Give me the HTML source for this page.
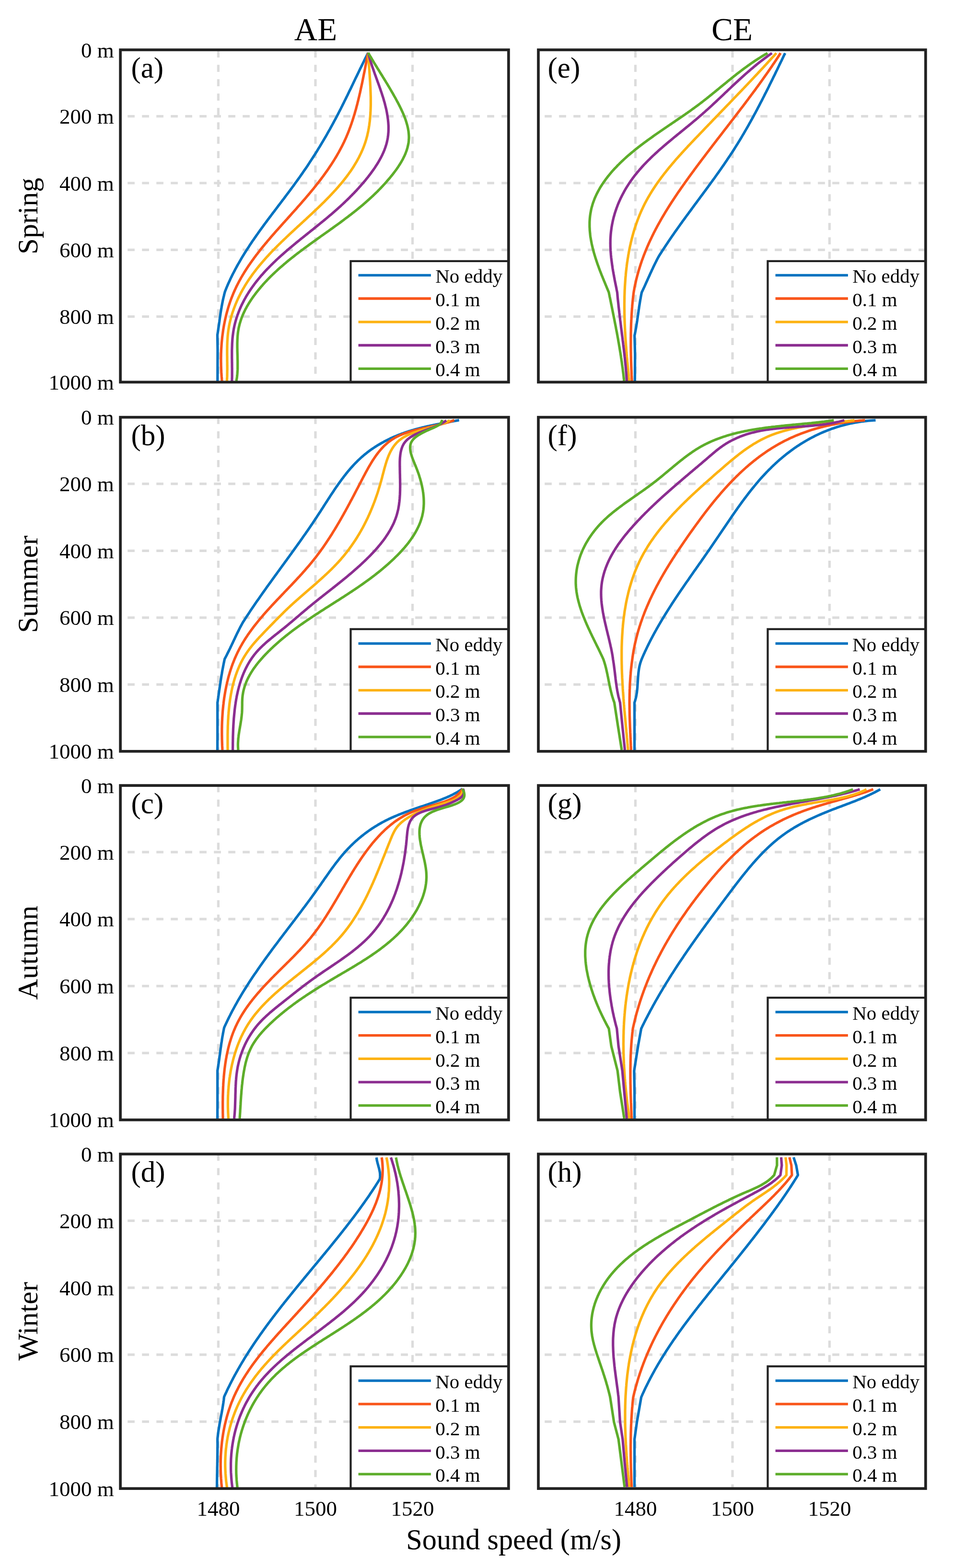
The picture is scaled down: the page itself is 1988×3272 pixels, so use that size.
<!DOCTYPE html>
<html><head><meta charset="utf-8"><title>Sound speed profiles</title><style>html,body{margin:0;padding:0;background:#fff;}svg{display:block}</style></head><body>
<svg xmlns="http://www.w3.org/2000/svg" width="1988" height="3272" viewBox="0 0 1988 3272" style="display:block">
<rect width="1988" height="3272" fill="#fff"/>
<g><line x1="455.4" y1="104" x2="455.4" y2="797.4" stroke="#dcdcdc" stroke-width="5.2" stroke-dasharray="14.7 15.3" stroke-dashoffset="-1.2"/><line x1="658" y1="104" x2="658" y2="797.4" stroke="#dcdcdc" stroke-width="5.2" stroke-dasharray="14.7 15.3" stroke-dashoffset="-1.2"/><line x1="860.6" y1="104" x2="860.6" y2="797.4" stroke="#dcdcdc" stroke-width="5.2" stroke-dasharray="14.7 15.3" stroke-dashoffset="-1.2"/><line x1="1060.9" y1="242.7" x2="251.1" y2="242.7" stroke="#dcdcdc" stroke-width="5.2" stroke-dasharray="14.7 15.3" stroke-dashoffset="0"/><line x1="1060.9" y1="382" x2="251.1" y2="382" stroke="#dcdcdc" stroke-width="5.2" stroke-dasharray="14.7 15.3" stroke-dashoffset="0"/><line x1="1060.9" y1="521.4" x2="251.1" y2="521.4" stroke="#dcdcdc" stroke-width="5.2" stroke-dasharray="14.7 15.3" stroke-dashoffset="0"/><line x1="1060.9" y1="660.7" x2="251.1" y2="660.7" stroke="#dcdcdc" stroke-width="5.2" stroke-dasharray="14.7 15.3" stroke-dashoffset="0"/></g>
<polyline points="768,110 766.6,112.7 765.3,115.4 763.9,118.1 762.6,120.8 761.2,123.5 759.9,126.2 758.6,128.9 757.2,131.6 755.9,134.3 754.6,137 753.3,139.7 751.9,142.4 750.6,145.2 749.3,147.9 748,150.6 746.7,153.3 745.4,156 744.1,158.8 742.7,161.5 741.4,164.2 740.1,166.9 738.8,169.6 737.5,172.4 736.2,175.1 734.9,177.8 733.6,180.5 732.3,183.3 731,186 729.6,188.7 728.3,191.4 727,194.1 725.7,196.8 724.4,199.6 723,202.3 721.7,205 720.4,207.7 719,210.4 717.7,213.1 716.4,215.8 715,218.5 713.7,221.2 712.3,223.9 711,226.6 709.6,229.3 708.2,231.9 706.8,234.6 705.5,237.3 704.1,240 702.7,242.7 701.3,245.3 699.9,248 698.5,250.6 697,253.3 695.6,256 694.2,258.6 692.7,261.2 691.3,263.9 689.8,266.5 688.4,269.2 686.9,271.8 685.4,274.4 683.9,277 682.5,279.6 681,282.2 679.5,284.9 677.9,287.5 676.4,290.1 674.9,292.6 673.4,295.2 671.8,297.8 670.3,300.4 668.7,303 667.2,305.6 665.6,308.1 664,310.7 662.4,313.3 660.9,315.8 659.3,318.4 657.7,320.9 656.1,323.5 654.4,326 652.8,328.5 651.2,331.1 649.5,333.6 647.9,336.1 646.2,338.6 644.6,341.1 642.9,343.7 641.3,346.2 639.6,348.7 637.9,351.2 636.2,353.6 634.5,356.1 632.8,358.6 631.1,361.1 629.3,363.6 627.6,366 625.9,368.5 624.1,371 622.4,373.4 620.6,375.9 618.9,378.3 617.1,380.8 615.3,383.2 613.5,385.7 611.8,388.1 610,390.5 608.2,393 606.4,395.4 604.6,397.8 602.8,400.3 601,402.7 599.1,405.1 597.3,407.5 595.5,409.9 593.7,412.4 591.9,414.8 590,417.2 588.2,419.6 586.4,422 584.6,424.4 582.7,426.8 580.9,429.2 579.1,431.6 577.2,434.1 575.4,436.5 573.6,438.9 571.8,441.3 569.9,443.7 568.1,446.1 566.3,448.5 564.5,451 562.6,453.4 560.8,455.8 559,458.2 557.2,460.6 555.4,463.1 553.6,465.5 551.8,467.9 550,470.4 548.3,472.8 546.5,475.2 544.7,477.7 542.9,480.1 541.2,482.6 539.4,485 537.7,487.5 535.9,490 534.2,492.4 532.5,494.9 530.7,497.4 529,499.9 527.3,502.3 525.6,504.8 524,507.3 522.3,509.8 520.6,512.3 519,514.9 517.3,517.4 515.7,519.9 514.1,522.4 512.4,525 510.8,527.5 509.2,530.1 507.7,532.6 506.1,535.2 504.5,537.8 503,540.4 501.5,543 500,545.6 498.5,548.2 497,550.8 495.5,553.4 494,556.1 492.6,558.7 491.2,561.3 489.8,564 488.4,566.7 487,569.4 485.6,572 484.3,574.7 482.9,577.5 481.6,580.2 480.3,582.9 479.1,585.7 477.8,588.4 476.5,591.2 475.3,593.9 474.1,596.7 472.9,599.5 471.8,602.3 470.6,605.2 469.5,608 468.6,611.1 467.8,614.2 467.1,617.3 466.3,620.4 465.6,623.5 464.9,626.6 464.3,629.7 463.7,632.8 463.1,636 462.5,639.1 462,642.2 461.4,645.4 460.9,648.5 460.4,651.7 459.9,654.8 459.5,658 459,661.1 458.5,664.3 458.1,667.4 457.7,670.6 457.2,673.8 456.8,676.9 456.3,680.1 455.9,683.2 455.4,686.4 455,689.5 454.5,692.7 454,695.9 453.5,699 454,730 453.8,795" fill="none" stroke="#0072C0" stroke-width="5.3" stroke-linejoin="round" stroke-linecap="butt"/>
<polyline points="768,110 767.4,112.9 766.8,115.8 766.2,118.8 765.6,121.7 765,124.7 764.5,127.6 763.9,130.6 763.3,133.5 762.7,136.5 762.1,139.5 761.6,142.4 761,145.4 760.4,148.4 759.8,151.4 759.2,154.3 758.6,157.3 758,160.3 757.4,163.3 756.8,166.3 756.2,169.2 755.6,172.2 755,175.2 754.3,178.2 753.7,181.2 753,184.1 752.4,187.1 751.7,190.1 751.1,193.1 750.4,196 749.7,199 749,202 748.3,204.9 747.6,207.9 746.9,210.8 746.1,213.8 745.4,216.7 744.6,219.7 743.8,222.6 743.1,225.5 742.3,228.5 741.4,231.4 740.6,234.3 739.8,237.2 738.9,240.1 738,243 737.1,245.9 736.2,248.7 735.3,251.6 734.3,254.5 733.4,257.3 732.4,260.1 731.4,263 730.4,265.8 729.3,268.6 728.3,271.4 727.2,274.2 726.1,277 725,279.7 723.8,282.5 722.7,285.2 721.5,288 720.3,290.7 719,293.4 717.8,296.1 716.5,298.7 715.2,301.4 713.9,304.1 712.5,306.7 711.1,309.3 709.7,312 708.3,314.6 706.9,317.2 705.4,319.8 704,322.3 702.5,324.9 701,327.5 699.4,330 697.9,332.5 696.3,335.1 694.7,337.6 693.1,340.1 691.5,342.6 689.9,345.1 688.2,347.6 686.6,350 684.9,352.5 683.2,355 681.5,357.4 679.7,359.8 678,362.3 676.2,364.7 674.5,367.1 672.7,369.5 670.9,371.9 669.1,374.3 667.3,376.7 665.4,379.1 663.6,381.5 661.7,383.8 659.8,386.2 658,388.6 656.1,390.9 654.2,393.3 652.3,395.6 650.3,398 648.4,400.3 646.5,402.6 644.5,405 642.6,407.3 640.6,409.6 638.6,411.9 636.7,414.2 634.7,416.5 632.7,418.8 630.7,421.1 628.7,423.4 626.7,425.7 624.7,428 622.6,430.3 620.6,432.6 618.6,434.9 616.6,437.2 614.5,439.5 612.5,441.7 610.4,444 608.4,446.3 606.4,448.6 604.3,450.9 602.3,453.1 600.2,455.4 598.2,457.7 596.1,460 594.1,462.3 592,464.5 590,466.8 587.9,469.1 585.9,471.4 583.8,473.7 581.8,476 579.8,478.3 577.7,480.5 575.7,482.8 573.7,485.1 571.7,487.4 569.6,489.7 567.6,492 565.6,494.3 563.6,496.7 561.7,499 559.7,501.3 557.7,503.6 555.8,506 553.8,508.3 551.9,510.6 549.9,513 548,515.3 546.1,517.7 544.2,520 542.3,522.4 540.5,524.8 538.6,527.2 536.8,529.6 534.9,531.9 533.1,534.3 531.3,536.8 529.5,539.2 527.8,541.6 526,544 524.3,546.5 522.5,548.9 520.8,551.4 519.1,553.8 517.5,556.3 515.8,558.8 514.2,561.3 512.6,563.8 511,566.3 509.4,568.8 507.9,571.4 506.3,573.9 504.8,576.5 503.3,579 501.9,581.6 500.4,584.2 499,586.8 497.6,589.4 496.3,592.1 494.9,594.7 493.6,597.3 492.3,600 491.1,602.7 489.8,605.4 488.6,608.1 487.4,610.8 486.3,613.5 485.2,616.3 484.1,619 483,621.8 481.9,624.6 480.9,627.4 479.9,630.2 479,633 478,635.8 477.1,638.7 476.2,641.5 475.4,644.4 474.6,647.3 473.8,650.1 473,653 472.2,655.9 471.5,658.8 470.8,661.8 470.1,664.7 469.5,667.6 468.9,670.6 468.3,673.5 467.7,676.5 467.1,679.5 466.6,682.4 466.1,685.4 465.6,688.4 465.2,691.4 464.8,694.4 464.4,697.4 464,700.4 463.6,703.5 463.3,706.5 463,709.5 462.7,712.5 462.4,715.6 462.2,718.6 462,721.7 461.8,724.7 461.6,727.8 461.4,730.8 461.3,733.9 461.2,736.9 461.1,740 461.1,743 461,746.1 461,749.2 461,752.2 461,755.3 461.1,758.3 461.1,761.4 461.2,764.5 461.3,767.5 461.4,770.6 461.6,773.7 461.7,776.7 461.9,779.8 462.1,782.8 462.3,785.9 462.6,788.9 462.8,792 463.1,795" fill="none" stroke="#F9551A" stroke-width="5.3" stroke-linejoin="round" stroke-linecap="butt"/>
<polyline points="768,110 768.2,112.9 768.3,115.8 768.5,118.7 768.7,121.6 768.9,124.6 769.1,127.5 769.3,130.5 769.5,133.4 769.7,136.4 769.9,139.4 770.1,142.4 770.4,145.4 770.6,148.5 770.8,151.5 771,154.5 771.2,157.6 771.4,160.6 771.6,163.7 771.8,166.8 772,169.8 772.2,172.9 772.3,176 772.5,179.1 772.7,182.1 772.8,185.2 772.9,188.3 773,191.4 773.1,194.5 773.2,197.6 773.3,200.7 773.4,203.8 773.4,206.9 773.4,209.9 773.4,213 773.4,216.1 773.4,219.2 773.3,222.3 773.2,225.3 773.1,228.4 773,231.4 772.8,234.5 772.7,237.5 772.5,240.6 772.2,243.6 772,246.6 771.7,249.6 771.4,252.6 771,255.6 770.6,258.6 770.2,261.6 769.7,264.5 769.3,267.5 768.7,270.4 768.2,273.3 767.6,276.2 766.9,279.1 766.3,282 765.6,284.8 764.8,287.7 764,290.5 763.2,293.3 762.3,296.1 761.4,298.9 760.4,301.7 759.4,304.4 758.4,307.1 757.3,309.8 756.2,312.5 755,315.2 753.8,317.9 752.6,320.5 751.3,323.2 750,325.8 748.7,328.4 747.3,331 745.9,333.6 744.5,336.1 743,338.7 741.5,341.2 740,343.7 738.5,346.2 736.9,348.7 735.3,351.2 733.6,353.7 732,356.2 730.3,358.6 728.5,361 726.8,363.5 725,365.9 723.2,368.3 721.4,370.7 719.6,373 717.7,375.4 715.8,377.8 713.9,380.1 712,382.5 710,384.8 708,387.1 706,389.4 704,391.7 702,394 700,396.3 697.9,398.5 695.8,400.8 693.7,403 691.6,405.3 689.5,407.5 687.4,409.8 685.2,412 683.1,414.2 680.9,416.4 678.7,418.6 676.6,420.8 674.4,423 672.1,425.1 669.9,427.3 667.7,429.5 665.5,431.6 663.2,433.8 661,435.9 658.7,438.1 656.5,440.2 654.2,442.3 652,444.5 649.7,446.6 647.4,448.7 645.2,450.8 642.9,452.9 640.6,455 638.4,457.1 636.1,459.2 633.8,461.3 631.6,463.4 629.3,465.5 627,467.6 624.8,469.7 622.5,471.7 620.2,473.8 618,475.9 615.7,478 613.5,480.1 611.2,482.2 609,484.2 606.8,486.3 604.5,488.4 602.3,490.5 600.1,492.6 597.9,494.7 595.7,496.8 593.5,498.9 591.3,501 589.1,503.1 586.9,505.2 584.8,507.3 582.6,509.4 580.5,511.5 578.3,513.7 576.2,515.8 574.1,517.9 572,520.1 569.9,522.2 567.8,524.4 565.7,526.5 563.7,528.7 561.6,530.9 559.6,533.1 557.5,535.3 555.5,537.5 553.5,539.7 551.6,541.9 549.6,544.2 547.7,546.4 545.7,548.7 543.8,550.9 541.9,553.2 540,555.5 538.2,557.8 536.3,560.1 534.5,562.4 532.7,564.8 530.9,567.1 529.1,569.5 527.3,571.9 525.6,574.2 523.9,576.7 522.2,579.1 520.5,581.5 518.8,584 517.2,586.4 515.6,588.9 514,591.4 512.4,593.9 510.9,596.4 509.4,599 507.9,601.6 506.4,604.1 505,606.7 503.5,609.4 502.1,612 500.8,614.7 499.4,617.3 498.1,620 496.8,622.7 495.5,625.5 494.3,628.2 493.1,631 491.9,633.8 490.8,636.5 489.7,639.4 488.6,642.2 487.6,645 486.6,647.9 485.6,650.7 484.6,653.6 483.7,656.5 482.9,659.4 482,662.3 481.3,665.2 480.5,668.2 479.8,671.1 479.1,674.1 478.5,677.1 477.9,680 477.4,683 476.9,686 476.4,689 476,692 475.6,695.1 475.3,698.1 475,701.1 474.8,704.2 474.6,707.2 474.4,710.3 474.2,713.3 474.1,716.4 474,719.4 473.9,722.5 473.9,725.6 473.8,728.6 473.8,731.7 473.8,734.8 473.8,737.8 473.8,740.9 473.9,743.9 473.9,747 473.9,750.1 473.9,753.1 474,756.1 474,759.2 474,762.2 474.1,765.2 474.1,768.3 474.1,771.3 474,774.3 474,777.3 473.9,780.3 473.9,783.2 473.8,786.2 473.6,789.1 473.5,792.1 473.3,795" fill="none" stroke="#FDB212" stroke-width="5.3" stroke-linejoin="round" stroke-linecap="butt"/>
<polyline points="768,110 768.7,112.8 769.4,115.6 770.2,118.4 771,121.2 771.8,124.1 772.7,126.9 773.6,129.7 774.5,132.5 775.4,135.4 776.3,138.2 777.3,141.1 778.3,143.9 779.3,146.7 780.3,149.6 781.3,152.5 782.3,155.3 783.4,158.2 784.4,161.1 785.4,163.9 786.5,166.8 787.5,169.7 788.6,172.6 789.6,175.5 790.7,178.4 791.7,181.3 792.7,184.2 793.7,187.1 794.7,190.1 795.7,193 796.7,195.9 797.6,198.9 798.6,201.8 799.5,204.7 800.4,207.7 801.2,210.7 802.1,213.6 802.9,216.6 803.6,219.6 804.4,222.6 805.1,225.6 805.8,228.5 806.4,231.5 807,234.5 807.5,237.5 808,240.5 808.5,243.5 808.9,246.5 809.3,249.5 809.6,252.4 809.9,255.4 810.1,258.4 810.3,261.4 810.4,264.3 810.4,267.3 810.4,270.2 810.3,273.1 810.2,276.1 809.9,279 809.7,281.9 809.3,284.7 808.9,287.6 808.4,290.5 807.8,293.3 807.2,296.2 806.5,299 805.7,301.8 804.8,304.6 803.9,307.4 802.9,310.1 801.9,312.9 800.8,315.6 799.6,318.3 798.4,321 797.2,323.7 795.8,326.4 794.5,329 793.1,331.6 791.6,334.3 790.1,336.9 788.6,339.5 787,342 785.4,344.6 783.7,347.1 782.1,349.7 780.3,352.2 778.6,354.7 776.8,357.1 775,359.6 773.2,362.1 771.4,364.5 769.5,366.9 767.7,369.3 765.8,371.7 763.9,374 762,376.4 760,378.7 758.1,381 756.1,383.3 754.1,385.6 752.2,387.8 750.2,390.1 748.2,392.3 746.1,394.5 744.1,396.8 742.1,398.9 740,401.1 737.9,403.3 735.8,405.4 733.7,407.6 731.6,409.7 729.5,411.8 727.4,414 725.3,416 723.1,418.1 720.9,420.2 718.8,422.3 716.6,424.3 714.4,426.4 712.2,428.4 710,430.5 707.7,432.5 705.5,434.5 703.3,436.5 701,438.5 698.7,440.5 696.5,442.5 694.2,444.4 691.9,446.4 689.6,448.4 687.3,450.3 685,452.3 682.7,454.2 680.3,456.2 678,458.1 675.6,460.1 673.3,462 670.9,463.9 668.6,465.8 666.2,467.8 663.8,469.7 661.5,471.6 659.1,473.5 656.7,475.4 654.3,477.4 651.9,479.3 649.5,481.2 647.1,483.1 644.8,485 642.4,486.9 640,488.8 637.6,490.7 635.2,492.7 632.8,494.6 630.4,496.5 628,498.4 625.7,500.3 623.3,502.3 620.9,504.2 618.5,506.1 616.2,508.1 613.8,510 611.5,512 609.1,513.9 606.8,515.9 604.5,517.8 602.1,519.8 599.8,521.8 597.5,523.8 595.2,525.8 592.9,527.8 590.7,529.8 588.4,531.8 586.1,533.8 583.9,535.8 581.7,537.8 579.4,539.9 577.2,541.9 575,544 572.9,546.1 570.7,548.2 568.5,550.3 566.4,552.4 564.3,554.5 562.2,556.6 560.1,558.8 558,560.9 555.9,563.1 553.9,565.2 551.9,567.4 549.9,569.6 547.9,571.9 545.9,574.1 544,576.3 542.1,578.6 540.2,580.9 538.3,583.2 536.5,585.5 534.6,587.8 532.8,590.1 531,592.5 529.3,594.9 527.5,597.3 525.8,599.7 524.1,602.1 522.5,604.5 520.8,607 519.2,609.5 517.6,612 516.1,614.5 514.5,617 513,619.6 511.6,622.2 510.1,624.8 508.7,627.4 507.4,630 506,632.7 504.7,635.3 503.4,638 502.2,640.7 501,643.4 499.8,646.2 498.7,648.9 497.6,651.7 496.6,654.5 495.5,657.3 494.6,660.1 493.6,662.9 492.7,665.8 491.9,668.6 491.1,671.5 490.3,674.4 489.6,677.3 488.9,680.2 488.3,683.2 487.7,686.1 487.2,689.1 486.7,692.1 486.3,695.1 485.9,698.1 485.5,701.1 485.2,704.1 484.9,707.1 484.7,710.2 484.5,713.2 484.3,716.3 484.2,719.4 484.1,722.4 484,725.5 483.9,728.6 483.8,731.6 483.8,734.7 483.8,737.8 483.8,740.9 483.8,743.9 483.8,747 483.9,750.1 483.9,753.1 483.9,756.2 484,759.2 484,762.3 484,765.3 484.1,768.3 484.1,771.4 484.1,774.4 484.1,777.4 484.1,780.3 484.1,783.3 484.1,786.2 484,789.2 483.9,792.1 483.8,795" fill="none" stroke="#8B2D90" stroke-width="5.3" stroke-linejoin="round" stroke-linecap="butt"/>
<polyline points="768,110 769.5,112.6 771,115.2 772.5,117.8 774.1,120.3 775.6,122.9 777.1,125.5 778.7,128 780.2,130.6 781.8,133.1 783.3,135.7 784.9,138.2 786.4,140.7 788,143.3 789.6,145.8 791.2,148.4 792.7,150.9 794.3,153.5 795.9,156 797.5,158.5 799,161.1 800.6,163.7 802.2,166.2 803.8,168.8 805.3,171.4 806.9,173.9 808.5,176.5 810,179.1 811.6,181.7 813.1,184.3 814.7,187 816.2,189.6 817.8,192.3 819.3,194.9 820.8,197.6 822.3,200.3 823.9,203 825.4,205.7 826.8,208.4 828.3,211.2 829.8,213.9 831.3,216.7 832.7,219.5 834.1,222.3 835.5,225.1 836.9,228 838.2,230.8 839.5,233.6 840.8,236.5 842,239.4 843.2,242.2 844.3,245.1 845.4,248 846.4,250.9 847.3,253.8 848.2,256.7 849,259.5 849.8,262.4 850.5,265.3 851.1,268.2 851.6,271.1 852.1,274 852.4,276.9 852.7,279.7 852.9,282.6 853,285.5 853,288.3 852.8,291.1 852.6,294 852.3,296.8 851.9,299.6 851.3,302.4 850.7,305.2 850,308 849.2,310.7 848.4,313.5 847.4,316.2 846.4,318.9 845.3,321.7 844.1,324.4 842.8,327 841.5,329.7 840.2,332.4 838.7,335 837.2,337.6 835.7,340.2 834.1,342.8 832.4,345.4 830.8,347.9 829,350.5 827.3,353 825.5,355.5 823.6,358 821.8,360.4 819.9,362.9 818,365.3 816,367.7 814.1,370.1 812.1,372.5 810.1,374.8 808.1,377.1 806.1,379.4 804.1,381.7 802.1,384 800,386.2 798,388.4 795.9,390.6 793.8,392.8 791.7,395 789.6,397.1 787.5,399.3 785.4,401.4 783.2,403.5 781,405.6 778.9,407.7 776.7,409.7 774.5,411.8 772.3,413.8 770.1,415.8 767.9,417.8 765.6,419.8 763.4,421.8 761.1,423.8 758.8,425.7 756.6,427.7 754.3,429.6 752,431.5 749.7,433.4 747.3,435.3 745,437.2 742.7,439.1 740.3,441 738,442.9 735.6,444.7 733.2,446.6 730.9,448.4 728.5,450.2 726.1,452.1 723.7,453.9 721.2,455.7 718.8,457.5 716.4,459.4 714,461.2 711.5,463 709.1,464.8 706.6,466.6 704.2,468.3 701.7,470.1 699.2,471.9 696.8,473.7 694.3,475.5 691.8,477.3 689.3,479 686.9,480.8 684.4,482.6 681.9,484.3 679.4,486.1 676.9,487.9 674.4,489.7 671.9,491.4 669.4,493.2 667,495 664.5,496.7 662,498.5 659.5,500.3 657,502.1 654.5,503.9 652.1,505.6 649.6,507.4 647.1,509.2 644.6,511 642.2,512.8 639.7,514.6 637.3,516.4 634.8,518.2 632.4,520 629.9,521.9 627.5,523.7 625.1,525.5 622.6,527.3 620.2,529.2 617.8,531 615.4,532.9 613,534.8 610.7,536.6 608.3,538.5 605.9,540.4 603.6,542.3 601.2,544.2 598.9,546.1 596.6,548.1 594.3,550 592,551.9 589.7,553.9 587.4,555.9 585.2,557.8 582.9,559.8 580.7,561.8 578.5,563.8 576.3,565.9 574.1,567.9 571.9,570 569.7,572 567.6,574.1 565.4,576.2 563.3,578.3 561.2,580.4 559.2,582.5 557.1,584.7 555.1,586.9 553,589 551,591.2 549,593.4 547.1,595.7 545.1,597.9 543.2,600.2 541.3,602.4 539.4,604.7 537.5,607.1 535.7,609.4 533.9,611.7 532.1,614.1 530.3,616.5 528.5,618.9 526.8,621.3 525.1,623.8 523.4,626.2 521.8,628.7 520.2,631.2 518.7,633.7 517.1,636.3 515.6,638.8 514.2,641.4 512.8,644 511.4,646.6 510.1,649.3 508.8,652 507.6,654.6 506.4,657.4 505.3,660.1 504.2,662.8 503.2,665.6 502.3,668.4 501.4,671.2 500.5,674.1 499.7,677 499,679.8 498.3,682.8 497.7,685.7 497.2,688.6 496.7,691.6 496.3,694.6 496,697.7 495.7,700.7 495.5,703.8 495.3,706.8 495.2,709.9 495.1,713 495,716.1 495,719.3 495,722.4 495,725.5 495.1,728.6 495.1,731.8 495.2,734.9 495.3,738.1 495.4,741.2 495.5,744.3 495.5,747.4 495.6,750.5 495.7,753.6 495.7,756.7 495.7,759.8 495.7,762.9 495.7,765.9 495.7,768.9 495.6,771.9 495.4,774.9 495.2,777.9 495,780.8 494.7,783.7 494.4,786.6 494,789.4 493.5,792.2 493,795" fill="none" stroke="#5DAD2A" stroke-width="5.3" stroke-linejoin="round" stroke-linecap="butt"/>
<rect x="731.5" y="544.9" width="329.4" height="252.5" fill="#fff" stroke="#222222" stroke-width="4.2"/>
<line x1="747.6" y1="574.3" x2="898.9" y2="574.3" stroke="#0072C0" stroke-width="5.3"/>
<text x="908.2" y="590.4" font-size="41" font-family="'Liberation Serif','Times New Roman',serif" fill="#000">No eddy</text>
<line x1="747.6" y1="623" x2="898.9" y2="623" stroke="#F9551A" stroke-width="5.3"/>
<text x="908.2" y="639.1" font-size="41" font-family="'Liberation Serif','Times New Roman',serif" fill="#000">0.1 m</text>
<line x1="747.6" y1="671.8" x2="898.9" y2="671.8" stroke="#FDB212" stroke-width="5.3"/>
<text x="908.2" y="687.9" font-size="41" font-family="'Liberation Serif','Times New Roman',serif" fill="#000">0.2 m</text>
<line x1="747.6" y1="720.5" x2="898.9" y2="720.5" stroke="#8B2D90" stroke-width="5.3"/>
<text x="908.2" y="736.6" font-size="41" font-family="'Liberation Serif','Times New Roman',serif" fill="#000">0.3 m</text>
<line x1="747.6" y1="769.3" x2="898.9" y2="769.3" stroke="#5DAD2A" stroke-width="5.3"/>
<text x="908.2" y="785.4" font-size="41" font-family="'Liberation Serif','Times New Roman',serif" fill="#000">0.4 m</text>
<rect x="251.1" y="104" width="809.8" height="693.4" fill="none" stroke="#222222" stroke-width="5.7"/>
<text x="273.4" y="161.8" font-size="61" font-family="'Liberation Serif','Times New Roman',serif" fill="#000">(a)</text>
<text x="237.8" y="119.5" font-size="45" font-family="'Liberation Serif','Times New Roman',serif" text-anchor="end" fill="#000">0 m</text>
<text x="237.8" y="258.2" font-size="45" font-family="'Liberation Serif','Times New Roman',serif" text-anchor="end" fill="#000">200 m</text>
<text x="237.8" y="397.5" font-size="45" font-family="'Liberation Serif','Times New Roman',serif" text-anchor="end" fill="#000">400 m</text>
<text x="237.8" y="536.9" font-size="45" font-family="'Liberation Serif','Times New Roman',serif" text-anchor="end" fill="#000">600 m</text>
<text x="237.8" y="676.2" font-size="45" font-family="'Liberation Serif','Times New Roman',serif" text-anchor="end" fill="#000">800 m</text>
<text x="237.8" y="812.9" font-size="45" font-family="'Liberation Serif','Times New Roman',serif" text-anchor="end" fill="#000">1000 m</text>
<g><line x1="455.4" y1="870.7" x2="455.4" y2="1567.8" stroke="#dcdcdc" stroke-width="5.2" stroke-dasharray="14.7 15.3" stroke-dashoffset="0.6"/><line x1="658" y1="870.7" x2="658" y2="1567.8" stroke="#dcdcdc" stroke-width="5.2" stroke-dasharray="14.7 15.3" stroke-dashoffset="0.6"/><line x1="860.6" y1="870.7" x2="860.6" y2="1567.8" stroke="#dcdcdc" stroke-width="5.2" stroke-dasharray="14.7 15.3" stroke-dashoffset="0.6"/><line x1="1060.9" y1="1009.7" x2="251.1" y2="1009.7" stroke="#dcdcdc" stroke-width="5.2" stroke-dasharray="14.7 15.3" stroke-dashoffset="0"/><line x1="1060.9" y1="1149.3" x2="251.1" y2="1149.3" stroke="#dcdcdc" stroke-width="5.2" stroke-dasharray="14.7 15.3" stroke-dashoffset="0"/><line x1="1060.9" y1="1288.8" x2="251.1" y2="1288.8" stroke="#dcdcdc" stroke-width="5.2" stroke-dasharray="14.7 15.3" stroke-dashoffset="0"/><line x1="1060.9" y1="1428.4" x2="251.1" y2="1428.4" stroke="#dcdcdc" stroke-width="5.2" stroke-dasharray="14.7 15.3" stroke-dashoffset="0"/></g>
<polyline points="957.7,876.7 954.8,877.3 951.9,877.8 949,878.4 946.1,878.9 943.1,879.5 940.2,880 937.2,880.6 934.3,881.1 931.3,881.7 928.3,882.2 925.3,882.8 922.4,883.4 919.4,883.9 916.4,884.5 913.4,885.1 910.4,885.7 907.4,886.3 904.4,886.9 901.4,887.5 898.4,888.1 895.4,888.8 892.4,889.4 889.4,890.1 886.4,890.8 883.4,891.5 880.4,892.2 877.4,893 874.5,893.7 871.5,894.5 868.5,895.3 865.6,896.1 862.6,897 859.7,897.8 856.8,898.7 853.9,899.6 851,900.6 848.1,901.5 845.2,902.5 842.3,903.5 839.5,904.6 836.6,905.6 833.8,906.7 831,907.8 828.2,908.9 825.4,910.1 822.6,911.3 819.9,912.5 817.1,913.7 814.4,915 811.7,916.3 809,917.6 806.3,919 803.6,920.3 801,921.7 798.4,923.2 795.8,924.6 793.2,926.1 790.6,927.6 788.1,929.1 785.5,930.7 783,932.3 780.6,933.9 778.1,935.6 775.6,937.2 773.2,938.9 770.8,940.7 768.5,942.4 766.1,944.2 763.8,946.1 761.5,947.9 759.2,949.8 757,951.7 754.7,953.6 752.5,955.6 750.4,957.6 748.2,959.6 746.1,961.7 744,963.8 741.9,965.9 739.9,968 737.8,970.2 735.8,972.4 733.8,974.6 731.8,976.8 729.9,979.1 727.9,981.4 726,983.6 724.1,986 722.2,988.3 720.4,990.7 718.5,993 716.7,995.4 714.9,997.8 713,1000.2 711.3,1002.7 709.5,1005.1 707.7,1007.6 705.9,1010.1 704.2,1012.6 702.4,1015.1 700.7,1017.6 699,1020.1 697.3,1022.6 695.6,1025.2 693.9,1027.7 692.2,1030.3 690.5,1032.8 688.8,1035.4 687.2,1038 685.5,1040.5 683.8,1043.1 682.2,1045.7 680.5,1048.3 678.8,1050.9 677.2,1053.4 675.5,1056 673.9,1058.6 672.2,1061.2 670.5,1063.8 668.9,1066.4 667.2,1068.9 665.5,1071.5 663.9,1074.1 662.2,1076.6 660.5,1079.2 658.8,1081.7 657.1,1084.3 655.5,1086.8 653.8,1089.3 652.1,1091.9 650.4,1094.4 648.6,1096.9 646.9,1099.4 645.2,1101.9 643.5,1104.4 641.8,1106.9 640.1,1109.4 638.3,1111.9 636.6,1114.4 634.9,1116.8 633.1,1119.3 631.4,1121.8 629.7,1124.3 627.9,1126.7 626.2,1129.2 624.4,1131.7 622.7,1134.1 620.9,1136.6 619.2,1139 617.4,1141.5 615.7,1143.9 613.9,1146.4 612.2,1148.8 610.4,1151.2 608.6,1153.7 606.9,1156.1 605.1,1158.5 603.4,1161 601.6,1163.4 599.8,1165.8 598.1,1168.3 596.3,1170.7 594.5,1173.1 592.8,1175.5 591,1178 589.2,1180.4 587.5,1182.8 585.7,1185.3 583.9,1187.7 582.2,1190.1 580.4,1192.5 578.6,1195 576.9,1197.4 575.1,1199.8 573.3,1202.2 571.6,1204.7 569.8,1207.1 568.1,1209.5 566.3,1212 564.6,1214.4 562.8,1216.8 561,1219.3 559.3,1221.7 557.5,1224.1 555.8,1226.6 554.1,1229 552.3,1231.5 550.6,1233.9 548.8,1236.4 547.1,1238.8 545.4,1241.3 543.6,1243.8 541.9,1246.2 540.2,1248.7 538.5,1251.2 536.7,1253.6 535,1256.1 533.3,1258.6 531.6,1261.1 529.9,1263.6 528.2,1266.1 526.5,1268.6 524.8,1271.1 523.1,1273.6 521.4,1276.1 519.8,1278.6 518.1,1281.2 516.4,1283.7 514.7,1286.2 513.1,1288.8 511.4,1291.3 509.8,1293.9 508.1,1296.4 506.5,1299 505,1301.7 503.5,1304.5 502,1307.3 500.5,1310.1 499.1,1312.9 497.7,1315.7 496.3,1318.5 494.9,1321.3 493.5,1324.1 492.2,1327 490.8,1329.8 489.5,1332.7 488.1,1335.5 486.8,1338.3 485.5,1341.2 484.1,1344 482.8,1346.9 481.4,1349.7 480.1,1352.6 478.7,1355.4 477.3,1358.2 475.9,1361 474.5,1363.8 473.1,1366.7 471.7,1369.4 470.2,1372.2 468.7,1375 468,1378.1 467.4,1381.2 466.7,1384.3 466.1,1387.4 465.5,1390.6 464.9,1393.7 464.3,1396.8 463.7,1399.9 463.2,1403.1 462.7,1406.2 462.1,1409.4 461.6,1412.5 461.1,1415.6 460.6,1418.8 460.1,1421.9 459.7,1425.1 459.2,1428.2 458.7,1431.4 458.3,1434.5 457.8,1437.7 457.3,1440.8 456.9,1444 456.4,1447.1 456,1450.3 455.5,1453.4 455.1,1456.6 454.6,1459.7 454.2,1462.9 453.7,1466 453.7,1469.1 453.7,1472.2 453.7,1475.3 453.7,1478.4 453.7,1481.5 453.7,1484.6 453.7,1487.7 453.7,1490.8 453.7,1493.8 453.7,1496.9 453.7,1500 453.7,1503.1 453.7,1506.2 453.7,1509.3 453.7,1512.4 453.7,1515.5 453.7,1518.6 453.7,1521.7 453.7,1524.8 453.7,1527.9 453.7,1531 453.7,1534.1 453.7,1537.2 453.7,1540.3 453.7,1543.3 453.6,1546.4 453.6,1549.5 453.6,1552.6 453.6,1555.7 453.6,1558.8 453.5,1561.9 453.5,1565" fill="none" stroke="#0072C0" stroke-width="5.3" stroke-linejoin="round" stroke-linecap="butt"/>
<polyline points="947.7,876.7 945,877.7 942.3,878.7 939.5,879.7 936.8,880.6 933.9,881.5 931.1,882.3 928.2,883.2 925.3,883.9 922.3,884.7 919.3,885.5 916.4,886.2 913.3,886.9 910.3,887.6 907.3,888.3 904.2,889 901.2,889.7 898.1,890.3 895,891 892,891.7 888.9,892.3 885.8,893 882.7,893.7 879.7,894.4 876.6,895.1 873.5,895.8 870.5,896.5 867.5,897.3 864.5,898.1 861.5,898.9 858.5,899.7 855.5,900.6 852.6,901.5 849.7,902.4 846.8,903.4 844,904.4 841.2,905.5 838.4,906.6 835.7,907.7 833,908.9 830.3,910.1 827.7,911.4 825.2,912.8 822.6,914.2 820.2,915.7 817.8,917.2 815.4,918.8 813.1,920.5 810.8,922.2 808.6,924 806.5,925.9 804.3,927.8 802.3,929.7 800.2,931.7 798.2,933.8 796.3,935.9 794.4,938 792.5,940.2 790.7,942.4 788.9,944.7 787.1,947 785.3,949.4 783.6,951.8 781.9,954.2 780.3,956.6 778.7,959.1 777,961.6 775.5,964.1 773.9,966.7 772.4,969.3 770.8,971.9 769.3,974.5 767.8,977.1 766.4,979.8 764.9,982.5 763.4,985.1 762,987.8 760.6,990.5 759.1,993.2 757.7,995.9 756.3,998.6 754.9,1001.3 753.5,1004 752.1,1006.7 750.7,1009.4 749.3,1012.1 747.9,1014.8 746.5,1017.5 745,1020.2 743.6,1022.9 742.2,1025.6 740.8,1028.3 739.4,1031 738,1033.7 736.6,1036.4 735.2,1039 733.8,1041.7 732.3,1044.4 730.9,1047 729.5,1049.7 728.1,1052.4 726.6,1055 725.2,1057.7 723.8,1060.3 722.3,1063 720.9,1065.6 719.4,1068.2 717.9,1070.9 716.5,1073.5 715,1076.1 713.5,1078.7 712.1,1081.3 710.6,1083.9 709.1,1086.5 707.6,1089.1 706.1,1091.7 704.5,1094.3 703,1096.9 701.5,1099.5 699.9,1102 698.4,1104.6 696.8,1107.1 695.2,1109.7 693.7,1112.2 692.1,1114.8 690.5,1117.3 688.9,1119.8 687.3,1122.3 685.6,1124.8 684,1127.3 682.3,1129.8 680.7,1132.3 679,1134.8 677.3,1137.2 675.6,1139.7 673.9,1142.2 672.2,1144.6 670.4,1147 668.7,1149.5 666.9,1151.9 665.1,1154.3 663.3,1156.7 661.5,1159.1 659.7,1161.5 657.9,1163.9 656,1166.2 654.1,1168.6 652.2,1170.9 650.3,1173.3 648.4,1175.6 646.5,1177.9 644.6,1180.2 642.6,1182.5 640.6,1184.8 638.6,1187.1 636.6,1189.4 634.6,1191.7 632.6,1193.9 630.6,1196.2 628.6,1198.5 626.5,1200.7 624.5,1203 622.4,1205.2 620.3,1207.4 618.2,1209.7 616.2,1211.9 614.1,1214.1 612,1216.3 609.9,1218.6 607.8,1220.8 605.7,1223 603.6,1225.2 601.5,1227.4 599.3,1229.6 597.2,1231.8 595.1,1234 593,1236.2 590.9,1238.5 588.8,1240.7 586.7,1242.9 584.6,1245.1 582.5,1247.3 580.4,1249.5 578.3,1251.7 576.2,1253.9 574.1,1256.2 572,1258.4 569.9,1260.6 567.8,1262.8 565.8,1265.1 563.7,1267.3 561.7,1269.6 559.6,1271.8 557.6,1274.1 555.6,1276.3 553.6,1278.6 551.6,1280.8 549.6,1283.1 547.6,1285.4 545.7,1287.7 543.7,1290 541.8,1292.3 539.9,1294.6 538,1296.9 536.1,1299.3 534.2,1301.6 532.4,1304 530.5,1306.3 528.7,1308.7 526.9,1311.1 525.1,1313.5 523.4,1315.9 521.6,1318.3 519.9,1320.7 518.2,1323.1 516.5,1325.6 514.9,1328.1 513.2,1330.5 511.6,1333 510,1335.5 508.5,1338 506.9,1340.6 505.4,1343.1 504,1345.7 502.5,1348.3 501.1,1350.8 499.7,1353.5 498.3,1356.1 497,1358.7 495.6,1361.4 494.4,1364.1 493.1,1366.7 491.9,1369.5 490.7,1372.2 489.5,1374.9 488.4,1377.7 487.3,1380.4 486.2,1383.2 485.1,1386 484.1,1388.8 483.1,1391.7 482.2,1394.5 481.2,1397.4 480.3,1400.2 479.4,1403.1 478.6,1406 477.7,1408.9 476.9,1411.8 476.1,1414.7 475.4,1417.7 474.7,1420.6 473.9,1423.5 473.3,1426.5 472.6,1429.5 472,1432.4 471.4,1435.4 470.8,1438.4 470.2,1441.4 469.7,1444.4 469.2,1447.4 468.7,1450.4 468.2,1453.4 467.7,1456.5 467.3,1459.5 466.9,1462.5 466.5,1465.5 466.2,1468.6 465.8,1471.6 465.5,1474.7 465.2,1477.7 464.9,1480.7 464.6,1483.8 464.4,1486.8 464.2,1489.9 464,1492.9 463.8,1496 463.6,1499 463.5,1502.1 463.3,1505.1 463.2,1508.1 463.1,1511.2 463,1514.2 463,1517.3 462.9,1520.3 462.9,1523.3 462.9,1526.3 462.9,1529.3 462.9,1532.4 462.9,1535.4 463,1538.4 463,1541.3 463.1,1544.3 463.2,1547.3 463.3,1550.3 463.4,1553.2 463.5,1556.2 463.7,1559.1 463.8,1562.1 464,1565" fill="none" stroke="#F9551A" stroke-width="5.3" stroke-linejoin="round" stroke-linecap="butt"/>
<polyline points="938.3,877.3 935.9,878.6 933.4,879.9 930.9,881.1 928.3,882.2 925.6,883.3 922.8,884.3 920,885.4 917.1,886.3 914.2,887.3 911.2,888.2 908.2,889.1 905.2,890 902.1,890.9 899.1,891.7 896,892.6 892.8,893.5 889.7,894.4 886.6,895.2 883.5,896.1 880.4,897.1 877.3,898 874.2,899 871.1,899.9 868.1,901 865.1,902 862.1,903.1 859.2,904.2 856.3,905.4 853.5,906.6 850.7,907.9 848,909.2 845.4,910.6 842.8,912 840.3,913.5 837.9,915.1 835.6,916.8 833.4,918.5 831.2,920.3 829.2,922.2 827.2,924.1 825.4,926.2 823.6,928.3 821.9,930.5 820.3,932.7 818.8,935 817.4,937.4 816,939.8 814.6,942.3 813.4,944.9 812.2,947.4 811,950.1 809.9,952.8 808.9,955.5 807.9,958.2 806.9,961 806,963.8 805.1,966.7 804.2,969.6 803.4,972.5 802.6,975.4 801.7,978.3 801,981.3 800.2,984.3 799.4,987.2 798.6,990.2 797.8,993.2 797.1,996.2 796.3,999.2 795.5,1002.1 794.7,1005.1 793.8,1008.1 793,1011 792.1,1014 791.2,1016.9 790.3,1019.8 789.4,1022.8 788.5,1025.7 787.6,1028.6 786.6,1031.5 785.6,1034.3 784.6,1037.2 783.6,1040.1 782.6,1042.9 781.6,1045.8 780.5,1048.6 779.4,1051.4 778.3,1054.2 777.2,1057 776.1,1059.8 774.9,1062.6 773.8,1065.4 772.6,1068.1 771.4,1070.9 770.2,1073.6 768.9,1076.3 767.7,1079.1 766.4,1081.8 765.1,1084.5 763.8,1087.1 762.5,1089.8 761.1,1092.5 759.8,1095.1 758.4,1097.8 757,1100.4 755.6,1103 754.1,1105.6 752.7,1108.2 751.2,1110.8 749.7,1113.3 748.2,1115.9 746.6,1118.4 745.1,1121 743.5,1123.5 741.9,1126 740.3,1128.5 738.6,1130.9 737,1133.4 735.3,1135.8 733.6,1138.3 731.9,1140.7 730.1,1143.1 728.4,1145.5 726.6,1147.9 724.8,1150.2 723,1152.6 721.1,1154.9 719.2,1157.3 717.4,1159.6 715.4,1161.9 713.5,1164.1 711.6,1166.4 709.6,1168.7 707.6,1170.9 705.6,1173.1 703.5,1175.3 701.5,1177.5 699.4,1179.7 697.3,1181.9 695.2,1184 693.1,1186.1 690.9,1188.3 688.7,1190.4 686.6,1192.5 684.4,1194.6 682.2,1196.7 680,1198.8 677.7,1200.8 675.5,1202.9 673.2,1205 671,1207 668.7,1209.1 666.4,1211.1 664.2,1213.1 661.9,1215.1 659.6,1217.2 657.3,1219.2 655,1221.2 652.7,1223.2 650.4,1225.2 648,1227.2 645.7,1229.2 643.4,1231.2 641.1,1233.2 638.8,1235.2 636.5,1237.2 634.2,1239.2 631.9,1241.2 629.6,1243.2 627.3,1245.2 625,1247.2 622.8,1249.2 620.5,1251.2 618.2,1253.2 616,1255.2 613.7,1257.2 611.5,1259.2 609.3,1261.3 607.1,1263.3 604.9,1265.3 602.7,1267.4 600.5,1269.4 598.4,1271.5 596.2,1273.5 594.1,1275.6 592,1277.7 589.9,1279.8 587.8,1281.9 585.7,1284 583.6,1286.1 581.5,1288.2 579.4,1290.3 577.3,1292.4 575.2,1294.5 573.1,1296.6 571,1298.8 569,1300.9 566.9,1303.1 564.8,1305.2 562.7,1307.4 560.6,1309.5 558.5,1311.7 556.4,1313.8 554.3,1316 552.2,1318.2 550.1,1320.4 548,1322.6 545.9,1324.8 543.8,1327 541.7,1329.2 539.6,1331.4 537.6,1333.7 535.5,1335.9 533.5,1338.2 531.5,1340.5 529.6,1342.8 527.6,1345.1 525.7,1347.4 523.8,1349.8 522,1352.2 520.1,1354.6 518.4,1357 516.6,1359.4 514.9,1361.9 513.3,1364.4 511.7,1366.9 510.1,1369.4 508.6,1371.9 507.1,1374.5 505.7,1377.1 504.3,1379.7 502.9,1382.3 501.6,1385 500.4,1387.7 499.1,1390.4 498,1393.1 496.8,1395.8 495.7,1398.6 494.6,1401.3 493.6,1404.1 492.6,1406.9 491.6,1409.7 490.7,1412.5 489.8,1415.4 488.9,1418.2 488.1,1421.1 487.3,1424 486.5,1426.9 485.8,1429.8 485.1,1432.7 484.4,1435.6 483.8,1438.6 483.1,1441.5 482.6,1444.5 482,1447.4 481.5,1450.4 481,1453.4 480.5,1456.4 480,1459.4 479.6,1462.4 479.2,1465.4 478.8,1468.4 478.4,1471.4 478.1,1474.5 477.8,1477.5 477.5,1480.5 477.2,1483.6 476.9,1486.6 476.7,1489.7 476.4,1492.7 476.2,1495.7 476.1,1498.8 475.9,1501.8 475.7,1504.9 475.6,1507.9 475.5,1511 475.3,1514 475.2,1517.1 475.2,1520.1 475.1,1523.1 475,1526.2 475,1529.2 474.9,1532.2 474.9,1535.2 474.9,1538.2 474.9,1541.2 474.9,1544.2 474.9,1547.2 474.9,1550.2 474.9,1553.2 474.9,1556.2 474.9,1559.1 475,1562.1 475,1565" fill="none" stroke="#FDB212" stroke-width="5.3" stroke-linejoin="round" stroke-linecap="butt"/>
<polyline points="931,877.3 928.8,879 926.5,880.5 924.1,882 921.6,883.5 919,884.9 916.3,886.2 913.5,887.5 910.6,888.8 907.7,890 904.8,891.2 901.8,892.4 898.8,893.5 895.7,894.7 892.7,895.8 889.6,897 886.5,898.1 883.5,899.3 880.5,900.4 877.5,901.6 874.5,902.8 871.6,904.1 868.8,905.4 866,906.7 863.3,908.1 860.7,909.6 858.2,911.1 855.7,912.6 853.4,914.3 851.2,916 849.2,917.8 847.3,919.7 845.5,921.7 843.9,923.8 842.4,925.9 841.1,928.2 839.9,930.6 838.9,933 838,935.6 837.2,938.2 836.5,940.9 835.9,943.6 835.4,946.4 835,949.3 834.7,952.2 834.4,955.1 834.2,958.1 834.1,961.1 834,964.1 834,967.2 834,970.3 834,973.4 834.1,976.5 834.1,979.6 834.2,982.7 834.2,985.8 834.3,988.9 834.4,992 834.4,995.1 834.5,998.2 834.6,1001.3 834.6,1004.4 834.6,1007.4 834.7,1010.5 834.7,1013.6 834.7,1016.7 834.6,1019.7 834.6,1022.8 834.5,1025.8 834.4,1028.8 834.3,1031.9 834.1,1034.9 833.9,1037.9 833.7,1040.9 833.4,1043.9 833.1,1046.8 832.7,1049.8 832.4,1052.7 831.9,1055.7 831.4,1058.6 830.9,1061.5 830.3,1064.4 829.6,1067.2 828.9,1070.1 828.1,1072.9 827.3,1075.7 826.4,1078.5 825.4,1081.3 824.4,1084.1 823.3,1086.8 822.2,1089.6 821,1092.3 819.7,1095 818.4,1097.6 817,1100.3 815.6,1102.9 814.2,1105.5 812.7,1108.1 811.1,1110.7 809.5,1113.3 807.9,1115.8 806.2,1118.3 804.5,1120.9 802.8,1123.4 801,1125.8 799.2,1128.3 797.3,1130.7 795.4,1133.1 793.5,1135.5 791.5,1137.9 789.5,1140.3 787.5,1142.7 785.5,1145 783.5,1147.3 781.4,1149.6 779.3,1151.9 777.2,1154.1 775,1156.4 772.9,1158.6 770.7,1160.8 768.5,1163 766.3,1165.2 764.1,1167.4 761.9,1169.5 759.7,1171.6 757.5,1173.7 755.2,1175.8 753,1177.9 750.8,1180 748.5,1182 746.2,1184 744,1186.1 741.7,1188.1 739.4,1190.1 737.2,1192 734.9,1194 732.6,1196 730.3,1197.9 728,1199.8 725.7,1201.8 723.4,1203.7 721.1,1205.6 718.8,1207.5 716.4,1209.4 714.1,1211.3 711.8,1213.1 709.5,1215 707.2,1216.9 704.8,1218.7 702.5,1220.6 700.2,1222.4 697.8,1224.3 695.5,1226.1 693.2,1228 690.8,1229.8 688.5,1231.7 686.2,1233.5 683.8,1235.3 681.5,1237.2 679.2,1239 676.8,1240.8 674.5,1242.7 672.2,1244.5 669.9,1246.3 667.5,1248.2 665.2,1250 662.9,1251.9 660.6,1253.7 658.3,1255.6 655.9,1257.5 653.6,1259.3 651.3,1261.2 649,1263.1 646.7,1265 644.4,1266.9 642.1,1268.8 639.9,1270.7 637.6,1272.6 635.3,1274.5 633,1276.5 630.7,1278.4 628.4,1280.3 626.2,1282.3 623.9,1284.2 621.6,1286.2 619.3,1288.1 617,1290.1 614.7,1292 612.4,1294 610.1,1295.9 607.8,1297.9 605.5,1299.8 603.1,1301.8 600.8,1303.7 598.4,1305.7 596.1,1307.6 593.7,1309.6 591.3,1311.5 588.9,1313.4 586.5,1315.3 584.1,1317.2 581.7,1319.2 579.3,1321.1 576.9,1323 574.4,1324.9 572,1326.8 569.6,1328.8 567.2,1330.7 564.8,1332.7 562.5,1334.6 560.1,1336.6 557.8,1338.6 555.5,1340.6 553.2,1342.6 550.9,1344.7 548.7,1346.7 546.5,1348.8 544.4,1350.9 542.2,1353 540.2,1355.2 538.1,1357.4 536.1,1359.6 534.2,1361.8 532.3,1364.1 530.4,1366.4 528.6,1368.8 526.9,1371.1 525.2,1373.5 523.6,1376 521.9,1378.4 520.4,1380.9 518.9,1383.4 517.4,1386 516,1388.6 514.6,1391.2 513.3,1393.8 512,1396.4 510.7,1399.1 509.5,1401.8 508.3,1404.5 507.2,1407.2 506.1,1410 505,1412.8 504,1415.6 503,1418.4 502.1,1421.2 501.2,1424.1 500.3,1426.9 499.5,1429.8 498.6,1432.7 497.9,1435.6 497.1,1438.5 496.4,1441.5 495.7,1444.4 495.1,1447.4 494.4,1450.4 493.8,1453.3 493.3,1456.3 492.7,1459.3 492.2,1462.4 491.7,1465.4 491.3,1468.4 490.8,1471.4 490.4,1474.5 490,1477.5 489.6,1480.6 489.3,1483.6 489,1486.7 488.7,1489.7 488.4,1492.8 488.1,1495.9 487.8,1498.9 487.6,1502 487.4,1505 487.2,1508.1 487,1511.2 486.8,1514.2 486.7,1517.3 486.5,1520.3 486.4,1523.3 486.3,1526.4 486.2,1529.4 486.1,1532.4 486,1535.4 485.9,1538.4 485.9,1541.4 485.8,1544.4 485.8,1547.4 485.7,1550.4 485.7,1553.3 485.7,1556.3 485.6,1559.2 485.6,1562.1 485.6,1565" fill="none" stroke="#8B2D90" stroke-width="5.3" stroke-linejoin="round" stroke-linecap="butt"/>
<polyline points="922.3,876 921.7,878.5 920.7,880.8 919.4,882.8 917.7,884.7 915.8,886.3 913.6,887.9 911.2,889.3 908.6,890.7 905.8,892 902.9,893.3 899.9,894.6 896.9,895.9 893.8,897.3 890.7,898.7 887.5,900.1 884.5,901.6 881.4,903.1 878.5,904.7 875.6,906.4 872.8,908.1 870.2,909.8 867.7,911.6 865.4,913.5 863.3,915.5 861.5,917.5 859.9,919.6 858.5,921.8 857.4,924 856.6,926.4 856,928.8 855.7,931.3 855.6,933.8 855.7,936.4 855.9,939.1 856.3,941.8 856.9,944.6 857.6,947.4 858.5,950.2 859.4,953.1 860.4,956 861.5,959 862.7,962 863.9,965 865.1,968 866.4,971 867.6,974 868.8,977.1 870,980.1 871.1,983.1 872.2,986.2 873.3,989.2 874.3,992.2 875.2,995.3 876.2,998.3 877,1001.3 877.9,1004.4 878.7,1007.4 879.4,1010.4 880.1,1013.4 880.7,1016.4 881.3,1019.4 881.9,1022.4 882.3,1025.4 882.8,1028.4 883.1,1031.3 883.4,1034.3 883.7,1037.2 883.9,1040.2 884,1043.1 884.1,1046 884.1,1049 884.1,1051.9 883.9,1054.7 883.8,1057.6 883.5,1060.5 883.2,1063.3 882.8,1066.2 882.4,1069 881.8,1071.8 881.2,1074.6 880.6,1077.4 879.8,1080.1 879,1082.9 878.1,1085.6 877.2,1088.3 876.2,1091 875.1,1093.7 874,1096.4 872.8,1099 871.5,1101.6 870.2,1104.2 868.9,1106.8 867.4,1109.4 866,1112 864.5,1114.5 862.9,1117.1 861.3,1119.6 859.6,1122.1 857.9,1124.5 856.2,1127 854.4,1129.4 852.6,1131.9 850.7,1134.3 848.8,1136.7 846.8,1139 844.9,1141.4 842.9,1143.7 840.8,1146 838.8,1148.3 836.7,1150.6 834.6,1152.9 832.5,1155.1 830.3,1157.3 828.1,1159.6 825.9,1161.7 823.7,1163.9 821.5,1166.1 819.2,1168.2 817,1170.3 814.7,1172.4 812.4,1174.5 810.2,1176.5 807.9,1178.6 805.6,1180.6 803.2,1182.6 800.9,1184.6 798.6,1186.6 796.2,1188.5 793.9,1190.5 791.5,1192.4 789.1,1194.3 786.7,1196.2 784.3,1198.1 781.9,1200 779.5,1201.8 777.1,1203.6 774.7,1205.5 772.2,1207.3 769.8,1209.1 767.4,1210.9 764.9,1212.7 762.5,1214.4 760,1216.2 757.5,1218 755,1219.7 752.6,1221.4 750.1,1223.1 747.6,1224.9 745.1,1226.6 742.6,1228.3 740.1,1229.9 737.6,1231.6 735.1,1233.3 732.6,1235 730,1236.6 727.5,1238.3 725,1239.9 722.5,1241.6 719.9,1243.2 717.4,1244.9 714.9,1246.5 712.4,1248.1 709.8,1249.8 707.3,1251.4 704.8,1253 702.2,1254.6 699.7,1256.2 697.1,1257.8 694.6,1259.5 692.1,1261.1 689.5,1262.7 687,1264.3 684.5,1265.9 681.9,1267.5 679.4,1269.1 676.9,1270.7 674.4,1272.4 671.8,1274 669.3,1275.6 666.8,1277.2 664.3,1278.9 661.8,1280.5 659.3,1282.1 656.7,1283.8 654.2,1285.4 651.7,1287.1 649.3,1288.7 646.8,1290.4 644.3,1292 641.8,1293.7 639.3,1295.4 636.9,1297.1 634.4,1298.8 632,1300.5 629.5,1302.2 627.1,1303.9 624.6,1305.6 622.2,1307.4 619.8,1309.1 617.4,1310.9 615,1312.7 612.6,1314.4 610.2,1316.2 607.8,1318 605.4,1319.8 603.1,1321.7 600.7,1323.5 598.4,1325.4 596,1327.2 593.7,1329.1 591.4,1331 589.1,1332.9 586.8,1334.8 584.5,1336.8 582.2,1338.7 580,1340.7 577.7,1342.7 575.5,1344.7 573.2,1346.7 571,1348.7 568.8,1350.8 566.6,1352.9 564.5,1354.9 562.3,1357.1 560.1,1359.2 558,1361.3 555.9,1363.5 553.8,1365.7 551.7,1367.9 549.6,1370.1 547.6,1372.4 545.6,1374.6 543.6,1376.9 541.6,1379.3 539.6,1381.6 537.7,1383.9 535.8,1386.3 534,1388.7 532.2,1391.2 530.4,1393.6 528.7,1396.1 527,1398.6 525.4,1401.1 523.8,1403.6 522.3,1406.2 520.8,1408.8 519.4,1411.4 518,1414 516.7,1416.7 515.4,1419.4 514.2,1422.1 513.1,1424.8 512.1,1427.6 511.1,1430.4 510.1,1433.2 509.3,1436.1 508.5,1438.9 507.8,1441.8 507.2,1444.8 506.7,1447.7 506.2,1450.7 505.9,1453.7 505.6,1456.7 505.4,1459.8 505.3,1462.9 505.2,1466 505.2,1469.1 505.2,1472.2 505.1,1475.4 505.1,1478.5 505,1481.6 504.9,1484.6 504.7,1487.7 504.4,1490.7 504.1,1493.7 503.8,1496.7 503.4,1499.7 503,1502.6 502.5,1505.6 502.1,1508.5 501.6,1511.5 501.1,1514.4 500.6,1517.3 500.1,1520.2 499.6,1523.1 499.1,1526.1 498.7,1529 498.2,1531.9 497.8,1534.8 497.5,1537.8 497.1,1540.7 496.9,1543.7 496.7,1546.7 496.5,1549.7 496.4,1552.7 496.4,1555.7 496.5,1558.8 496.7,1561.9 496.9,1565" fill="none" stroke="#5DAD2A" stroke-width="5.3" stroke-linejoin="round" stroke-linecap="butt"/>
<rect x="731.5" y="1312.8" width="329.4" height="255" fill="#fff" stroke="#222222" stroke-width="4.2"/>
<line x1="747.6" y1="1342.8" x2="898.9" y2="1342.8" stroke="#0072C0" stroke-width="5.3"/>
<text x="908.2" y="1358.9" font-size="41" font-family="'Liberation Serif','Times New Roman',serif" fill="#000">No eddy</text>
<line x1="747.6" y1="1391.5" x2="898.9" y2="1391.5" stroke="#F9551A" stroke-width="5.3"/>
<text x="908.2" y="1407.6" font-size="41" font-family="'Liberation Serif','Times New Roman',serif" fill="#000">0.1 m</text>
<line x1="747.6" y1="1440.3" x2="898.9" y2="1440.3" stroke="#FDB212" stroke-width="5.3"/>
<text x="908.2" y="1456.4" font-size="41" font-family="'Liberation Serif','Times New Roman',serif" fill="#000">0.2 m</text>
<line x1="747.6" y1="1489" x2="898.9" y2="1489" stroke="#8B2D90" stroke-width="5.3"/>
<text x="908.2" y="1505.1" font-size="41" font-family="'Liberation Serif','Times New Roman',serif" fill="#000">0.3 m</text>
<line x1="747.6" y1="1537.8" x2="898.9" y2="1537.8" stroke="#5DAD2A" stroke-width="5.3"/>
<text x="908.2" y="1553.9" font-size="41" font-family="'Liberation Serif','Times New Roman',serif" fill="#000">0.4 m</text>
<rect x="251.1" y="870.7" width="809.8" height="697.1" fill="none" stroke="#222222" stroke-width="5.7"/>
<text x="273.4" y="928.5" font-size="61" font-family="'Liberation Serif','Times New Roman',serif" fill="#000">(b)</text>
<text x="237.8" y="886.2" font-size="45" font-family="'Liberation Serif','Times New Roman',serif" text-anchor="end" fill="#000">0 m</text>
<text x="237.8" y="1025.2" font-size="45" font-family="'Liberation Serif','Times New Roman',serif" text-anchor="end" fill="#000">200 m</text>
<text x="237.8" y="1164.8" font-size="45" font-family="'Liberation Serif','Times New Roman',serif" text-anchor="end" fill="#000">400 m</text>
<text x="237.8" y="1304.3" font-size="45" font-family="'Liberation Serif','Times New Roman',serif" text-anchor="end" fill="#000">600 m</text>
<text x="237.8" y="1443.9" font-size="45" font-family="'Liberation Serif','Times New Roman',serif" text-anchor="end" fill="#000">800 m</text>
<text x="237.8" y="1583.3" font-size="45" font-family="'Liberation Serif','Times New Roman',serif" text-anchor="end" fill="#000">1000 m</text>
<g><line x1="455.4" y1="1639.1" x2="455.4" y2="2336.9" stroke="#dcdcdc" stroke-width="5.2" stroke-dasharray="14.7 15.3" stroke-dashoffset="0.6"/><line x1="658" y1="1639.1" x2="658" y2="2336.9" stroke="#dcdcdc" stroke-width="5.2" stroke-dasharray="14.7 15.3" stroke-dashoffset="0.6"/><line x1="860.6" y1="1639.1" x2="860.6" y2="2336.9" stroke="#dcdcdc" stroke-width="5.2" stroke-dasharray="14.7 15.3" stroke-dashoffset="0.6"/><line x1="1060.9" y1="1778.2" x2="251.1" y2="1778.2" stroke="#dcdcdc" stroke-width="5.2" stroke-dasharray="14.7 15.3" stroke-dashoffset="0"/><line x1="1060.9" y1="1917.9" x2="251.1" y2="1917.9" stroke="#dcdcdc" stroke-width="5.2" stroke-dasharray="14.7 15.3" stroke-dashoffset="0"/><line x1="1060.9" y1="2057.7" x2="251.1" y2="2057.7" stroke="#dcdcdc" stroke-width="5.2" stroke-dasharray="14.7 15.3" stroke-dashoffset="0"/><line x1="1060.9" y1="2197.4" x2="251.1" y2="2197.4" stroke="#dcdcdc" stroke-width="5.2" stroke-dasharray="14.7 15.3" stroke-dashoffset="0"/></g>
<polyline points="965,1646 962.7,1647.6 960.3,1649.1 957.9,1650.6 955.5,1652.1 953,1653.5 950.5,1654.9 948,1656.2 945.5,1657.5 942.9,1658.8 940.3,1660 937.7,1661.3 935,1662.5 932.4,1663.6 929.7,1664.8 927,1665.9 924.2,1667 921.5,1668.1 918.7,1669.2 915.9,1670.2 913.1,1671.3 910.3,1672.3 907.5,1673.3 904.7,1674.3 901.8,1675.3 899,1676.3 896.1,1677.3 893.2,1678.3 890.3,1679.2 887.5,1680.2 884.6,1681.2 881.7,1682.2 878.8,1683.1 875.9,1684.1 873,1685.1 870.1,1686.1 867.2,1687.1 864.3,1688.1 861.4,1689.1 858.5,1690.1 855.6,1691.1 852.7,1692.2 849.8,1693.2 846.9,1694.3 844.1,1695.3 841.2,1696.4 838.3,1697.5 835.5,1698.6 832.6,1699.8 829.8,1700.9 827,1702.1 824.2,1703.3 821.4,1704.5 818.6,1705.7 815.8,1707 813.1,1708.2 810.3,1709.5 807.6,1710.9 804.9,1712.2 802.2,1713.6 799.6,1715 796.9,1716.4 794.3,1717.9 791.6,1719.4 789,1720.9 786.5,1722.4 783.9,1724 781.4,1725.6 778.8,1727.2 776.3,1728.8 773.8,1730.5 771.4,1732.2 768.9,1733.9 766.5,1735.6 764.1,1737.4 761.7,1739.2 759.3,1741 757,1742.8 754.6,1744.7 752.3,1746.6 750,1748.5 747.7,1750.4 745.5,1752.4 743.3,1754.3 741,1756.3 738.8,1758.4 736.7,1760.4 734.5,1762.5 732.4,1764.5 730.3,1766.7 728.2,1768.8 726.1,1770.9 724.1,1773.1 722,1775.3 720,1777.5 718.1,1779.8 716.1,1782 714.2,1784.3 712.2,1786.6 710.3,1788.9 708.4,1791.2 706.6,1793.6 704.7,1796 702.9,1798.3 701,1800.7 699.2,1803.1 697.4,1805.5 695.6,1808 693.8,1810.4 692,1812.8 690.3,1815.3 688.5,1817.8 686.7,1820.2 685,1822.7 683.2,1825.2 681.5,1827.7 679.8,1830.1 678,1832.6 676.3,1835.1 674.6,1837.6 672.8,1840.1 671.1,1842.6 669.4,1845.1 667.6,1847.6 665.9,1850.1 664.1,1852.5 662.4,1855 660.6,1857.5 658.8,1860 657.1,1862.4 655.3,1864.9 653.5,1867.4 651.7,1869.8 650,1872.3 648.2,1874.7 646.4,1877.2 644.6,1879.6 642.8,1882 641,1884.5 639.2,1886.9 637.4,1889.3 635.6,1891.8 633.7,1894.2 631.9,1896.6 630.1,1899 628.3,1901.5 626.5,1903.9 624.6,1906.3 622.8,1908.7 621,1911.1 619.2,1913.5 617.3,1915.9 615.5,1918.4 613.7,1920.8 611.8,1923.2 610,1925.6 608.2,1928 606.3,1930.4 604.5,1932.8 602.7,1935.2 600.8,1937.6 599,1940 597.2,1942.4 595.4,1944.8 593.5,1947.2 591.7,1949.6 589.9,1952 588.1,1954.4 586.2,1956.8 584.4,1959.2 582.6,1961.6 580.8,1964 579,1966.5 577.2,1968.9 575.3,1971.3 573.5,1973.7 571.7,1976.1 569.9,1978.5 568.1,1980.9 566.3,1983.4 564.6,1985.8 562.8,1988.2 561,1990.6 559.2,1993.1 557.4,1995.5 555.7,1997.9 553.9,2000.4 552.1,2002.8 550.4,2005.2 548.6,2007.7 546.9,2010.1 545.2,2012.6 543.4,2015 541.7,2017.5 540,2020 538.3,2022.4 536.6,2024.9 534.9,2027.4 533.2,2029.9 531.5,2032.3 529.8,2034.8 528.1,2037.3 526.4,2039.8 524.8,2042.3 523.1,2044.8 521.5,2047.3 519.8,2049.8 518.2,2052.4 516.6,2054.9 515,2057.4 513.4,2060 511.8,2062.5 510.2,2065 508.6,2067.6 507,2070.2 505.5,2072.7 503.9,2075.3 502.4,2077.9 500.9,2080.5 499.3,2083.1 497.8,2085.6 496.3,2088.3 494.8,2090.9 493.4,2093.5 491.9,2096.1 490.4,2098.7 489,2101.4 487.6,2104 486.1,2106.7 484.7,2109.3 483.3,2112 481.9,2114.7 480.6,2117.4 479.2,2120.1 477.8,2122.8 476.5,2125.5 475.2,2128.2 473.9,2130.9 472.6,2133.7 471.3,2136.4 470,2139.2 468.7,2141.9 467.5,2144.7 466.9,2147.7 466.3,2150.8 465.7,2153.9 465.1,2156.9 464.6,2160 464,2163.1 463.5,2166.1 463,2169.2 462.6,2172.3 462.1,2175.4 461.6,2178.4 461.2,2181.5 460.8,2184.6 460.3,2187.7 459.9,2190.8 459.5,2193.9 459.1,2197 458.7,2200.1 458.2,2203.2 457.8,2206.2 457.4,2209.3 457,2212.4 456.5,2215.5 456.1,2218.6 455.6,2221.7 455.2,2224.8 454.7,2227.8 454.2,2230.9 453.7,2234 453.7,2237.1 453.7,2240.3 453.7,2243.4 453.7,2246.5 453.7,2249.6 453.7,2252.8 453.7,2255.9 453.7,2259 453.7,2262.1 453.7,2265.3 453.7,2268.4 453.7,2271.5 453.7,2274.6 453.7,2277.8 453.7,2280.9 453.7,2284 453.7,2287.1 453.7,2290.3 453.7,2293.4 453.7,2296.5 453.7,2299.6 453.7,2302.8 453.7,2305.9 453.7,2309 453.7,2312.1 453.6,2315.3 453.6,2318.4 453.6,2321.5 453.6,2324.6 453.6,2327.8 453.5,2330.9 453.5,2334" fill="none" stroke="#0072C0" stroke-width="5.3" stroke-linejoin="round" stroke-linecap="butt"/>
<polyline points="965,1646 963.6,1648.4 962,1650.6 960.3,1652.7 958.5,1654.7 956.6,1656.5 954.6,1658.3 952.5,1660 950.3,1661.6 948,1663.1 945.6,1664.6 943.1,1666 940.6,1667.2 938,1668.5 935.4,1669.7 932.6,1670.8 929.9,1671.9 927.1,1672.9 924.2,1673.9 921.3,1674.8 918.4,1675.8 915.5,1676.7 912.5,1677.6 909.5,1678.5 906.6,1679.3 903.6,1680.2 900.6,1681 897.5,1681.9 894.5,1682.8 891.5,1683.6 888.5,1684.5 885.5,1685.4 882.5,1686.3 879.5,1687.2 876.6,1688.2 873.6,1689.2 870.7,1690.2 867.8,1691.2 864.9,1692.3 862,1693.4 859.2,1694.6 856.4,1695.8 853.7,1697 850.9,1698.3 848.2,1699.6 845.6,1701 842.9,1702.4 840.3,1703.9 837.8,1705.4 835.2,1707 832.7,1708.5 830.2,1710.2 827.8,1711.8 825.3,1713.5 822.9,1715.2 820.6,1717 818.2,1718.8 815.9,1720.6 813.6,1722.5 811.4,1724.4 809.1,1726.3 806.9,1728.3 804.7,1730.2 802.6,1732.2 800.4,1734.3 798.3,1736.3 796.2,1738.4 794.1,1740.5 792.1,1742.7 790.1,1744.8 788.1,1747 786.1,1749.2 784.1,1751.4 782.2,1753.6 780.2,1755.9 778.3,1758.1 776.4,1760.4 774.6,1762.7 772.7,1765 770.9,1767.4 769.1,1769.7 767.3,1772.1 765.5,1774.5 763.7,1776.9 762,1779.3 760.2,1781.7 758.5,1784.1 756.8,1786.6 755.1,1789 753.4,1791.5 751.7,1794 750.1,1796.5 748.4,1799 746.8,1801.5 745.1,1804 743.5,1806.6 741.9,1809.1 740.3,1811.6 738.7,1814.2 737.1,1816.8 735.5,1819.3 734,1821.9 732.4,1824.5 730.8,1827.1 729.3,1829.7 727.7,1832.3 726.2,1834.9 724.6,1837.5 723.1,1840.1 721.6,1842.7 720,1845.3 718.5,1848 717,1850.6 715.4,1853.2 713.9,1855.8 712.4,1858.5 710.9,1861.1 709.3,1863.7 707.8,1866.3 706.3,1868.9 704.7,1871.6 703.2,1874.2 701.7,1876.8 700.1,1879.4 698.6,1882 697,1884.6 695.5,1887.2 693.9,1889.8 692.4,1892.4 690.8,1895 689.2,1897.6 687.6,1900.2 686,1902.8 684.4,1905.3 682.8,1907.9 681.2,1910.4 679.6,1913 677.9,1915.5 676.3,1918 674.6,1920.5 673,1923 671.3,1925.5 669.6,1928 667.9,1930.5 666.1,1932.9 664.4,1935.4 662.7,1937.8 660.9,1940.2 659.1,1942.6 657.3,1945 655.5,1947.4 653.7,1949.8 651.8,1952.1 650,1954.4 648.1,1956.8 646.2,1959.1 644.3,1961.3 642.3,1963.6 640.4,1965.9 638.4,1968.1 636.5,1970.4 634.5,1972.6 632.5,1974.8 630.5,1977 628.4,1979.2 626.4,1981.4 624.4,1983.6 622.3,1985.7 620.2,1987.9 618.2,1990 616.1,1992.2 614,1994.3 611.9,1996.5 609.8,1998.6 607.7,2000.7 605.5,2002.8 603.4,2005 601.3,2007.1 599.1,2009.2 597,2011.3 594.9,2013.4 592.7,2015.6 590.6,2017.7 588.4,2019.8 586.3,2021.9 584.1,2024.1 582,2026.2 579.8,2028.3 577.7,2030.5 575.6,2032.6 573.4,2034.7 571.3,2036.9 569.2,2039 567,2041.2 564.9,2043.4 562.8,2045.6 560.7,2047.8 558.6,2050 556.5,2052.2 554.4,2054.4 552.3,2056.6 550.2,2058.8 548.2,2061.1 546.1,2063.3 544.1,2065.6 542.1,2067.9 540.1,2070.2 538.1,2072.4 536.1,2074.8 534.2,2077.1 532.2,2079.4 530.3,2081.7 528.4,2084.1 526.5,2086.4 524.7,2088.8 522.8,2091.2 521,2093.6 519.2,2096 517.5,2098.4 515.7,2100.9 514,2103.3 512.3,2105.8 510.6,2108.3 509,2110.8 507.4,2113.3 505.8,2115.8 504.2,2118.4 502.7,2120.9 501.2,2123.5 499.8,2126.1 498.3,2128.7 497,2131.3 495.6,2133.9 494.3,2136.6 493,2139.3 491.7,2142 490.5,2144.7 489.4,2147.4 488.2,2150.1 487.1,2152.9 486,2155.6 485,2158.4 484,2161.2 483,2164 482.1,2166.8 481.2,2169.7 480.3,2172.5 479.4,2175.4 478.6,2178.3 477.8,2181.1 477.1,2184 476.3,2186.9 475.6,2189.9 475,2192.8 474.3,2195.7 473.7,2198.7 473.1,2201.6 472.5,2204.6 472,2207.5 471.4,2210.5 471,2213.5 470.5,2216.5 470,2219.5 469.6,2222.5 469.2,2225.5 468.8,2228.5 468.4,2231.5 468.1,2234.5 467.8,2237.6 467.5,2240.6 467.2,2243.6 466.9,2246.7 466.7,2249.7 466.4,2252.7 466.2,2255.8 466,2258.8 465.8,2261.9 465.7,2264.9 465.5,2267.9 465.4,2271 465.3,2274 465.2,2277.1 465.1,2280.1 465,2283.1 464.9,2286.2 464.8,2289.2 464.8,2292.2 464.8,2295.2 464.7,2298.3 464.7,2301.3 464.7,2304.3 464.7,2307.3 464.7,2310.3 464.7,2313.3 464.8,2316.2 464.8,2319.2 464.8,2322.2 464.9,2325.2 464.9,2328.1 465,2331.1 465,2334" fill="none" stroke="#F9551A" stroke-width="5.3" stroke-linejoin="round" stroke-linecap="butt"/>
<polyline points="965.5,1646 965.4,1649 964.9,1651.7 964.1,1654.2 962.9,1656.6 961.5,1658.7 959.8,1660.7 957.9,1662.5 955.7,1664.2 953.4,1665.7 950.9,1667.1 948.2,1668.5 945.5,1669.7 942.6,1670.9 939.7,1672 936.8,1673 933.8,1674 930.8,1675 927.8,1675.9 924.8,1676.8 921.7,1677.7 918.7,1678.6 915.7,1679.5 912.7,1680.4 909.7,1681.3 906.7,1682.2 903.8,1683.1 900.9,1684.1 898,1685 895.1,1686 892.3,1687 889.4,1688 886.6,1689.1 883.8,1690.2 881,1691.3 878.3,1692.4 875.5,1693.6 872.8,1694.8 870.1,1696.1 867.3,1697.4 864.6,1698.7 862,1700.1 859.3,1701.5 856.6,1703 854,1704.5 851.4,1706.1 848.8,1707.7 846.2,1709.4 843.8,1711.2 841.4,1713 839,1714.9 836.7,1716.8 834.6,1718.9 832.5,1721 830.5,1723.1 828.6,1725.4 826.9,1727.7 825.2,1730.1 823.7,1732.6 822.3,1735.2 820.9,1737.8 819.7,1740.4 818.4,1743.1 817.3,1745.8 816.1,1748.6 815,1751.3 813.9,1754.1 812.8,1756.9 811.7,1759.6 810.5,1762.4 809.4,1765.2 808.3,1768 807.2,1770.8 806.1,1773.5 805,1776.3 803.9,1779.1 802.8,1781.9 801.7,1784.7 800.6,1787.5 799.4,1790.3 798.3,1793.1 797.2,1795.9 796.1,1798.7 795,1801.5 793.8,1804.3 792.7,1807.1 791.6,1809.9 790.4,1812.7 789.3,1815.5 788.1,1818.3 787,1821.1 785.8,1823.9 784.6,1826.6 783.5,1829.4 782.3,1832.2 781.1,1835 779.9,1837.7 778.7,1840.5 777.5,1843.3 776.2,1846 775,1848.8 773.8,1851.5 772.5,1854.2 771.2,1857 770,1859.7 768.7,1862.4 767.4,1865.1 766.1,1867.8 764.8,1870.5 763.4,1873.2 762.1,1875.9 760.7,1878.5 759.3,1881.2 757.9,1883.9 756.5,1886.5 755.1,1889.1 753.7,1891.7 752.2,1894.4 750.8,1896.9 749.3,1899.5 747.8,1902.1 746.3,1904.7 744.7,1907.2 743.2,1909.8 741.6,1912.3 740,1914.8 738.4,1917.3 736.8,1919.8 735.1,1922.3 733.5,1924.7 731.8,1927.2 730.1,1929.6 728.3,1932 726.6,1934.4 724.8,1936.8 723,1939.2 721.2,1941.5 719.4,1943.8 717.5,1946.2 715.6,1948.5 713.7,1950.7 711.8,1953 709.8,1955.3 707.8,1957.5 705.8,1959.7 703.8,1961.9 701.7,1964.1 699.6,1966.2 697.6,1968.4 695.4,1970.5 693.3,1972.7 691.2,1974.8 689,1976.9 686.8,1978.9 684.6,1981 682.4,1983.1 680.2,1985.1 677.9,1987.2 675.7,1989.2 673.4,1991.2 671.1,1993.2 668.8,1995.2 666.5,1997.2 664.2,1999.2 661.8,2001.2 659.5,2003.1 657.2,2005.1 654.8,2007 652.4,2009 650.1,2010.9 647.7,2012.9 645.3,2014.8 642.9,2016.7 640.5,2018.6 638.1,2020.6 635.7,2022.5 633.3,2024.4 630.9,2026.3 628.5,2028.2 626.1,2030.2 623.7,2032.1 621.3,2034 618.9,2035.9 616.5,2037.8 614.1,2039.7 611.7,2041.6 609.3,2043.6 606.9,2045.5 604.5,2047.4 602.2,2049.3 599.8,2051.3 597.4,2053.2 595.1,2055.2 592.7,2057.1 590.4,2059.1 588.1,2061 585.8,2063 583.4,2065 581.2,2066.9 578.9,2068.9 576.6,2070.9 574.3,2072.9 572.1,2075 569.9,2077 567.7,2079 565.5,2081.1 563.3,2083.1 561.1,2085.2 559,2087.3 556.9,2089.4 554.8,2091.5 552.7,2093.6 550.6,2095.8 548.6,2097.9 546.5,2100.1 544.5,2102.3 542.6,2104.5 540.6,2106.7 538.7,2108.9 536.8,2111.2 534.9,2113.4 533,2115.7 531.2,2118 529.4,2120.3 527.6,2122.7 525.9,2125.1 524.2,2127.4 522.5,2129.8 520.9,2132.3 519.2,2134.7 517.6,2137.2 516.1,2139.7 514.6,2142.2 513.1,2144.7 511.6,2147.3 510.2,2149.9 508.8,2152.4 507.4,2155.1 506.1,2157.7 504.8,2160.4 503.5,2163 502.3,2165.7 501.1,2168.4 499.9,2171.2 498.8,2173.9 497.6,2176.7 496.6,2179.4 495.5,2182.2 494.5,2185 493.5,2187.9 492.5,2190.7 491.6,2193.6 490.7,2196.4 489.8,2199.3 488.9,2202.2 488.1,2205.1 487.3,2208 486.5,2210.9 485.8,2213.8 485.1,2216.8 484.4,2219.7 483.7,2222.7 483.1,2225.6 482.5,2228.6 481.9,2231.6 481.3,2234.6 480.8,2237.6 480.3,2240.6 479.8,2243.6 479.4,2246.6 478.9,2249.6 478.5,2252.6 478.2,2255.7 477.8,2258.7 477.5,2261.7 477.2,2264.7 476.9,2267.8 476.7,2270.8 476.4,2273.8 476.2,2276.9 476,2279.9 475.9,2282.9 475.7,2286 475.6,2289 475.5,2292 475.5,2295.1 475.4,2298.1 475.4,2301.1 475.4,2304.1 475.4,2307.2 475.4,2310.2 475.5,2313.2 475.6,2316.2 475.7,2319.2 475.8,2322.1 476,2325.1 476.1,2328.1 476.3,2331 476.5,2334" fill="none" stroke="#FDB212" stroke-width="5.3" stroke-linejoin="round" stroke-linecap="butt"/>
<polyline points="966,1646 967.1,1649.2 967.6,1652.2 967.4,1654.9 966.7,1657.4 965.5,1659.8 963.9,1661.9 961.9,1663.8 959.6,1665.6 957.1,1667.3 954.4,1668.8 951.7,1670.2 948.9,1671.6 946.1,1672.9 943.4,1674.1 940.8,1675.3 938.2,1676.4 935.5,1677.4 932.9,1678.5 930.3,1679.5 927.6,1680.4 924.9,1681.3 922.1,1682.2 919.2,1683.1 916.2,1684 913.1,1684.8 910,1685.7 906.7,1686.5 903.4,1687.4 900,1688.2 896.6,1689.1 893.2,1690.1 889.9,1691 886.6,1692.1 883.3,1693.2 880.1,1694.3 877,1695.6 874.1,1696.9 871.3,1698.3 868.6,1699.9 866.2,1701.5 863.9,1703.3 861.8,1705.2 860,1707.2 858.4,1709.3 856.9,1711.6 855.6,1713.9 854.5,1716.4 853.5,1718.9 852.6,1721.5 851.9,1724.2 851.2,1726.9 850.7,1729.7 850.2,1732.6 849.8,1735.5 849.5,1738.5 849.2,1741.4 848.9,1744.4 848.6,1747.5 848.4,1750.5 848.1,1753.5 847.8,1756.6 847.5,1759.6 847.2,1762.6 846.8,1765.7 846.5,1768.7 846.1,1771.7 845.7,1774.7 845.3,1777.8 844.9,1780.8 844.5,1783.8 844,1786.8 843.5,1789.9 843,1792.9 842.5,1795.9 842,1798.9 841.4,1801.9 840.8,1804.9 840.2,1807.9 839.6,1810.9 839,1813.9 838.3,1816.8 837.7,1819.8 837,1822.8 836.3,1825.7 835.5,1828.7 834.8,1831.6 834,1834.5 833.2,1837.4 832.3,1840.4 831.5,1843.3 830.6,1846.1 829.7,1849 828.8,1851.9 827.9,1854.8 826.9,1857.6 825.9,1860.4 824.9,1863.3 823.9,1866.1 822.8,1868.9 821.7,1871.7 820.6,1874.5 819.5,1877.2 818.3,1880 817.1,1882.7 815.9,1885.4 814.6,1888.1 813.4,1890.8 812.1,1893.5 810.8,1896.1 809.4,1898.8 808,1901.4 806.6,1904 805.2,1906.6 803.7,1909.2 802.2,1911.7 800.7,1914.3 799.2,1916.8 797.6,1919.3 796,1921.8 794.3,1924.2 792.7,1926.7 791,1929.1 789.3,1931.5 787.5,1933.9 785.7,1936.2 783.9,1938.6 782,1940.9 780.2,1943.2 778.2,1945.4 776.3,1947.7 774.3,1949.9 772.3,1952.1 770.3,1954.3 768.2,1956.4 766.1,1958.5 764,1960.6 761.8,1962.7 759.6,1964.8 757.4,1966.8 755.2,1968.8 752.9,1970.9 750.6,1972.8 748.3,1974.8 746,1976.8 743.6,1978.7 741.2,1980.6 738.8,1982.5 736.4,1984.4 734,1986.3 731.6,1988.1 729.1,1990 726.6,1991.8 724.2,1993.6 721.7,1995.4 719.2,1997.2 716.7,1999 714.1,2000.8 711.6,2002.6 709.1,2004.4 706.5,2006.1 704,2007.9 701.4,2009.6 698.9,2011.3 696.3,2013.1 693.8,2014.8 691.2,2016.5 688.7,2018.3 686.1,2020 683.6,2021.7 681,2023.4 678.5,2025.1 675.9,2026.8 673.4,2028.5 670.9,2030.3 668.4,2032 665.9,2033.7 663.4,2035.4 660.9,2037.1 658.5,2038.9 656,2040.6 653.6,2042.3 651.1,2044.1 648.7,2045.8 646.3,2047.6 644,2049.4 641.6,2051.1 639.2,2052.9 636.9,2054.7 634.5,2056.4 632.2,2058.2 629.9,2060 627.5,2061.8 625.2,2063.6 622.9,2065.4 620.6,2067.2 618.3,2069 616,2070.8 613.6,2072.7 611.3,2074.5 609,2076.3 606.7,2078.2 604.4,2080 602.1,2081.8 599.8,2083.7 597.4,2085.5 595.1,2087.4 592.7,2089.2 590.4,2091.1 588,2093 585.7,2094.8 583.3,2096.7 580.9,2098.6 578.6,2100.5 576.2,2102.4 573.8,2104.3 571.5,2106.3 569.1,2108.2 566.8,2110.2 564.5,2112.1 562.2,2114.1 559.9,2116.2 557.6,2118.2 555.4,2120.2 553.2,2122.3 551,2124.4 548.8,2126.5 546.7,2128.7 544.6,2130.9 542.5,2133.1 540.5,2135.3 538.5,2137.6 536.5,2139.8 534.6,2142.2 532.8,2144.5 530.9,2146.9 529.1,2149.3 527.4,2151.7 525.7,2154.2 524,2156.7 522.4,2159.2 520.8,2161.8 519.3,2164.3 517.8,2166.9 516.3,2169.5 514.9,2172.2 513.5,2174.8 512.2,2177.5 510.9,2180.2 509.7,2182.9 508.5,2185.6 507.3,2188.4 506.2,2191.2 505.1,2194 504.1,2196.8 503.1,2199.6 502.1,2202.4 501.2,2205.3 500.3,2208.2 499.5,2211.1 498.7,2214 498,2216.9 497.3,2219.8 496.7,2222.7 496,2225.7 495.5,2228.6 495,2231.6 494.5,2234.6 494.1,2237.5 493.7,2240.5 493.3,2243.5 493,2246.5 492.7,2249.5 492.5,2252.5 492.2,2255.6 492,2258.6 491.9,2261.6 491.7,2264.7 491.6,2267.7 491.4,2270.7 491.3,2273.8 491.3,2276.8 491.2,2279.8 491.1,2282.9 491,2285.9 491,2289 490.9,2292 490.8,2295 490.7,2298.1 490.6,2301.1 490.5,2304.1 490.4,2307.1 490.3,2310.1 490.2,2313.1 490,2316.1 489.8,2319.1 489.6,2322.1 489.4,2325.1 489.1,2328.1 488.8,2331 488.5,2334" fill="none" stroke="#8B2D90" stroke-width="5.3" stroke-linejoin="round" stroke-linecap="butt"/>
<polyline points="964.5,1646 966.3,1649.2 967.5,1652.3 968.3,1655.1 968.7,1657.7 968.7,1660.2 968.3,1662.5 967.6,1664.6 966.5,1666.6 965.2,1668.4 963.5,1670.1 961.6,1671.7 959.5,1673.2 957.2,1674.6 954.6,1675.9 952,1677.1 949.2,1678.2 946.3,1679.3 943.2,1680.4 940.2,1681.4 937,1682.4 933.8,1683.4 930.6,1684.3 927.3,1685.3 924,1686.2 920.8,1687.2 917.5,1688.2 914.3,1689.3 911.2,1690.3 908.1,1691.5 905.1,1692.7 902.1,1693.9 899.3,1695.3 896.7,1696.7 894.1,1698.3 891.7,1699.9 889.5,1701.6 887.4,1703.5 885.5,1705.4 883.8,1707.5 882.2,1709.7 880.8,1711.9 879.6,1714.2 878.5,1716.7 877.5,1719.2 876.8,1721.7 876.2,1724.4 875.7,1727.1 875.3,1729.8 875.1,1732.6 875,1735.5 875,1738.3 875.1,1741.2 875.3,1744.1 875.5,1747 875.8,1749.9 876.2,1752.9 876.7,1755.8 877.2,1758.8 877.7,1761.8 878.3,1764.8 879,1767.8 879.6,1770.8 880.3,1773.8 881,1776.8 881.7,1779.9 882.4,1782.9 883.1,1785.9 883.8,1789 884.5,1792 885.2,1795.1 885.9,1798.2 886.5,1801.2 887,1804.3 887.6,1807.3 888.1,1810.4 888.5,1813.4 888.9,1816.5 889.2,1819.5 889.4,1822.6 889.5,1825.6 889.6,1828.6 889.6,1831.6 889.4,1834.6 889.3,1837.6 889,1840.6 888.7,1843.6 888.2,1846.6 887.8,1849.5 887.2,1852.5 886.6,1855.4 885.9,1858.3 885.1,1861.2 884.3,1864.1 883.4,1867 882.5,1869.9 881.5,1872.7 880.4,1875.5 879.3,1878.3 878.1,1881.1 876.9,1883.9 875.6,1886.6 874.3,1889.4 872.9,1892.1 871.5,1894.8 870.1,1897.4 868.6,1900.1 867,1902.7 865.4,1905.3 863.8,1907.8 862.2,1910.4 860.5,1912.9 858.8,1915.4 857,1917.8 855.3,1920.3 853.4,1922.7 851.6,1925 849.8,1927.4 847.9,1929.7 846,1932 844,1934.3 842.1,1936.5 840.1,1938.7 838.1,1940.9 836,1943.1 834,1945.2 831.9,1947.4 829.8,1949.5 827.7,1951.5 825.5,1953.6 823.3,1955.6 821.2,1957.6 819,1959.6 816.7,1961.6 814.5,1963.6 812.2,1965.5 809.9,1967.4 807.6,1969.3 805.3,1971.2 803,1973 800.6,1974.9 798.3,1976.7 795.9,1978.5 793.5,1980.3 791.1,1982.1 788.7,1983.9 786.2,1985.6 783.8,1987.4 781.3,1989.1 778.8,1990.8 776.4,1992.5 773.9,1994.2 771.4,1995.9 768.8,1997.6 766.3,1999.2 763.8,2000.9 761.2,2002.5 758.7,2004.1 756.1,2005.7 753.6,2007.4 751,2009 748.4,2010.5 745.8,2012.1 743.2,2013.7 740.6,2015.3 738,2016.9 735.4,2018.4 732.8,2020 730.2,2021.5 727.6,2023.1 725,2024.6 722.4,2026.2 719.7,2027.7 717.1,2029.3 714.5,2030.8 711.9,2032.3 709.3,2033.9 706.6,2035.4 704,2036.9 701.4,2038.5 698.8,2040 696.2,2041.6 693.6,2043.1 691,2044.6 688.4,2046.2 685.8,2047.7 683.2,2049.3 680.6,2050.9 678.1,2052.4 675.5,2054 672.9,2055.5 670.4,2057.1 667.8,2058.7 665.2,2060.3 662.7,2061.9 660.1,2063.5 657.6,2065.1 655.1,2066.7 652.6,2068.3 650,2069.9 647.5,2071.5 645,2073.2 642.5,2074.8 640,2076.4 637.5,2078.1 635.1,2079.8 632.6,2081.4 630.1,2083.1 627.7,2084.8 625.2,2086.5 622.8,2088.2 620.3,2090 617.9,2091.7 615.5,2093.5 613.1,2095.2 610.7,2097 608.3,2098.8 605.9,2100.6 603.5,2102.4 601.2,2104.2 598.8,2106 596.5,2107.9 594.1,2109.7 591.8,2111.6 589.5,2113.5 587.2,2115.4 584.9,2117.3 582.6,2119.2 580.3,2121.2 578.1,2123.1 575.8,2125.1 573.6,2127.1 571.3,2129.1 569.1,2131.2 566.9,2133.2 564.7,2135.3 562.5,2137.3 560.4,2139.4 558.2,2141.6 556.1,2143.7 553.9,2145.9 551.8,2148 549.8,2150.2 547.7,2152.5 545.7,2154.7 543.8,2157 541.8,2159.3 539.9,2161.6 538.1,2164 536.3,2166.3 534.5,2168.7 532.8,2171.2 531.1,2173.7 529.5,2176.2 528,2178.7 526.5,2181.2 525,2183.8 523.7,2186.5 522.4,2189.1 521.2,2191.8 520,2194.6 518.9,2197.3 517.8,2200.1 516.9,2202.9 515.9,2205.7 515,2208.6 514.2,2211.5 513.4,2214.4 512.6,2217.3 511.9,2220.2 511.3,2223.2 510.6,2226.1 510,2229.1 509.5,2232 508.9,2235 508.4,2238 507.9,2241 507.5,2244 507,2247 506.6,2250 506.2,2253 505.8,2256 505.5,2259 505.2,2262 504.8,2265 504.5,2268 504.3,2271 504,2274 503.7,2277 503.5,2280.1 503.3,2283.1 503,2286.1 502.8,2289.1 502.6,2292.1 502.4,2295.1 502.2,2298.1 502,2301.1 501.9,2304.2 501.7,2307.2 501.5,2310.2 501.3,2313.2 501.1,2316.1 501,2319.1 500.8,2322.1 500.6,2325.1 500.4,2328.1 500.2,2331 500,2334" fill="none" stroke="#5DAD2A" stroke-width="5.3" stroke-linejoin="round" stroke-linecap="butt"/>
<rect x="731.5" y="2081.9" width="329.4" height="255" fill="#fff" stroke="#222222" stroke-width="4.2"/>
<line x1="747.6" y1="2111.9" x2="898.9" y2="2111.9" stroke="#0072C0" stroke-width="5.3"/>
<text x="908.2" y="2128" font-size="41" font-family="'Liberation Serif','Times New Roman',serif" fill="#000">No eddy</text>
<line x1="747.6" y1="2160.7" x2="898.9" y2="2160.7" stroke="#F9551A" stroke-width="5.3"/>
<text x="908.2" y="2176.8" font-size="41" font-family="'Liberation Serif','Times New Roman',serif" fill="#000">0.1 m</text>
<line x1="747.6" y1="2209.4" x2="898.9" y2="2209.4" stroke="#FDB212" stroke-width="5.3"/>
<text x="908.2" y="2225.5" font-size="41" font-family="'Liberation Serif','Times New Roman',serif" fill="#000">0.2 m</text>
<line x1="747.6" y1="2258.2" x2="898.9" y2="2258.2" stroke="#8B2D90" stroke-width="5.3"/>
<text x="908.2" y="2274.2" font-size="41" font-family="'Liberation Serif','Times New Roman',serif" fill="#000">0.3 m</text>
<line x1="747.6" y1="2306.9" x2="898.9" y2="2306.9" stroke="#5DAD2A" stroke-width="5.3"/>
<text x="908.2" y="2323" font-size="41" font-family="'Liberation Serif','Times New Roman',serif" fill="#000">0.4 m</text>
<rect x="251.1" y="1639.1" width="809.8" height="697.8" fill="none" stroke="#222222" stroke-width="5.7"/>
<text x="273.4" y="1696.9" font-size="61" font-family="'Liberation Serif','Times New Roman',serif" fill="#000">(c)</text>
<text x="237.8" y="1654.6" font-size="45" font-family="'Liberation Serif','Times New Roman',serif" text-anchor="end" fill="#000">0 m</text>
<text x="237.8" y="1793.7" font-size="45" font-family="'Liberation Serif','Times New Roman',serif" text-anchor="end" fill="#000">200 m</text>
<text x="237.8" y="1933.4" font-size="45" font-family="'Liberation Serif','Times New Roman',serif" text-anchor="end" fill="#000">400 m</text>
<text x="237.8" y="2073.2" font-size="45" font-family="'Liberation Serif','Times New Roman',serif" text-anchor="end" fill="#000">600 m</text>
<text x="237.8" y="2212.9" font-size="45" font-family="'Liberation Serif','Times New Roman',serif" text-anchor="end" fill="#000">800 m</text>
<text x="237.8" y="2352.4" font-size="45" font-family="'Liberation Serif','Times New Roman',serif" text-anchor="end" fill="#000">1000 m</text>
<g><line x1="455.4" y1="2408.2" x2="455.4" y2="3106.2" stroke="#dcdcdc" stroke-width="5.2" stroke-dasharray="14.7 15.3" stroke-dashoffset="0.6"/><line x1="658" y1="2408.2" x2="658" y2="3106.2" stroke="#dcdcdc" stroke-width="5.2" stroke-dasharray="14.7 15.3" stroke-dashoffset="0.6"/><line x1="860.6" y1="2408.2" x2="860.6" y2="3106.2" stroke="#dcdcdc" stroke-width="5.2" stroke-dasharray="14.7 15.3" stroke-dashoffset="0.6"/><line x1="1060.9" y1="2547.4" x2="251.1" y2="2547.4" stroke="#dcdcdc" stroke-width="5.2" stroke-dasharray="14.7 15.3" stroke-dashoffset="0"/><line x1="1060.9" y1="2687.1" x2="251.1" y2="2687.1" stroke="#dcdcdc" stroke-width="5.2" stroke-dasharray="14.7 15.3" stroke-dashoffset="0"/><line x1="1060.9" y1="2826.9" x2="251.1" y2="2826.9" stroke="#dcdcdc" stroke-width="5.2" stroke-dasharray="14.7 15.3" stroke-dashoffset="0"/><line x1="1060.9" y1="2966.6" x2="251.1" y2="2966.6" stroke="#dcdcdc" stroke-width="5.2" stroke-dasharray="14.7 15.3" stroke-dashoffset="0"/></g>
<polyline points="785.4,2415.3 785.7,2417.7 786,2420.1 786.5,2422.5 787.1,2424.9 787.7,2427.3 788.3,2429.6 789,2432 789.6,2434.4 790.3,2436.7 790.9,2439.1 791.4,2441.5 791.9,2443.9 792.4,2446.3 792.7,2448.7 792.9,2451.1 792.9,2453.5 792.8,2455.9 792.6,2458.3 792.1,2460.8 790.5,2463.3 788.9,2465.9 787.3,2468.4 785.7,2470.9 784.1,2473.4 782.5,2476 780.8,2478.5 779.2,2481 777.5,2483.5 775.9,2486 774.2,2488.5 772.5,2490.9 770.9,2493.4 769.2,2495.9 767.5,2498.4 765.8,2500.8 764.1,2503.3 762.3,2505.8 760.6,2508.2 758.9,2510.7 757.1,2513.1 755.4,2515.5 753.6,2518 751.9,2520.4 750.1,2522.9 748.3,2525.3 746.6,2527.7 744.8,2530.1 743,2532.5 741.2,2535 739.4,2537.4 737.6,2539.8 735.8,2542.2 733.9,2544.6 732.1,2547 730.3,2549.4 728.4,2551.8 726.6,2554.1 724.8,2556.5 722.9,2558.9 721.1,2561.3 719.2,2563.7 717.3,2566 715.5,2568.4 713.6,2570.8 711.7,2573.2 709.9,2575.5 708,2577.9 706.1,2580.2 704.2,2582.6 702.3,2585 700.4,2587.3 698.5,2589.7 696.6,2592 694.7,2594.4 692.8,2596.7 690.9,2599.1 689,2601.4 687.1,2603.8 685.2,2606.1 683.3,2608.4 681.3,2610.8 679.4,2613.1 677.5,2615.5 675.6,2617.8 673.6,2620.1 671.7,2622.5 669.8,2624.8 667.9,2627.2 665.9,2629.5 664,2631.8 662.1,2634.2 660.1,2636.5 658.2,2638.8 656.3,2641.1 654.3,2643.5 652.4,2645.8 650.5,2648.1 648.5,2650.5 646.6,2652.8 644.7,2655.1 642.7,2657.5 640.8,2659.8 638.9,2662.1 636.9,2664.5 635,2666.8 633.1,2669.1 631.2,2671.5 629.2,2673.8 627.3,2676.2 625.4,2678.5 623.5,2680.8 621.5,2683.2 619.6,2685.5 617.7,2687.9 615.8,2690.2 613.9,2692.5 612,2694.9 610.1,2697.2 608.2,2699.6 606.3,2701.9 604.4,2704.3 602.5,2706.6 600.6,2709 598.7,2711.4 596.8,2713.7 594.9,2716.1 593,2718.4 591.2,2720.8 589.3,2723.2 587.4,2725.5 585.6,2727.9 583.7,2730.3 581.9,2732.7 580,2735.1 578.2,2737.4 576.3,2739.8 574.5,2742.2 572.7,2744.6 570.8,2747 569,2749.4 567.2,2751.8 565.4,2754.2 563.6,2756.6 561.8,2759 560,2761.4 558.2,2763.8 556.4,2766.3 554.6,2768.7 552.9,2771.1 551.1,2773.5 549.4,2776 547.6,2778.4 545.9,2780.9 544.1,2783.3 542.4,2785.8 540.7,2788.2 539,2790.7 537.3,2793.1 535.6,2795.6 533.9,2798.1 532.2,2800.5 530.5,2803 528.8,2805.5 527.2,2808 525.5,2810.5 523.9,2813 522.2,2815.5 520.6,2818 519,2820.5 517.4,2823 515.8,2825.6 514.2,2828.1 512.6,2830.6 511,2833.2 509.5,2835.7 507.9,2838.3 506.4,2840.8 504.8,2843.4 503.3,2846 501.8,2848.5 500.3,2851.1 498.8,2853.7 497.3,2856.3 495.8,2858.9 494.4,2861.5 492.9,2864.1 491.5,2866.7 490,2869.3 488.6,2872 487.2,2874.6 485.8,2877.3 484.4,2879.9 483,2882.6 481.7,2885.2 480.3,2887.9 479,2890.6 477.7,2893.3 476.3,2895.9 475,2898.6 473.7,2901.3 472.5,2904.1 471.2,2906.8 469.9,2909.5 468.7,2912.2 467.5,2915 467.1,2918.1 466.8,2921.3 466.3,2924.4 465.9,2927.6 465.4,2930.7 464.9,2933.8 464.4,2936.9 463.9,2940 463.3,2943.2 462.8,2946.3 462.2,2949.4 461.6,2952.5 461,2955.6 460.4,2958.7 459.9,2961.8 459.3,2965 458.7,2968.1 458.1,2971.2 457.6,2974.3 457.1,2977.4 456.6,2980.5 456.1,2983.7 455.6,2986.8 455.1,2989.9 454.7,2993.1 454.4,2996.2 454,2999.3 453.7,3002.5 453.7,3005.7 453.7,3008.8 453.8,3012 453.8,3015.2 453.8,3018.4 453.7,3021.5 453.7,3024.7 453.7,3027.9 453.7,3031 453.6,3034.2 453.6,3037.4 453.5,3040.6 453.5,3043.7 453.4,3046.9 453.4,3050.1 453.3,3053.3 453.3,3056.4 453.2,3059.6 453.1,3062.8 453.1,3065.9 453,3069.1 453,3072.3 452.9,3075.5 452.8,3078.6 452.8,3081.8 452.7,3085 452.7,3088.1 452.6,3091.3 452.6,3094.5 452.6,3097.7 452.5,3100.8 452.5,3104" fill="none" stroke="#0072C0" stroke-width="5.3" stroke-linejoin="round" stroke-linecap="butt"/>
<polyline points="796.2,2415.3 796.7,2418.3 797.1,2421.3 797.4,2424.2 797.7,2427.2 797.9,2430.1 798.1,2433.1 798.2,2436 798.3,2439 798.3,2441.9 798.2,2444.8 798.1,2447.7 798,2450.6 797.8,2453.5 797.5,2456.4 797.2,2459.2 796.9,2462.1 796.5,2465 796.1,2467.8 795.6,2470.7 795,2473.5 794.5,2476.3 793.9,2479.2 793.2,2482 792.5,2484.8 791.8,2487.6 791,2490.4 790.2,2493.1 789.3,2495.9 788.4,2498.7 787.5,2501.4 786.5,2504.2 785.5,2506.9 784.5,2509.7 783.4,2512.4 782.3,2515.1 781.2,2517.9 780,2520.6 778.9,2523.3 777.6,2526 776.4,2528.6 775.1,2531.3 773.8,2534 772.5,2536.6 771.2,2539.3 769.8,2541.9 768.4,2544.6 767,2547.2 765.6,2549.9 764.1,2552.5 762.7,2555.1 761.2,2557.7 759.7,2560.3 758.2,2562.9 756.6,2565.5 755.1,2568 753.5,2570.6 752,2573.2 750.4,2575.7 748.8,2578.3 747.2,2580.8 745.6,2583.3 743.9,2585.9 742.3,2588.4 740.6,2590.9 739,2593.4 737.3,2595.9 735.6,2598.4 733.9,2600.9 732.2,2603.4 730.5,2605.8 728.7,2608.3 727,2610.8 725.3,2613.2 723.5,2615.7 721.7,2618.1 719.9,2620.5 718.2,2623 716.4,2625.4 714.6,2627.8 712.7,2630.2 710.9,2632.6 709.1,2635 707.3,2637.4 705.4,2639.8 703.6,2642.2 701.7,2644.6 699.8,2647 697.9,2649.4 696.1,2651.7 694.2,2654.1 692.3,2656.5 690.4,2658.8 688.5,2661.2 686.5,2663.5 684.6,2665.8 682.7,2668.2 680.8,2670.5 678.8,2672.8 676.9,2675.2 674.9,2677.5 673,2679.8 671,2682.1 669,2684.4 667,2686.7 665.1,2689 663.1,2691.3 661.1,2693.6 659.1,2695.9 657.1,2698.2 655.1,2700.5 653.1,2702.8 651.1,2705 649.1,2707.3 647.1,2709.6 645.1,2711.9 643.1,2714.1 641,2716.4 639,2718.7 637,2720.9 635,2723.2 632.9,2725.4 630.9,2727.7 628.9,2729.9 626.8,2732.2 624.8,2734.4 622.7,2736.6 620.7,2738.9 618.7,2741.1 616.6,2743.4 614.6,2745.6 612.5,2747.8 610.5,2750.1 608.4,2752.3 606.4,2754.5 604.4,2756.7 602.3,2759 600.3,2761.2 598.2,2763.4 596.2,2765.6 594.2,2767.9 592.1,2770.1 590.1,2772.3 588.1,2774.5 586.1,2776.8 584.1,2779 582,2781.2 580,2783.4 578,2785.7 576,2787.9 574.1,2790.1 572.1,2792.4 570.1,2794.6 568.1,2796.9 566.2,2799.1 564.2,2801.4 562.3,2803.6 560.3,2805.9 558.4,2808.1 556.5,2810.4 554.6,2812.7 552.7,2815 550.8,2817.2 548.9,2819.5 547,2821.8 545.2,2824.1 543.3,2826.4 541.5,2828.7 539.7,2831 537.9,2833.3 536.1,2835.7 534.3,2838 532.6,2840.3 530.8,2842.7 529.1,2845 527.3,2847.4 525.6,2849.8 524,2852.1 522.3,2854.5 520.6,2856.9 519,2859.3 517.4,2861.7 515.8,2864.2 514.2,2866.6 512.6,2869 511.1,2871.5 509.5,2874 508,2876.4 506.5,2878.9 505.1,2881.4 503.6,2883.9 502.2,2886.4 500.8,2888.9 499.4,2891.5 498,2894 496.7,2896.6 495.4,2899.2 494.1,2901.7 492.8,2904.3 491.5,2907 490.3,2909.6 489.1,2912.2 487.9,2914.9 486.8,2917.5 485.7,2920.2 484.6,2922.9 483.5,2925.6 482.4,2928.3 481.4,2931.1 480.4,2933.8 479.5,2936.6 478.5,2939.3 477.6,2942.1 476.7,2944.9 475.8,2947.7 475,2950.5 474.1,2953.4 473.3,2956.2 472.6,2959.1 471.8,2961.9 471.1,2964.8 470.4,2967.7 469.7,2970.6 469,2973.5 468.4,2976.4 467.8,2979.3 467.2,2982.2 466.7,2985.1 466.1,2988.1 465.6,2991 465.1,2994 464.7,2997 464.2,2999.9 463.8,3002.9 463.4,3005.9 463,3008.9 462.7,3011.9 462.4,3014.9 462.1,3017.9 461.8,3021 461.5,3024 461.3,3027 461.1,3030.1 460.9,3033.1 460.7,3036.2 460.6,3039.2 460.5,3042.3 460.4,3045.3 460.3,3048.4 460.3,3051.5 460.2,3054.5 460.2,3057.6 460.2,3060.7 460.3,3063.8 460.3,3066.9 460.4,3070 460.5,3073 460.6,3076.1 460.8,3079.2 461,3082.3 461.1,3085.4 461.4,3088.5 461.6,3091.6 461.8,3094.7 462.1,3097.8 462.4,3100.9 462.7,3104" fill="none" stroke="#F9551A" stroke-width="5.3" stroke-linejoin="round" stroke-linecap="butt"/>
<polyline points="806.1,2415.2 806.8,2418.4 807.4,2421.6 808,2424.8 808.5,2428 809,2431.1 809.4,2434.3 809.8,2437.4 810.2,2440.5 810.5,2443.7 810.8,2446.8 811.1,2449.9 811.3,2452.9 811.5,2456 811.6,2459.1 811.7,2462.1 811.8,2465.2 811.8,2468.2 811.8,2471.2 811.7,2474.2 811.6,2477.2 811.5,2480.2 811.4,2483.2 811.2,2486.2 810.9,2489.1 810.7,2492.1 810.4,2495 810.1,2498 809.7,2500.9 809.3,2503.8 808.9,2506.7 808.4,2509.6 807.9,2512.5 807.4,2515.3 806.8,2518.2 806.2,2521.1 805.6,2523.9 805,2526.7 804.3,2529.6 803.6,2532.4 802.8,2535.2 802,2538 801.2,2540.7 800.4,2543.5 799.5,2546.3 798.6,2549 797.7,2551.8 796.8,2554.5 795.8,2557.3 794.8,2560 793.8,2562.7 792.7,2565.4 791.6,2568.1 790.5,2570.8 789.4,2573.4 788.2,2576.1 787,2578.8 785.8,2581.4 784.6,2584 783.3,2586.7 782.1,2589.3 780.7,2591.9 779.4,2594.5 778.1,2597.1 776.7,2599.7 775.3,2602.3 773.9,2604.8 772.4,2607.4 770.9,2609.9 769.5,2612.5 768,2615 766.4,2617.5 764.9,2620.1 763.3,2622.6 761.7,2625.1 760.1,2627.6 758.5,2630.1 756.8,2632.5 755.2,2635 753.5,2637.5 751.8,2639.9 750.1,2642.4 748.3,2644.8 746.6,2647.2 744.8,2649.6 743,2652.1 741.2,2654.5 739.4,2656.9 737.5,2659.3 735.7,2661.6 733.8,2664 731.9,2666.4 730,2668.7 728.1,2671.1 726.2,2673.4 724.3,2675.8 722.3,2678.1 720.4,2680.4 718.4,2682.7 716.4,2685 714.4,2687.3 712.4,2689.6 710.4,2691.9 708.3,2694.2 706.3,2696.5 704.2,2698.7 702.2,2701 700.1,2703.2 698,2705.5 695.9,2707.7 693.8,2710 691.7,2712.2 689.6,2714.4 687.4,2716.6 685.3,2718.8 683.1,2721 681,2723.2 678.8,2725.4 676.7,2727.6 674.5,2729.7 672.3,2731.9 670.1,2734 667.9,2736.2 665.8,2738.3 663.6,2740.5 661.4,2742.6 659.1,2744.7 656.9,2746.8 654.7,2749 652.5,2751.1 650.3,2753.2 648.1,2755.3 645.8,2757.3 643.6,2759.4 641.4,2761.5 639.1,2763.6 636.9,2765.7 634.7,2767.7 632.5,2769.8 630.2,2771.9 628,2773.9 625.8,2776 623.5,2778 621.3,2780.1 619.1,2782.1 616.9,2784.2 614.7,2786.2 612.5,2788.3 610.2,2790.3 608,2792.4 605.8,2794.4 603.7,2796.5 601.5,2798.5 599.3,2800.6 597.1,2802.6 595,2804.7 592.8,2806.7 590.6,2808.8 588.5,2810.9 586.4,2813 584.2,2815 582.1,2817.1 580,2819.2 577.9,2821.3 575.8,2823.4 573.8,2825.5 571.7,2827.6 569.7,2829.7 567.6,2831.8 565.6,2833.9 563.6,2836.1 561.6,2838.2 559.6,2840.4 557.6,2842.5 555.7,2844.7 553.7,2846.9 551.8,2849 549.9,2851.2 548,2853.4 546.1,2855.6 544.2,2857.9 542.4,2860.1 540.6,2862.3 538.7,2864.6 537,2866.9 535.2,2869.1 533.4,2871.4 531.7,2873.7 530,2876 528.3,2878.3 526.6,2880.7 524.9,2883 523.3,2885.3 521.6,2887.7 520,2890.1 518.5,2892.5 516.9,2894.9 515.4,2897.3 513.8,2899.7 512.3,2902.1 510.9,2904.6 509.4,2907 508,2909.5 506.6,2912 505.2,2914.5 503.8,2917 502.5,2919.6 501.2,2922.1 499.9,2924.7 498.7,2927.2 497.4,2929.8 496.2,2932.4 495,2935 493.9,2937.6 492.7,2940.3 491.6,2942.9 490.6,2945.6 489.5,2948.3 488.5,2951 487.5,2953.7 486.5,2956.4 485.5,2959.1 484.6,2961.9 483.7,2964.6 482.8,2967.4 482,2970.2 481.2,2973 480.4,2975.8 479.6,2978.6 478.9,2981.4 478.2,2984.3 477.5,2987.1 476.8,2990 476.2,2992.9 475.6,2995.7 475,2998.6 474.5,3001.6 474,3004.5 473.5,3007.4 473.1,3010.4 472.6,3013.3 472.2,3016.3 471.9,3019.3 471.5,3022.3 471.2,3025.3 470.9,3028.3 470.7,3031.4 470.5,3034.4 470.3,3037.4 470.1,3040.5 470,3043.6 469.9,3046.7 469.8,3049.8 469.8,3052.9 469.8,3056 469.8,3059.1 469.9,3062.3 470,3065.4 470.1,3068.6 470.3,3071.8 470.4,3074.9 470.7,3078.1 470.9,3081.3 471.2,3084.6 471.5,3087.8 471.8,3091 472.2,3094.3 472.6,3097.5 473.1,3100.8 473.5,3104" fill="none" stroke="#FDB212" stroke-width="5.3" stroke-linejoin="round" stroke-linecap="butt"/>
<polyline points="815.4,2415.3 816.4,2418.2 817.4,2421.2 818.3,2424.2 819.2,2427.2 820.1,2430.1 821,2433.1 821.8,2436.1 822.6,2439.1 823.3,2442.2 824.1,2445.2 824.8,2448.2 825.5,2451.2 826.1,2454.2 826.7,2457.3 827.3,2460.3 827.8,2463.3 828.4,2466.4 828.9,2469.4 829.3,2472.4 829.8,2475.5 830.2,2478.5 830.5,2481.5 830.9,2484.6 831.2,2487.6 831.4,2490.7 831.7,2493.7 831.9,2496.7 832.1,2499.8 832.2,2502.8 832.3,2505.8 832.4,2508.8 832.5,2511.8 832.5,2514.9 832.5,2517.9 832.4,2520.9 832.3,2523.9 832.2,2526.9 832.1,2529.9 831.9,2532.8 831.7,2535.8 831.4,2538.8 831.2,2541.7 830.8,2544.7 830.5,2547.6 830.1,2550.6 829.7,2553.5 829.2,2556.4 828.8,2559.3 828.2,2562.2 827.7,2565.1 827.1,2568 826.5,2570.9 825.8,2573.7 825.1,2576.6 824.4,2579.4 823.6,2582.2 822.8,2585 822,2587.8 821.1,2590.6 820.2,2593.4 819.3,2596.2 818.3,2598.9 817.4,2601.7 816.3,2604.4 815.3,2607.1 814.2,2609.8 813.1,2612.5 811.9,2615.2 810.8,2617.8 809.5,2620.5 808.3,2623.1 807,2625.7 805.8,2628.4 804.4,2631 803.1,2633.5 801.7,2636.1 800.3,2638.7 798.9,2641.2 797.4,2643.8 795.9,2646.3 794.4,2648.8 792.9,2651.3 791.3,2653.8 789.7,2656.2 788.1,2658.7 786.5,2661.1 784.8,2663.5 783.1,2665.9 781.4,2668.3 779.6,2670.7 777.9,2673.1 776.1,2675.4 774.3,2677.7 772.5,2680.1 770.6,2682.4 768.8,2684.7 766.9,2686.9 764.9,2689.2 763,2691.4 761.1,2693.7 759.1,2695.9 757.1,2698.1 755.1,2700.3 753,2702.4 751,2704.6 748.9,2706.7 746.8,2708.8 744.7,2710.9 742.6,2713 740.5,2715.1 738.3,2717.2 736.1,2719.2 733.9,2721.3 731.7,2723.3 729.5,2725.3 727.3,2727.3 725.1,2729.3 722.8,2731.3 720.5,2733.3 718.3,2735.2 716,2737.2 713.7,2739.1 711.3,2741.1 709,2743 706.7,2744.9 704.4,2746.8 702,2748.7 699.6,2750.6 697.3,2752.5 694.9,2754.4 692.5,2756.2 690.1,2758.1 687.7,2760 685.3,2761.8 682.9,2763.7 680.5,2765.5 678.1,2767.4 675.7,2769.2 673.3,2771 670.9,2772.9 668.4,2774.7 666,2776.5 663.6,2778.3 661.1,2780.2 658.7,2782 656.3,2783.8 653.9,2785.6 651.4,2787.4 649,2789.3 646.6,2791.1 644.1,2792.9 641.7,2794.7 639.3,2796.5 636.9,2798.3 634.5,2800.2 632.1,2802 629.7,2803.8 627.3,2805.7 624.9,2807.5 622.5,2809.3 620.1,2811.2 617.8,2813 615.4,2814.9 613,2816.7 610.7,2818.6 608.4,2820.4 606,2822.3 603.7,2824.2 601.4,2826.1 599.1,2828 596.8,2829.9 594.6,2831.8 592.3,2833.7 590.1,2835.6 587.8,2837.6 585.6,2839.5 583.4,2841.5 581.2,2843.4 579,2845.4 576.9,2847.4 574.7,2849.4 572.6,2851.4 570.5,2853.4 568.4,2855.4 566.3,2857.5 564.2,2859.5 562.2,2861.6 560.2,2863.7 558.2,2865.8 556.2,2867.9 554.2,2870 552.3,2872.1 550.4,2874.3 548.5,2876.5 546.6,2878.6 544.8,2880.8 542.9,2883.1 541.1,2885.3 539.3,2887.5 537.6,2889.8 535.8,2892.1 534.1,2894.4 532.5,2896.7 530.8,2899.1 529.2,2901.4 527.6,2903.8 526,2906.2 524.4,2908.6 522.9,2911 521.4,2913.4 519.9,2915.9 518.5,2918.4 517.1,2920.9 515.7,2923.4 514.3,2925.9 512.9,2928.4 511.6,2931 510.3,2933.5 509.1,2936.1 507.8,2938.7 506.6,2941.3 505.4,2944 504.3,2946.6 503.2,2949.3 502.1,2951.9 501,2954.6 499.9,2957.3 498.9,2960 497.9,2962.8 497,2965.5 496,2968.3 495.1,2971 494.3,2973.8 493.4,2976.6 492.6,2979.4 491.8,2982.2 491,2985.1 490.3,2987.9 489.6,2990.8 488.9,2993.7 488.3,2996.5 487.6,2999.4 487.1,3002.3 486.5,3005.3 486,3008.2 485.5,3011.1 485,3014.1 484.6,3017 484.1,3020 483.8,3023 483.4,3026 483.1,3029 482.8,3032 482.5,3035.1 482.3,3038.1 482.1,3041.2 481.9,3044.2 481.8,3047.3 481.7,3050.4 481.6,3053.4 481.6,3056.5 481.6,3059.7 481.6,3062.8 481.6,3065.9 481.7,3069 481.8,3072.2 482,3075.3 482.2,3078.5 482.4,3081.6 482.6,3084.8 482.9,3088 483.2,3091.2 483.5,3094.4 483.9,3097.6 484.3,3100.8 484.7,3104" fill="none" stroke="#8B2D90" stroke-width="5.3" stroke-linejoin="round" stroke-linecap="butt"/>
<polyline points="826.2,2415.3 826.6,2418.1 827.1,2421 827.7,2423.8 828.2,2426.7 828.9,2429.5 829.5,2432.4 830.3,2435.3 831,2438.1 831.8,2441 832.6,2443.9 833.4,2446.8 834.3,2449.8 835.2,2452.7 836.1,2455.6 837.1,2458.5 838,2461.4 839,2464.4 840,2467.3 841,2470.3 842,2473.2 843,2476.2 844,2479.1 845,2482.1 846.1,2485 847.1,2488 848.1,2491 849.1,2493.9 850.1,2496.9 851.1,2499.9 852.1,2502.8 853.1,2505.8 854,2508.7 855,2511.7 855.9,2514.7 856.8,2517.6 857.6,2520.6 858.5,2523.5 859.3,2526.5 860.1,2529.4 860.8,2532.4 861.5,2535.3 862.2,2538.3 862.8,2541.2 863.4,2544.1 863.9,2547.1 864.4,2550 864.9,2552.9 865.2,2555.8 865.6,2558.7 865.9,2561.6 866.1,2564.5 866.2,2567.3 866.3,2570.2 866.4,2573.1 866.3,2575.9 866.2,2578.8 866.1,2581.6 865.8,2584.4 865.6,2587.3 865.2,2590.1 864.8,2592.9 864.3,2595.7 863.8,2598.4 863.2,2601.2 862.6,2604 861.9,2606.7 861.1,2609.4 860.3,2612.2 859.5,2614.9 858.6,2617.6 857.6,2620.3 856.6,2622.9 855.6,2625.6 854.5,2628.2 853.3,2630.9 852.1,2633.5 850.9,2636.1 849.6,2638.7 848.3,2641.3 846.9,2643.8 845.5,2646.4 844,2648.9 842.5,2651.4 841,2654 839.4,2656.4 837.8,2658.9 836.2,2661.4 834.5,2663.8 832.8,2666.2 831,2668.6 829.3,2671 827.5,2673.4 825.6,2675.8 823.8,2678.1 821.9,2680.4 819.9,2682.7 818,2685 816,2687.3 814,2689.5 812,2691.8 810,2694 807.9,2696.2 805.8,2698.3 803.7,2700.5 801.6,2702.6 799.4,2704.7 797.2,2706.8 795.1,2708.9 792.9,2710.9 790.7,2713 788.4,2715 786.2,2717 783.9,2719 781.6,2720.9 779.3,2722.9 777,2724.8 774.7,2726.7 772.4,2728.6 770,2730.5 767.6,2732.4 765.3,2734.2 762.9,2736.1 760.5,2737.9 758.1,2739.7 755.6,2741.5 753.2,2743.3 750.8,2745.1 748.3,2746.9 745.8,2748.6 743.4,2750.4 740.9,2752.1 738.4,2753.9 735.9,2755.6 733.4,2757.3 730.9,2759 728.4,2760.7 725.9,2762.4 723.3,2764.1 720.8,2765.7 718.3,2767.4 715.7,2769.1 713.2,2770.7 710.6,2772.4 708.1,2774 705.5,2775.7 703,2777.3 700.4,2778.9 697.9,2780.6 695.3,2782.2 692.8,2783.8 690.2,2785.4 687.6,2787.1 685.1,2788.7 682.5,2790.3 680,2791.9 677.4,2793.5 674.9,2795.1 672.3,2796.8 669.8,2798.4 667.2,2800 664.7,2801.6 662.2,2803.3 659.6,2804.9 657.1,2806.5 654.6,2808.2 652.1,2809.8 649.6,2811.4 647.1,2813.1 644.6,2814.8 642.1,2816.4 639.6,2818.1 637.2,2819.7 634.7,2821.4 632.3,2823.1 629.8,2824.8 627.4,2826.5 625,2828.2 622.6,2829.9 620.2,2831.7 617.8,2833.4 615.4,2835.1 613.1,2836.9 610.7,2838.7 608.4,2840.5 606.1,2842.2 603.8,2844 601.5,2845.9 599.2,2847.7 596.9,2849.5 594.7,2851.4 592.5,2853.3 590.3,2855.1 588.1,2857 585.9,2858.9 583.8,2860.9 581.6,2862.8 579.5,2864.8 577.4,2866.7 575.3,2868.7 573.3,2870.8 571.2,2872.8 569.2,2874.8 567.2,2876.9 565.2,2879 563.3,2881.1 561.4,2883.2 559.4,2885.4 557.6,2887.5 555.7,2889.7 553.9,2891.9 552.1,2894.1 550.3,2896.4 548.5,2898.7 546.8,2900.9 545.1,2903.3 543.4,2905.6 541.7,2907.9 540.1,2910.3 538.5,2912.7 536.9,2915.1 535.3,2917.5 533.8,2920 532.3,2922.4 530.8,2924.9 529.3,2927.4 527.9,2929.9 526.5,2932.4 525.1,2935 523.8,2937.6 522.4,2940.1 521.1,2942.7 519.9,2945.4 518.6,2948 517.4,2950.6 516.2,2953.3 515.1,2956 513.9,2958.7 512.8,2961.4 511.7,2964.1 510.7,2966.8 509.7,2969.6 508.7,2972.3 507.7,2975.1 506.8,2977.9 505.9,2980.7 505,2983.5 504.1,2986.4 503.3,2989.2 502.5,2992 501.8,2994.9 501,2997.8 500.3,3000.7 499.7,3003.6 499,3006.5 498.4,3009.4 497.8,3012.3 497.3,3015.3 496.8,3018.2 496.3,3021.2 495.8,3024.2 495.4,3027.1 495,3030.1 494.6,3033.1 494.3,3036.1 494,3039.2 493.7,3042.2 493.5,3045.2 493.3,3048.2 493.1,3051.3 493,3054.3 492.9,3057.4 492.8,3060.5 492.8,3063.6 492.7,3066.6 492.8,3069.7 492.8,3072.8 492.9,3075.9 493,3079 493.2,3082.1 493.4,3085.2 493.6,3088.4 493.9,3091.5 494.1,3094.6 494.5,3097.7 494.8,3100.9 495.2,3104" fill="none" stroke="#5DAD2A" stroke-width="5.3" stroke-linejoin="round" stroke-linecap="butt"/>
<rect x="731.5" y="2851.2" width="329.4" height="255" fill="#fff" stroke="#222222" stroke-width="4.2"/>
<line x1="747.6" y1="2881.2" x2="898.9" y2="2881.2" stroke="#0072C0" stroke-width="5.3"/>
<text x="908.2" y="2897.3" font-size="41" font-family="'Liberation Serif','Times New Roman',serif" fill="#000">No eddy</text>
<line x1="747.6" y1="2929.9" x2="898.9" y2="2929.9" stroke="#F9551A" stroke-width="5.3"/>
<text x="908.2" y="2946" font-size="41" font-family="'Liberation Serif','Times New Roman',serif" fill="#000">0.1 m</text>
<line x1="747.6" y1="2978.7" x2="898.9" y2="2978.7" stroke="#FDB212" stroke-width="5.3"/>
<text x="908.2" y="2994.8" font-size="41" font-family="'Liberation Serif','Times New Roman',serif" fill="#000">0.2 m</text>
<line x1="747.6" y1="3027.4" x2="898.9" y2="3027.4" stroke="#8B2D90" stroke-width="5.3"/>
<text x="908.2" y="3043.5" font-size="41" font-family="'Liberation Serif','Times New Roman',serif" fill="#000">0.3 m</text>
<line x1="747.6" y1="3076.2" x2="898.9" y2="3076.2" stroke="#5DAD2A" stroke-width="5.3"/>
<text x="908.2" y="3092.3" font-size="41" font-family="'Liberation Serif','Times New Roman',serif" fill="#000">0.4 m</text>
<rect x="251.1" y="2408.2" width="809.8" height="698" fill="none" stroke="#222222" stroke-width="5.7"/>
<text x="273.4" y="2466" font-size="61" font-family="'Liberation Serif','Times New Roman',serif" fill="#000">(d)</text>
<text x="237.8" y="2423.7" font-size="45" font-family="'Liberation Serif','Times New Roman',serif" text-anchor="end" fill="#000">0 m</text>
<text x="237.8" y="2562.9" font-size="45" font-family="'Liberation Serif','Times New Roman',serif" text-anchor="end" fill="#000">200 m</text>
<text x="237.8" y="2702.6" font-size="45" font-family="'Liberation Serif','Times New Roman',serif" text-anchor="end" fill="#000">400 m</text>
<text x="237.8" y="2842.4" font-size="45" font-family="'Liberation Serif','Times New Roman',serif" text-anchor="end" fill="#000">600 m</text>
<text x="237.8" y="2982.1" font-size="45" font-family="'Liberation Serif','Times New Roman',serif" text-anchor="end" fill="#000">800 m</text>
<text x="237.8" y="3121.7" font-size="45" font-family="'Liberation Serif','Times New Roman',serif" text-anchor="end" fill="#000">1000 m</text>
<text x="658.5" y="83.9" font-size="67" font-family="'Liberation Serif','Times New Roman',serif" text-anchor="middle" fill="#000">AE</text>
<text x="455.4" y="3162.5" font-size="45" font-family="'Liberation Serif','Times New Roman',serif" text-anchor="middle" fill="#000">1480</text>
<text x="658" y="3162.5" font-size="45" font-family="'Liberation Serif','Times New Roman',serif" text-anchor="middle" fill="#000">1500</text>
<text x="860.6" y="3162.5" font-size="45" font-family="'Liberation Serif','Times New Roman',serif" text-anchor="middle" fill="#000">1520</text>
<g><line x1="1325.5" y1="104" x2="1325.5" y2="797.4" stroke="#dcdcdc" stroke-width="5.2" stroke-dasharray="14.7 15.3" stroke-dashoffset="-1.2"/><line x1="1528" y1="104" x2="1528" y2="797.4" stroke="#dcdcdc" stroke-width="5.2" stroke-dasharray="14.7 15.3" stroke-dashoffset="-1.2"/><line x1="1730.4" y1="104" x2="1730.4" y2="797.4" stroke="#dcdcdc" stroke-width="5.2" stroke-dasharray="14.7 15.3" stroke-dashoffset="-1.2"/><line x1="1930.9" y1="242.7" x2="1123" y2="242.7" stroke="#dcdcdc" stroke-width="5.2" stroke-dasharray="14.7 15.3" stroke-dashoffset="0"/><line x1="1930.9" y1="382" x2="1123" y2="382" stroke="#dcdcdc" stroke-width="5.2" stroke-dasharray="14.7 15.3" stroke-dashoffset="0"/><line x1="1930.9" y1="521.4" x2="1123" y2="521.4" stroke="#dcdcdc" stroke-width="5.2" stroke-dasharray="14.7 15.3" stroke-dashoffset="0"/><line x1="1930.9" y1="660.7" x2="1123" y2="660.7" stroke="#dcdcdc" stroke-width="5.2" stroke-dasharray="14.7 15.3" stroke-dashoffset="0"/></g>
<polyline points="1637.8,110.8 1636.5,113.5 1635.2,116.2 1633.9,118.9 1632.6,121.6 1631.3,124.4 1630,127.1 1628.6,129.8 1627.3,132.5 1626,135.2 1624.7,138 1623.4,140.7 1622.1,143.4 1620.8,146.1 1619.4,148.8 1618.1,151.5 1616.8,154.3 1615.5,157 1614.1,159.7 1612.8,162.4 1611.5,165.1 1610.2,167.8 1608.8,170.5 1607.5,173.2 1606.1,175.9 1604.8,178.7 1603.5,181.4 1602.1,184.1 1600.8,186.8 1599.4,189.5 1598.1,192.1 1596.7,194.8 1595.3,197.5 1594,200.2 1592.6,202.9 1591.2,205.6 1589.9,208.3 1588.5,211 1587.1,213.6 1585.7,216.3 1584.3,219 1582.9,221.7 1581.5,224.3 1580.1,227 1578.7,229.7 1577.3,232.3 1575.9,235 1574.4,237.6 1573,240.3 1571.6,242.9 1570.1,245.6 1568.7,248.2 1567.2,250.9 1565.8,253.5 1564.3,256.1 1562.8,258.8 1561.4,261.4 1559.9,264 1558.4,266.6 1556.9,269.2 1555.4,271.8 1553.9,274.4 1552.4,277 1550.9,279.6 1549.3,282.2 1547.8,284.8 1546.3,287.4 1544.7,290 1543.1,292.6 1541.6,295.1 1540,297.7 1538.4,300.3 1536.8,302.8 1535.2,305.4 1533.6,307.9 1532,310.5 1530.4,313 1528.8,315.5 1527.1,318.1 1525.5,320.6 1523.8,323.1 1522.2,325.6 1520.5,328.1 1518.8,330.6 1517.1,333.1 1515.5,335.6 1513.8,338.1 1512.1,340.6 1510.4,343.1 1508.6,345.6 1506.9,348 1505.2,350.5 1503.5,353 1501.7,355.5 1500,357.9 1498.3,360.4 1496.5,362.8 1494.8,365.3 1493,367.8 1491.3,370.2 1489.5,372.7 1487.7,375.1 1486,377.6 1484.2,380 1482.4,382.4 1480.6,384.9 1478.8,387.3 1477.1,389.8 1475.3,392.2 1473.5,394.6 1471.7,397.1 1469.9,399.5 1468.1,401.9 1466.3,404.4 1464.5,406.8 1462.7,409.2 1460.9,411.6 1459.1,414.1 1457.3,416.5 1455.5,418.9 1453.7,421.4 1451.9,423.8 1450.1,426.2 1448.3,428.6 1446.5,431.1 1444.7,433.5 1443,435.9 1441.2,438.4 1439.4,440.8 1437.6,443.2 1435.8,445.7 1434,448.1 1432.2,450.5 1430.4,453 1428.7,455.4 1426.9,457.8 1425.1,460.3 1423.3,462.7 1421.6,465.2 1419.8,467.6 1418.1,470.1 1416.3,472.5 1414.6,475 1412.8,477.4 1411.1,479.9 1409.3,482.4 1407.6,484.8 1405.9,487.3 1404.2,489.8 1402.4,492.2 1400.7,494.7 1399,497.2 1397.3,499.7 1395.6,502.2 1393.9,504.7 1392.3,507.2 1390.6,509.7 1388.9,512.2 1387.3,514.7 1385.6,517.2 1384,519.7 1382.3,522.2 1380.7,524.7 1379.1,527.3 1377.5,529.8 1375.9,532.3 1374.3,534.9 1372.7,537.8 1371.2,540.6 1369.7,543.5 1368.3,546.4 1366.8,549.3 1365.4,552.2 1364,555 1362.6,557.9 1361.3,560.8 1359.9,563.7 1358.6,566.6 1357.2,569.5 1355.9,572.4 1354.6,575.3 1353.3,578.1 1352,581 1350.7,583.9 1349.4,586.8 1348.1,589.7 1346.8,592.6 1345.5,595.5 1344.2,598.4 1342.8,601.3 1341.5,604.2 1340.1,607.1 1338.7,610 1338,613.1 1337.4,616.2 1336.8,619.3 1336.3,622.4 1335.7,625.5 1335.2,628.6 1334.7,631.7 1334.2,634.8 1333.7,637.9 1333.2,641 1332.8,644.1 1332.3,647.2 1331.9,650.4 1331.4,653.5 1331,656.6 1330.5,659.7 1330.1,662.8 1329.6,665.9 1329.2,669.1 1328.7,672.2 1328.2,675.3 1327.7,678.4 1327.2,681.5 1326.7,684.6 1326.1,687.7 1325.6,690.8 1325,693.8 1324.4,696.9 1323.7,700 1324.7,740 1324.4,795" fill="none" stroke="#0072C0" stroke-width="5.3" stroke-linejoin="round" stroke-linecap="butt"/>
<polyline points="1628.3,110.8 1626.7,113.3 1625.1,115.8 1623.5,118.3 1621.9,120.7 1620.2,123.2 1618.6,125.7 1616.9,128.2 1615.3,130.7 1613.6,133.1 1611.9,135.6 1610.3,138.1 1608.6,140.5 1606.9,143 1605.2,145.5 1603.5,147.9 1601.8,150.4 1600.1,152.8 1598.4,155.3 1596.6,157.7 1594.9,160.1 1593.2,162.6 1591.5,165 1589.7,167.5 1588,169.9 1586.2,172.3 1584.5,174.8 1582.7,177.2 1581,179.6 1579.2,182 1577.4,184.4 1575.7,186.9 1573.9,189.3 1572.1,191.7 1570.3,194.1 1568.5,196.5 1566.7,198.9 1564.9,201.3 1563.1,203.7 1561.3,206.2 1559.5,208.6 1557.7,211 1555.9,213.4 1554.1,215.8 1552.3,218.2 1550.5,220.6 1548.7,223 1546.8,225.4 1545,227.7 1543.2,230.1 1541.4,232.5 1539.5,234.9 1537.7,237.3 1535.9,239.7 1534.1,242.1 1532.2,244.5 1530.4,246.9 1528.5,249.3 1526.7,251.7 1524.9,254 1523,256.4 1521.2,258.8 1519.3,261.2 1517.5,263.6 1515.7,266 1513.8,268.4 1512,270.7 1510.1,273.1 1508.3,275.5 1506.5,277.9 1504.6,280.3 1502.8,282.7 1500.9,285.1 1499.1,287.5 1497.2,289.8 1495.4,292.2 1493.6,294.6 1491.7,297 1489.9,299.4 1488,301.8 1486.2,304.2 1484.4,306.6 1482.5,309 1480.7,311.4 1478.9,313.8 1477.1,316.2 1475.2,318.6 1473.4,321 1471.6,323.4 1469.8,325.8 1468,328.2 1466.1,330.6 1464.3,333 1462.5,335.4 1460.7,337.8 1458.9,340.2 1457.1,342.6 1455.3,345 1453.5,347.4 1451.7,349.8 1449.9,352.3 1448.1,354.7 1446.4,357.1 1444.6,359.5 1442.8,362 1441,364.4 1439.3,366.8 1437.5,369.2 1435.7,371.7 1434,374.1 1432.2,376.6 1430.5,379 1428.7,381.4 1427,383.9 1425.3,386.3 1423.6,388.8 1421.8,391.2 1420.1,393.7 1418.4,396.2 1416.7,398.6 1415,401.1 1413.3,403.6 1411.7,406 1410,408.5 1408.3,411 1406.7,413.5 1405,416 1403.4,418.5 1401.7,421 1400.1,423.5 1398.5,426 1396.9,428.5 1395.3,431 1393.7,433.6 1392.1,436.1 1390.6,438.6 1389,441.2 1387.5,443.7 1385.9,446.3 1384.4,448.8 1382.9,451.4 1381.4,453.9 1379.9,456.5 1378.4,459.1 1377,461.7 1375.5,464.3 1374.1,466.9 1372.6,469.5 1371.2,472.1 1369.8,474.7 1368.4,477.3 1367,480 1365.7,482.6 1364.3,485.2 1363,487.9 1361.7,490.5 1360.4,493.2 1359.1,495.9 1357.8,498.6 1356.5,501.2 1355.3,503.9 1354,506.6 1352.8,509.4 1351.6,512.1 1350.4,514.8 1349.3,517.5 1348.1,520.3 1347,523 1345.9,525.8 1344.8,528.6 1343.7,531.3 1342.6,534.1 1341.6,536.9 1340.6,539.7 1339.5,542.5 1338.5,545.4 1337.6,548.2 1336.6,551 1335.7,553.9 1334.8,556.7 1333.9,559.6 1333,562.5 1332.1,565.4 1331.3,568.3 1330.5,571.2 1329.7,574.1 1328.9,577 1328.2,580 1327.4,582.9 1326.7,585.9 1326.1,588.9 1325.4,591.9 1324.7,594.9 1324.1,597.9 1323.5,600.9 1323,603.9 1322.4,607 1321.9,610 1321.5,613.1 1321.1,616.1 1320.8,619.2 1320.4,622.3 1320.1,625.3 1319.8,628.4 1319.5,631.5 1319.2,634.6 1318.9,637.6 1318.7,640.7 1318.4,643.8 1318.2,646.9 1318,650 1317.8,653 1317.6,656.1 1317.4,659.2 1317.2,662.3 1317.1,665.4 1316.9,668.4 1316.8,671.5 1316.6,674.6 1316.5,677.7 1316.4,680.8 1316.3,683.9 1316.2,687 1316.2,690 1316.1,693.1 1316,696.2 1316,699.3 1316,702.4 1315.9,705.5 1315.9,708.6 1315.9,711.7 1315.9,714.7 1315.9,717.8 1315.9,720.9 1315.9,724 1316,727.1 1316,730.2 1316,733.3 1316.1,736.4 1316.1,739.5 1316.2,742.5 1316.3,745.6 1316.3,748.7 1316.4,751.8 1316.5,754.9 1316.6,758 1316.7,761.1 1316.8,764.2 1316.9,767.2 1317,770.3 1317.2,773.4 1317.3,776.5 1317.4,779.6 1317.5,782.7 1317.7,785.8 1317.8,788.8 1318,791.9 1318.1,795" fill="none" stroke="#F9551A" stroke-width="5.3" stroke-linejoin="round" stroke-linecap="butt"/>
<polyline points="1619.5,110.8 1617.5,113 1615.5,115.2 1613.6,117.4 1611.6,119.5 1609.6,121.7 1607.6,123.9 1605.6,126.1 1603.6,128.3 1601.7,130.4 1599.7,132.6 1597.7,134.8 1595.7,136.9 1593.7,139.1 1591.7,141.3 1589.7,143.4 1587.6,145.6 1585.6,147.8 1583.6,149.9 1581.6,152.1 1579.6,154.3 1577.6,156.4 1575.5,158.6 1573.5,160.7 1571.5,162.9 1569.4,165.1 1567.4,167.2 1565.4,169.4 1563.3,171.5 1561.3,173.7 1559.3,175.8 1557.2,178 1555.2,180.1 1553.1,182.3 1551.1,184.5 1549,186.6 1547,188.8 1544.9,190.9 1542.8,193.1 1540.8,195.2 1538.7,197.4 1536.7,199.5 1534.6,201.7 1532.5,203.8 1530.5,206 1528.4,208.1 1526.3,210.3 1524.2,212.5 1522.2,214.6 1520.1,216.8 1518,218.9 1515.9,221.1 1513.9,223.2 1511.8,225.4 1509.7,227.6 1507.6,229.7 1505.5,231.9 1503.4,234.1 1501.3,236.2 1499.3,238.4 1497.2,240.6 1495.1,242.7 1493,244.9 1490.9,247.1 1488.8,249.2 1486.7,251.4 1484.6,253.6 1482.5,255.8 1480.4,258 1478.3,260.1 1476.2,262.3 1474.1,264.5 1472,266.7 1469.9,268.9 1467.8,271.1 1465.7,273.3 1463.6,275.5 1461.5,277.7 1459.4,279.8 1457.3,282.1 1455.1,284.3 1453,286.5 1450.9,288.7 1448.8,290.9 1446.7,293.1 1444.6,295.3 1442.5,297.5 1440.4,299.8 1438.3,302 1436.2,304.2 1434.1,306.4 1432.1,308.7 1430,310.9 1427.9,313.2 1425.8,315.4 1423.8,317.7 1421.7,319.9 1419.7,322.2 1417.6,324.5 1415.6,326.8 1413.6,329 1411.5,331.3 1409.5,333.6 1407.5,335.9 1405.6,338.2 1403.6,340.5 1401.6,342.9 1399.7,345.2 1397.7,347.5 1395.8,349.8 1393.9,352.2 1392,354.5 1390.1,356.9 1388.2,359.3 1386.3,361.6 1384.5,364 1382.7,366.4 1380.8,368.8 1379,371.2 1377.3,373.6 1375.5,376 1373.7,378.5 1372,380.9 1370.3,383.3 1368.6,385.8 1366.9,388.3 1365.3,390.7 1363.6,393.2 1362,395.7 1360.4,398.2 1358.9,400.7 1357.3,403.2 1355.8,405.8 1354.3,408.3 1352.8,410.9 1351.3,413.4 1349.9,416 1348.5,418.6 1347.1,421.2 1345.7,423.8 1344.4,426.4 1343.1,429 1341.8,431.7 1340.6,434.3 1339.3,437 1338.1,439.6 1336.9,442.3 1335.8,445 1334.6,447.7 1333.5,450.4 1332.4,453.2 1331.4,455.9 1330.3,458.6 1329.3,461.4 1328.3,464.1 1327.3,466.9 1326.4,469.7 1325.4,472.5 1324.5,475.3 1323.6,478.1 1322.8,480.9 1321.9,483.7 1321.1,486.5 1320.3,489.4 1319.5,492.2 1318.8,495.1 1318,497.9 1317.3,500.8 1316.6,503.6 1315.9,506.5 1315.3,509.4 1314.6,512.3 1314,515.2 1313.4,518.1 1312.8,521 1312.2,524 1311.7,526.9 1311.2,529.8 1310.6,532.8 1310.2,535.7 1309.7,538.6 1309.2,541.6 1308.8,544.6 1308.3,547.5 1307.9,550.5 1307.5,553.5 1307.2,556.5 1306.8,559.4 1306.5,562.4 1306.1,565.4 1305.8,568.4 1305.5,571.4 1305.3,574.4 1305,577.4 1304.7,580.4 1304.5,583.5 1304.3,586.5 1304.1,589.5 1303.9,592.5 1303.7,595.6 1303.5,598.6 1303.4,601.6 1303.2,604.7 1303.1,607.7 1303,610.7 1302.9,613.8 1302.8,616.8 1302.7,619.9 1302.7,622.9 1302.6,626 1302.6,629 1302.5,632.1 1302.5,635.1 1302.5,638.2 1302.5,641.3 1302.5,644.3 1302.6,647.4 1302.6,650.4 1302.6,653.5 1302.7,656.6 1302.8,659.6 1302.8,662.7 1302.9,665.7 1303,668.8 1303.1,671.8 1303.2,674.9 1303.3,678 1303.5,681 1303.6,684.1 1303.8,687.1 1303.9,690.2 1304.1,693.2 1304.2,696.3 1304.4,699.3 1304.6,702.4 1304.8,705.4 1305,708.4 1305.2,711.5 1305.4,714.5 1305.6,717.5 1305.8,720.6 1306,723.6 1306.3,726.6 1306.5,729.6 1306.7,732.7 1307,735.7 1307.2,738.7 1307.5,741.7 1307.7,744.7 1308,747.7 1308.3,750.7 1308.5,753.7 1308.8,756.7 1309.1,759.6 1309.3,762.6 1309.6,765.6 1309.9,768.6 1310.2,771.5 1310.5,774.5 1310.8,777.4 1311.1,780.4 1311.4,783.3 1311.6,786.2 1311.9,789.2 1312.2,792.1 1312.5,795" fill="none" stroke="#FDB212" stroke-width="5.3" stroke-linejoin="round" stroke-linecap="butt"/>
<polyline points="1610.3,110.8 1607.8,112.6 1605.2,114.4 1602.7,116.2 1600.2,118 1597.8,119.8 1595.3,121.6 1592.9,123.5 1590.4,125.3 1588,127.2 1585.6,129 1583.2,130.9 1580.9,132.8 1578.5,134.7 1576.2,136.6 1573.9,138.5 1571.6,140.4 1569.3,142.4 1567,144.3 1564.7,146.2 1562.5,148.2 1560.2,150.1 1558,152.1 1555.7,154.1 1553.5,156 1551.3,158 1549.1,160 1546.9,162 1544.7,164 1542.5,166 1540.3,168 1538.2,170 1536,172 1533.8,174 1531.7,176 1529.5,178 1527.4,180 1525.2,182.1 1523.1,184.1 1520.9,186.1 1518.8,188.1 1516.7,190.2 1514.5,192.2 1512.4,194.2 1510.2,196.3 1508.1,198.3 1506,200.3 1503.8,202.4 1501.7,204.4 1499.5,206.4 1497.4,208.4 1495.2,210.5 1493.1,212.5 1490.9,214.5 1488.7,216.5 1486.5,218.6 1484.4,220.6 1482.2,222.6 1480,224.6 1477.8,226.6 1475.6,228.6 1473.3,230.6 1471.1,232.6 1468.9,234.6 1466.6,236.6 1464.4,238.6 1462.1,240.6 1459.8,242.5 1457.5,244.5 1455.2,246.5 1452.9,248.4 1450.6,250.4 1448.3,252.3 1445.9,254.3 1443.6,256.2 1441.2,258.2 1438.9,260.1 1436.5,262.1 1434.2,264 1431.8,265.9 1429.4,267.9 1427,269.8 1424.7,271.7 1422.3,273.7 1419.9,275.6 1417.5,277.6 1415.1,279.5 1412.8,281.4 1410.4,283.4 1408,285.3 1405.6,287.3 1403.3,289.2 1400.9,291.2 1398.5,293.2 1396.2,295.1 1393.8,297.1 1391.5,299.1 1389.1,301.1 1386.8,303 1384.5,305 1382.2,307 1379.9,309.1 1377.6,311.1 1375.3,313.1 1373,315.1 1370.7,317.2 1368.5,319.2 1366.2,321.3 1364,323.4 1361.8,325.4 1359.6,327.5 1357.4,329.6 1355.3,331.8 1353.1,333.9 1351,336 1348.9,338.2 1346.8,340.3 1344.7,342.5 1342.6,344.7 1340.6,346.9 1338.6,349.1 1336.6,351.4 1334.6,353.6 1332.7,355.9 1330.7,358.2 1328.8,360.5 1327,362.8 1325.1,365.1 1323.3,367.4 1321.5,369.8 1319.7,372.2 1318,374.6 1316.2,377 1314.6,379.5 1312.9,381.9 1311.3,384.4 1309.7,386.9 1308.1,389.4 1306.5,391.9 1305,394.4 1303.5,397 1302.1,399.6 1300.7,402.2 1299.3,404.8 1297.9,407.4 1296.6,410 1295.3,412.7 1294,415.3 1292.8,418 1291.6,420.7 1290.4,423.4 1289.3,426.1 1288.2,428.9 1287.2,431.6 1286.1,434.4 1285.2,437.2 1284.2,440 1283.3,442.8 1282.4,445.6 1281.6,448.4 1280.8,451.3 1280,454.1 1279.3,457 1278.6,459.9 1278,462.8 1277.4,465.7 1276.8,468.6 1276.3,471.5 1275.8,474.4 1275.4,477.4 1275,480.3 1274.6,483.3 1274.3,486.3 1274,489.3 1273.8,492.3 1273.6,495.3 1273.4,498.3 1273.3,501.3 1273.3,504.4 1273.2,507.4 1273.3,510.5 1273.3,513.5 1273.4,516.6 1273.6,519.6 1273.7,522.7 1273.9,525.8 1274.2,528.9 1274.4,531.9 1274.7,535 1275,538.1 1275.4,541.2 1275.8,544.2 1276.2,547.3 1276.6,550.4 1277,553.5 1277.5,556.5 1277.9,559.6 1278.4,562.6 1278.9,565.7 1279.5,568.7 1280,571.7 1280.6,574.8 1281.1,577.8 1281.7,580.8 1282.2,583.8 1282.8,586.7 1283.4,589.7 1284,592.6 1284.6,595.6 1285.2,598.5 1285.8,601.4 1286.3,604.3 1286.9,607.2 1287.5,610 1287.8,613 1288,616.1 1288.3,619.1 1288.6,622.2 1288.9,625.2 1289.2,628.2 1289.6,631.3 1289.9,634.3 1290.2,637.3 1290.5,640.4 1290.9,643.4 1291.2,646.4 1291.6,649.4 1291.9,652.5 1292.3,655.5 1292.6,658.5 1293,661.6 1293.4,664.6 1293.7,667.6 1294.1,670.6 1294.5,673.7 1294.9,676.7 1295.2,679.7 1295.6,682.8 1296,685.8 1296.4,688.8 1296.8,691.8 1297.1,694.9 1297.5,697.9 1297.9,700.9 1298.3,703.9 1298.7,707 1299,710 1299.4,713 1299.8,716 1300.1,719.1 1300.5,722.1 1300.9,725.1 1301.2,728.2 1301.6,731.2 1301.9,734.2 1302.3,737.3 1302.6,740.3 1302.9,743.3 1303.3,746.3 1303.6,749.4 1303.9,752.4 1304.2,755.4 1304.5,758.5 1304.8,761.5 1305.1,764.6 1305.4,767.6 1305.7,770.6 1305.9,773.7 1306.2,776.7 1306.4,779.8 1306.7,782.8 1306.9,785.9 1307.1,788.9 1307.3,792 1307.5,795" fill="none" stroke="#8B2D90" stroke-width="5.3" stroke-linejoin="round" stroke-linecap="butt"/>
<polyline points="1601.1,110.8 1598.4,112.4 1595.7,113.9 1593,115.5 1590.3,117.1 1587.7,118.7 1585.1,120.4 1582.5,122 1579.9,123.7 1577.4,125.3 1574.8,127 1572.3,128.7 1569.8,130.4 1567.3,132.1 1564.8,133.8 1562.4,135.6 1559.9,137.3 1557.5,139.1 1555.1,140.8 1552.6,142.6 1550.3,144.4 1547.9,146.2 1545.5,148 1543.1,149.8 1540.8,151.6 1538.4,153.4 1536.1,155.2 1533.8,157.1 1531.4,158.9 1529.1,160.8 1526.8,162.6 1524.5,164.5 1522.2,166.3 1519.9,168.2 1517.6,170 1515.4,171.9 1513.1,173.8 1510.8,175.6 1508.5,177.5 1506.2,179.4 1503.9,181.2 1501.7,183.1 1499.4,185 1497.1,186.9 1494.8,188.7 1492.5,190.6 1490.2,192.5 1487.9,194.3 1485.6,196.2 1483.3,198.1 1481,199.9 1478.7,201.8 1476.4,203.6 1474.1,205.5 1471.7,207.3 1469.4,209.2 1467,211 1464.7,212.8 1462.3,214.7 1459.9,216.5 1457.5,218.3 1455.1,220.1 1452.7,221.9 1450.2,223.7 1447.8,225.5 1445.3,227.2 1442.9,229 1440.4,230.8 1437.9,232.6 1435.4,234.3 1432.9,236.1 1430.4,237.8 1427.9,239.6 1425.4,241.3 1422.9,243.1 1420.3,244.8 1417.8,246.5 1415.2,248.3 1412.7,250 1410.1,251.7 1407.6,253.5 1405,255.2 1402.5,256.9 1399.9,258.7 1397.4,260.4 1394.8,262.1 1392.3,263.9 1389.7,265.6 1387.1,267.4 1384.6,269.1 1382,270.9 1379.5,272.6 1376.9,274.4 1374.4,276.1 1371.8,277.9 1369.3,279.6 1366.7,281.4 1364.2,283.2 1361.7,285 1359.2,286.8 1356.7,288.6 1354.2,290.4 1351.7,292.2 1349.2,294 1346.7,295.8 1344.2,297.6 1341.8,299.5 1339.3,301.3 1336.9,303.2 1334.4,305.1 1332,306.9 1329.6,308.8 1327.2,310.7 1324.8,312.6 1322.5,314.6 1320.1,316.5 1317.8,318.4 1315.4,320.4 1313.1,322.4 1310.8,324.3 1308.5,326.3 1306.3,328.3 1304,330.4 1301.8,332.4 1299.6,334.5 1297.4,336.5 1295.2,338.6 1293.1,340.7 1291,342.8 1288.8,344.9 1286.8,347.1 1284.7,349.3 1282.6,351.4 1280.6,353.6 1278.6,355.8 1276.6,358.1 1274.7,360.3 1272.8,362.6 1270.9,364.9 1269,367.2 1267.2,369.5 1265.4,371.9 1263.6,374.2 1261.9,376.6 1260.2,379 1258.5,381.4 1256.9,383.8 1255.3,386.2 1253.7,388.7 1252.2,391.2 1250.7,393.7 1249.3,396.2 1247.9,398.7 1246.6,401.3 1245.3,403.8 1244,406.4 1242.8,409 1241.6,411.6 1240.5,414.2 1239.5,416.9 1238.5,419.6 1237.5,422.2 1236.6,424.9 1235.8,427.6 1235,430.4 1234.2,433.1 1233.5,435.9 1232.9,438.7 1232.4,441.5 1231.9,444.3 1231.4,447.1 1231,450 1230.7,452.8 1230.4,455.7 1230.2,458.6 1230,461.5 1229.9,464.4 1229.9,467.3 1229.9,470.3 1229.9,473.2 1230.1,476.2 1230.2,479.1 1230.4,482.1 1230.7,485.1 1231,488.1 1231.3,491.1 1231.7,494.1 1232.2,497.1 1232.7,500.1 1233.2,503.1 1233.8,506.1 1234.4,509.1 1235.1,512.1 1235.8,515.2 1236.5,518.2 1237.3,521.2 1238.1,524.2 1238.9,527.2 1239.8,530.2 1240.7,533.2 1241.6,536.2 1242.5,539.2 1243.5,542.2 1244.5,545.2 1245.5,548.2 1246.5,551.1 1247.6,554.1 1248.7,557 1249.7,560 1250.8,562.9 1251.9,565.8 1253.1,568.7 1254.2,571.6 1255.3,574.5 1256.5,577.3 1257.6,580.1 1258.8,583 1259.9,585.8 1261.1,588.5 1262.2,591.3 1263.3,594 1264.5,596.8 1265.6,599.5 1266.7,602.1 1267.8,604.8 1268.9,607.4 1270,610 1270.6,613 1271.2,616 1271.8,619.1 1272.5,622.1 1273.1,625.1 1273.7,628.1 1274.3,631.1 1274.9,634.2 1275.6,637.2 1276.2,640.2 1276.8,643.2 1277.4,646.2 1278,649.2 1278.6,652.3 1279.2,655.3 1279.8,658.3 1280.4,661.3 1281,664.3 1281.6,667.3 1282.2,670.4 1282.8,673.4 1283.4,676.4 1284,679.4 1284.6,682.4 1285.1,685.5 1285.7,688.5 1286.3,691.5 1286.9,694.5 1287.4,697.6 1288,700.6 1288.5,703.6 1289.1,706.6 1289.6,709.7 1290.1,712.7 1290.7,715.7 1291.2,718.7 1291.7,721.8 1292.2,724.8 1292.7,727.8 1293.2,730.9 1293.7,733.9 1294.2,736.9 1294.7,740 1295.2,743 1295.6,746.1 1296.1,749.1 1296.5,752.2 1297,755.2 1297.4,758.3 1297.8,761.3 1298.2,764.4 1298.7,767.4 1299.1,770.5 1299.4,773.5 1299.8,776.6 1300.2,779.7 1300.6,782.7 1300.9,785.8 1301.2,788.9 1301.6,791.9 1301.9,795" fill="none" stroke="#5DAD2A" stroke-width="5.3" stroke-linejoin="round" stroke-linecap="butt"/>
<rect x="1601.5" y="544.9" width="329.4" height="252.5" fill="#fff" stroke="#222222" stroke-width="4.2"/>
<line x1="1617.6" y1="574.3" x2="1768.9" y2="574.3" stroke="#0072C0" stroke-width="5.3"/>
<text x="1778.2" y="590.4" font-size="41" font-family="'Liberation Serif','Times New Roman',serif" fill="#000">No eddy</text>
<line x1="1617.6" y1="623" x2="1768.9" y2="623" stroke="#F9551A" stroke-width="5.3"/>
<text x="1778.2" y="639.1" font-size="41" font-family="'Liberation Serif','Times New Roman',serif" fill="#000">0.1 m</text>
<line x1="1617.6" y1="671.8" x2="1768.9" y2="671.8" stroke="#FDB212" stroke-width="5.3"/>
<text x="1778.2" y="687.9" font-size="41" font-family="'Liberation Serif','Times New Roman',serif" fill="#000">0.2 m</text>
<line x1="1617.6" y1="720.5" x2="1768.9" y2="720.5" stroke="#8B2D90" stroke-width="5.3"/>
<text x="1778.2" y="736.6" font-size="41" font-family="'Liberation Serif','Times New Roman',serif" fill="#000">0.3 m</text>
<line x1="1617.6" y1="769.3" x2="1768.9" y2="769.3" stroke="#5DAD2A" stroke-width="5.3"/>
<text x="1778.2" y="785.4" font-size="41" font-family="'Liberation Serif','Times New Roman',serif" fill="#000">0.4 m</text>
<rect x="1123" y="104" width="807.9" height="693.4" fill="none" stroke="#222222" stroke-width="5.7"/>
<text x="1142.5" y="161.8" font-size="61" font-family="'Liberation Serif','Times New Roman',serif" fill="#000">(e)</text>
<g><line x1="1325.5" y1="870.7" x2="1325.5" y2="1567.8" stroke="#dcdcdc" stroke-width="5.2" stroke-dasharray="14.7 15.3" stroke-dashoffset="0.6"/><line x1="1528" y1="870.7" x2="1528" y2="1567.8" stroke="#dcdcdc" stroke-width="5.2" stroke-dasharray="14.7 15.3" stroke-dashoffset="0.6"/><line x1="1730.4" y1="870.7" x2="1730.4" y2="1567.8" stroke="#dcdcdc" stroke-width="5.2" stroke-dasharray="14.7 15.3" stroke-dashoffset="0.6"/><line x1="1930.9" y1="1009.7" x2="1123" y2="1009.7" stroke="#dcdcdc" stroke-width="5.2" stroke-dasharray="14.7 15.3" stroke-dashoffset="0"/><line x1="1930.9" y1="1149.3" x2="1123" y2="1149.3" stroke="#dcdcdc" stroke-width="5.2" stroke-dasharray="14.7 15.3" stroke-dashoffset="0"/><line x1="1930.9" y1="1288.8" x2="1123" y2="1288.8" stroke="#dcdcdc" stroke-width="5.2" stroke-dasharray="14.7 15.3" stroke-dashoffset="0"/><line x1="1930.9" y1="1428.4" x2="1123" y2="1428.4" stroke="#dcdcdc" stroke-width="5.2" stroke-dasharray="14.7 15.3" stroke-dashoffset="0"/></g>
<polyline points="1826.5,877 1823.3,877.2 1820,877.4 1816.8,877.6 1813.5,877.9 1810.3,878.2 1807.1,878.5 1803.9,878.9 1800.8,879.3 1797.6,879.7 1794.5,880.1 1791.4,880.6 1788.3,881.1 1785.2,881.6 1782.1,882.2 1779.1,882.8 1776,883.4 1773,884 1770,884.7 1767,885.4 1764,886.1 1761,886.9 1758.1,887.7 1755.2,888.5 1752.2,889.3 1749.3,890.2 1746.4,891 1743.6,892 1740.7,892.9 1737.9,893.9 1735,894.8 1732.2,895.9 1729.4,896.9 1726.6,898 1723.9,899.1 1721.1,900.2 1718.4,901.3 1715.6,902.5 1712.9,903.7 1710.2,904.9 1707.6,906.1 1704.9,907.4 1702.2,908.6 1699.6,909.9 1697,911.3 1694.4,912.6 1691.8,914 1689.2,915.4 1686.6,916.8 1684.1,918.2 1681.5,919.7 1679,921.2 1676.5,922.7 1674,924.2 1671.5,925.7 1669.1,927.3 1666.6,928.9 1664.2,930.5 1661.7,932.1 1659.3,933.8 1656.9,935.4 1654.6,937.1 1652.2,938.8 1649.8,940.6 1647.5,942.3 1645.2,944.1 1642.8,945.9 1640.5,947.7 1638.3,949.5 1636,951.3 1633.7,953.2 1631.5,955 1629.3,956.9 1627,958.8 1624.8,960.8 1622.6,962.7 1620.5,964.7 1618.3,966.6 1616.2,968.6 1614,970.6 1611.9,972.7 1609.8,974.7 1607.7,976.8 1605.6,978.8 1603.5,980.9 1601.5,983 1599.4,985.1 1597.4,987.3 1595.4,989.4 1593.4,991.6 1591.4,993.7 1589.4,995.9 1587.4,998.1 1585.5,1000.3 1583.5,1002.6 1581.6,1004.8 1579.7,1007.1 1577.8,1009.3 1575.9,1011.6 1574,1013.9 1572.1,1016.2 1570.2,1018.5 1568.4,1020.8 1566.5,1023.1 1564.7,1025.5 1562.8,1027.8 1561,1030.2 1559.2,1032.6 1557.4,1034.9 1555.6,1037.3 1553.8,1039.7 1552,1042.1 1550.2,1044.5 1548.4,1046.9 1546.6,1049.4 1544.9,1051.8 1543.1,1054.2 1541.4,1056.7 1539.6,1059.1 1537.9,1061.6 1536.1,1064.1 1534.4,1066.5 1532.7,1069 1530.9,1071.5 1529.2,1074 1527.5,1076.4 1525.8,1078.9 1524.1,1081.4 1522.4,1083.9 1520.7,1086.4 1519,1088.9 1517.3,1091.4 1515.6,1093.9 1513.9,1096.4 1512.2,1098.9 1510.5,1101.5 1508.8,1104 1507.1,1106.5 1505.4,1109 1503.7,1111.5 1502,1114 1500.3,1116.5 1498.6,1119.1 1496.9,1121.6 1495.2,1124.1 1493.5,1126.6 1491.8,1129.1 1490.1,1131.6 1488.4,1134.1 1486.7,1136.6 1485,1139.1 1483.3,1141.6 1481.6,1144.1 1479.9,1146.6 1478.1,1149.1 1476.4,1151.6 1474.7,1154.1 1473,1156.5 1471.2,1159 1469.5,1161.5 1467.8,1164 1466.1,1166.4 1464.3,1168.9 1462.6,1171.4 1460.9,1173.9 1459.1,1176.3 1457.4,1178.8 1455.7,1181.3 1453.9,1183.7 1452.2,1186.2 1450.5,1188.7 1448.7,1191.1 1447,1193.6 1445.3,1196.1 1443.6,1198.5 1441.8,1201 1440.1,1203.5 1438.4,1205.9 1436.7,1208.4 1435,1210.9 1433.3,1213.3 1431.5,1215.8 1429.8,1218.3 1428.1,1220.7 1426.4,1223.2 1424.7,1225.7 1423,1228.2 1421.3,1230.6 1419.7,1233.1 1418,1235.6 1416.3,1238.1 1414.6,1240.6 1413,1243 1411.3,1245.5 1409.6,1248 1408,1250.5 1406.3,1253 1404.7,1255.5 1403,1258 1401.4,1260.5 1399.8,1263.1 1398.2,1265.6 1396.6,1268.1 1395,1270.6 1393.4,1273.1 1391.8,1275.7 1390.2,1278.2 1388.6,1280.7 1387,1283.3 1385.5,1285.8 1383.9,1288.4 1382.4,1290.9 1380.8,1293.5 1379.3,1296.1 1377.8,1298.6 1376.3,1301.2 1374.8,1303.8 1373.3,1306.4 1371.8,1309 1370.3,1311.6 1368.9,1314.2 1367.4,1316.8 1366,1319.4 1364.5,1322 1363.1,1324.7 1361.7,1327.3 1360.3,1330 1358.9,1332.6 1357.5,1335.3 1356.1,1337.9 1354.8,1340.6 1353.4,1343.3 1352.1,1346 1350.8,1348.7 1349.5,1351.4 1348.2,1354.1 1346.9,1356.8 1345.6,1359.5 1344.4,1362.3 1343.1,1365 1341.9,1367.8 1340.7,1370.5 1339.5,1373.3 1338.3,1376.1 1337.2,1379.1 1336.2,1382.1 1335.3,1385.1 1334.5,1388.2 1333.8,1391.2 1333.2,1394.3 1332.7,1397.4 1332.3,1400.5 1331.9,1403.6 1331.6,1406.8 1331.3,1409.9 1331,1413 1330.8,1416.2 1330.6,1419.3 1330.4,1422.5 1330.2,1425.6 1330,1428.8 1329.8,1431.9 1329.6,1435.1 1329.3,1438.2 1328.9,1441.3 1328.6,1444.5 1328.1,1447.6 1327.6,1450.7 1327,1453.8 1326.3,1456.9 1325.5,1459.9 1324.6,1463 1323.6,1466 1323.6,1513.5 1323.6,1565" fill="none" stroke="#0072C0" stroke-width="5.3" stroke-linejoin="round" stroke-linecap="butt"/>
<polyline points="1804.5,877 1801.4,877.2 1798.3,877.5 1795.2,877.7 1792.1,878 1789,878.3 1785.9,878.6 1782.9,878.9 1779.8,879.3 1776.7,879.6 1773.6,880 1770.6,880.4 1767.5,880.8 1764.5,881.2 1761.4,881.7 1758.4,882.1 1755.3,882.6 1752.3,883.1 1749.3,883.6 1746.3,884.2 1743.3,884.7 1740.3,885.3 1737.3,885.9 1734.3,886.5 1731.3,887.1 1728.3,887.8 1725.3,888.5 1722.4,889.1 1719.4,889.8 1716.5,890.6 1713.5,891.3 1710.6,892.1 1707.7,892.9 1704.8,893.7 1701.9,894.5 1699,895.4 1696.1,896.2 1693.3,897.1 1690.4,898 1687.5,899 1684.7,899.9 1681.9,900.9 1679,901.9 1676.2,902.9 1673.4,903.9 1670.7,905 1667.9,906.1 1665.1,907.2 1662.4,908.3 1659.6,909.4 1656.9,910.6 1654.2,911.8 1651.5,913 1648.8,914.2 1646.1,915.5 1643.4,916.8 1640.8,918.1 1638.1,919.4 1635.5,920.7 1632.9,922.1 1630.3,923.5 1627.7,924.9 1625.1,926.3 1622.6,927.8 1620,929.3 1617.5,930.8 1615,932.3 1612.4,933.8 1609.9,935.3 1607.4,936.9 1605,938.5 1602.5,940.1 1600,941.7 1597.6,943.4 1595.2,945.1 1592.8,946.7 1590.4,948.5 1588,950.2 1585.6,951.9 1583.2,953.7 1580.9,955.5 1578.5,957.2 1576.2,959.1 1573.9,960.9 1571.6,962.7 1569.3,964.6 1567,966.5 1564.7,968.4 1562.4,970.3 1560.2,972.2 1557.9,974.2 1555.7,976.1 1553.5,978.1 1551.3,980.1 1549.1,982.1 1546.9,984.1 1544.8,986.1 1542.6,988.2 1540.4,990.3 1538.3,992.3 1536.2,994.4 1534.1,996.5 1532,998.7 1529.9,1000.8 1527.8,1002.9 1525.7,1005.1 1523.6,1007.3 1521.6,1009.4 1519.5,1011.6 1517.5,1013.8 1515.4,1016.1 1513.4,1018.3 1511.4,1020.5 1509.4,1022.8 1507.4,1025 1505.4,1027.3 1503.4,1029.6 1501.5,1031.9 1499.5,1034.2 1497.6,1036.5 1495.6,1038.8 1493.7,1041.1 1491.8,1043.4 1489.8,1045.8 1487.9,1048.1 1486,1050.5 1484.1,1052.9 1482.2,1055.2 1480.3,1057.6 1478.5,1060 1476.6,1062.4 1474.7,1064.8 1472.9,1067.2 1471,1069.6 1469.2,1072 1467.4,1074.5 1465.5,1076.9 1463.7,1079.3 1461.9,1081.8 1460.1,1084.2 1458.3,1086.7 1456.5,1089.1 1454.7,1091.6 1452.9,1094 1451.1,1096.5 1449.3,1099 1447.5,1101.4 1445.8,1103.9 1444,1106.4 1442.2,1108.9 1440.5,1111.3 1438.7,1113.8 1437,1116.3 1435.2,1118.8 1433.5,1121.3 1431.8,1123.8 1430.1,1126.3 1428.3,1128.8 1426.6,1131.2 1424.9,1133.7 1423.2,1136.2 1421.5,1138.7 1419.8,1141.2 1418.1,1143.7 1416.4,1146.3 1414.7,1148.8 1413.1,1151.3 1411.4,1153.8 1409.8,1156.3 1408.1,1158.8 1406.5,1161.4 1404.8,1163.9 1403.2,1166.4 1401.6,1169 1400,1171.5 1398.4,1174 1396.8,1176.6 1395.2,1179.1 1393.7,1181.7 1392.1,1184.2 1390.5,1186.8 1389,1189.4 1387.5,1191.9 1386,1194.5 1384.4,1197.1 1382.9,1199.7 1381.5,1202.2 1380,1204.8 1378.5,1207.4 1377.1,1210 1375.6,1212.6 1374.2,1215.3 1372.8,1217.9 1371.4,1220.5 1370,1223.1 1368.6,1225.8 1367.2,1228.4 1365.8,1231.1 1364.5,1233.7 1363.2,1236.4 1361.9,1239 1360.6,1241.7 1359.3,1244.4 1358,1247.1 1356.7,1249.7 1355.5,1252.4 1354.3,1255.1 1353.1,1257.9 1351.9,1260.6 1350.7,1263.3 1349.5,1266 1348.4,1268.8 1347.2,1271.5 1346.1,1274.3 1345,1277 1343.9,1279.8 1342.9,1282.6 1341.8,1285.4 1340.8,1288.1 1339.8,1290.9 1338.8,1293.8 1337.8,1296.6 1336.8,1299.4 1335.9,1302.2 1335,1305.1 1334,1307.9 1333.2,1310.8 1332.3,1313.6 1331.4,1316.5 1330.6,1319.4 1329.8,1322.3 1329,1325.2 1328.3,1328.1 1327.5,1331 1326.8,1334 1326.1,1336.9 1325.4,1339.9 1324.7,1342.8 1324.1,1345.8 1323.5,1348.8 1322.9,1351.8 1322.3,1354.8 1321.7,1357.8 1321.2,1360.8 1320.7,1363.9 1320.2,1366.9 1319.8,1370 1319.3,1373 1318.9,1376.1 1318.5,1379.1 1318.1,1382.2 1317.7,1385.2 1317.3,1388.2 1317,1391.2 1316.6,1394.3 1316.3,1397.3 1316,1400.3 1315.7,1403.4 1315.5,1406.4 1315.2,1409.5 1315,1412.5 1314.8,1415.5 1314.6,1418.6 1314.4,1421.6 1314.2,1424.7 1314,1427.7 1313.9,1430.8 1313.8,1433.8 1313.7,1436.9 1313.5,1439.9 1313.5,1443 1313.4,1446 1313.3,1449.1 1313.3,1452.1 1313.2,1455.2 1313.2,1458.2 1313.1,1461.3 1313.1,1464.3 1313.1,1467.4 1313.1,1470.4 1313.2,1473.5 1313.2,1476.5 1313.2,1479.6 1313.3,1482.6 1313.3,1485.7 1313.4,1488.7 1313.4,1491.8 1313.5,1494.9 1313.6,1497.9 1313.7,1501 1313.8,1504 1313.9,1507.1 1314,1510.1 1314.1,1513.2 1314.2,1516.2 1314.3,1519.3 1314.5,1522.3 1314.6,1525.4 1314.7,1528.4 1314.9,1531.5 1315,1534.5 1315.1,1537.6 1315.3,1540.6 1315.4,1543.7 1315.6,1546.7 1315.7,1549.8 1315.9,1552.8 1316,1555.9 1316.2,1558.9 1316.3,1562 1316.5,1565" fill="none" stroke="#F9551A" stroke-width="5.3" stroke-linejoin="round" stroke-linecap="butt"/>
<polyline points="1782.4,877 1779.4,877.4 1776.5,877.7 1773.5,878.1 1770.5,878.4 1767.5,878.8 1764.5,879.1 1761.4,879.5 1758.4,879.8 1755.4,880.1 1752.3,880.5 1749.3,880.8 1746.3,881.1 1743.2,881.4 1740.1,881.8 1737.1,882.1 1734,882.4 1730.9,882.8 1727.9,883.1 1724.8,883.5 1721.7,883.8 1718.7,884.2 1715.6,884.6 1712.5,884.9 1709.5,885.3 1706.4,885.7 1703.3,886.1 1700.3,886.5 1697.2,886.9 1694.2,887.4 1691.1,887.8 1688.1,888.3 1685,888.8 1682,889.2 1679,889.7 1675.9,890.3 1672.9,890.8 1669.9,891.3 1666.9,891.9 1663.9,892.5 1661,893.1 1658,893.7 1655,894.3 1652.1,895 1649.1,895.7 1646.2,896.4 1643.3,897.1 1640.4,897.9 1637.5,898.6 1634.7,899.4 1631.8,900.3 1629,901.1 1626.1,902 1623.3,902.9 1620.5,903.8 1617.8,904.8 1615,905.8 1612.3,906.8 1609.5,907.8 1606.8,908.9 1604.2,910 1601.5,911.2 1598.8,912.4 1596.2,913.6 1593.6,914.8 1591,916.1 1588.5,917.4 1585.9,918.7 1583.4,920.1 1580.9,921.5 1578.4,922.9 1575.9,924.4 1573.5,925.8 1571,927.3 1568.6,928.9 1566.2,930.4 1563.8,932 1561.4,933.6 1559,935.2 1556.6,936.9 1554.3,938.5 1551.9,940.2 1549.6,941.9 1547.3,943.7 1545,945.4 1542.6,947.2 1540.3,949 1538,950.8 1535.7,952.6 1533.5,954.4 1531.2,956.3 1528.9,958.1 1526.6,960 1524.3,961.9 1522.1,963.8 1519.8,965.7 1517.5,967.7 1515.3,969.6 1513,971.5 1510.7,973.5 1508.5,975.4 1506.2,977.4 1503.9,979.4 1501.7,981.4 1499.4,983.4 1497.1,985.3 1494.8,987.3 1492.5,989.3 1490.2,991.3 1487.9,993.4 1485.7,995.4 1483.4,997.4 1481.1,999.4 1478.8,1001.5 1476.5,1003.5 1474.2,1005.5 1471.9,1007.6 1469.6,1009.6 1467.3,1011.7 1465,1013.8 1462.7,1015.8 1460.4,1017.9 1458.1,1020 1455.8,1022.1 1453.5,1024.2 1451.2,1026.3 1449,1028.4 1446.7,1030.5 1444.4,1032.6 1442.2,1034.7 1439.9,1036.9 1437.7,1039 1435.4,1041.2 1433.2,1043.3 1431,1045.5 1428.7,1047.7 1426.5,1049.8 1424.3,1052 1422.1,1054.2 1419.9,1056.4 1417.8,1058.6 1415.6,1060.8 1413.4,1063 1411.3,1065.3 1409.2,1067.5 1407.1,1069.7 1404.9,1072 1402.8,1074.2 1400.8,1076.5 1398.7,1078.8 1396.6,1081.1 1394.6,1083.4 1392.6,1085.7 1390.6,1088 1388.6,1090.3 1386.6,1092.6 1384.6,1094.9 1382.7,1097.3 1380.7,1099.6 1378.8,1102 1376.9,1104.4 1375,1106.7 1373.2,1109.1 1371.3,1111.5 1369.5,1113.9 1367.7,1116.3 1365.9,1118.8 1364.1,1121.2 1362.4,1123.7 1360.7,1126.1 1359,1128.6 1357.3,1131 1355.6,1133.5 1354,1136 1352.4,1138.5 1350.8,1141 1349.3,1143.6 1347.7,1146.1 1346.2,1148.6 1344.7,1151.2 1343.2,1153.8 1341.8,1156.3 1340.4,1158.9 1339,1161.5 1337.7,1164.1 1336.3,1166.7 1335,1169.4 1333.7,1172 1332.5,1174.7 1331.3,1177.3 1330.1,1180 1328.9,1182.7 1327.7,1185.4 1326.6,1188.1 1325.5,1190.8 1324.4,1193.5 1323.4,1196.2 1322.4,1198.9 1321.4,1201.7 1320.4,1204.4 1319.4,1207.2 1318.5,1210 1317.6,1212.8 1316.7,1215.6 1315.9,1218.4 1315,1221.2 1314.2,1224 1313.4,1226.8 1312.6,1229.6 1311.9,1232.5 1311.1,1235.3 1310.4,1238.2 1309.8,1241 1309.1,1243.9 1308.4,1246.8 1307.8,1249.6 1307.2,1252.5 1306.6,1255.4 1306,1258.3 1305.5,1261.2 1305,1264.1 1304.5,1267.1 1304,1270 1303.5,1272.9 1303,1275.9 1302.6,1278.8 1302.2,1281.8 1301.8,1284.7 1301.4,1287.7 1301,1290.6 1300.7,1293.6 1300.3,1296.6 1300,1299.5 1299.7,1302.5 1299.4,1305.5 1299.2,1308.5 1298.9,1311.5 1298.7,1314.5 1298.5,1317.5 1298.3,1320.5 1298.1,1323.5 1297.9,1326.5 1297.7,1329.6 1297.6,1332.6 1297.4,1335.6 1297.3,1338.6 1297.2,1341.7 1297.1,1344.7 1297,1347.7 1296.9,1350.8 1296.9,1353.8 1296.8,1356.9 1296.8,1359.9 1296.8,1363 1296.8,1366 1296.8,1369.1 1296.8,1372.1 1296.8,1375.2 1296.8,1378.2 1296.9,1381.3 1296.9,1384.3 1297,1387.4 1297.1,1390.5 1297.1,1393.5 1297.2,1396.6 1297.3,1399.6 1297.4,1402.7 1297.5,1405.8 1297.7,1408.8 1297.8,1411.9 1297.9,1414.9 1298.1,1418 1298.3,1421.1 1298.4,1424.1 1298.6,1427.2 1298.8,1430.2 1299,1433.3 1299.1,1436.4 1299.3,1439.4 1299.5,1442.5 1299.8,1445.5 1300,1448.6 1300.2,1451.6 1300.4,1454.7 1300.6,1457.7 1300.9,1460.8 1301.1,1463.8 1301.4,1466.9 1301.6,1469.9 1301.9,1472.9 1302.1,1476 1302.4,1479 1302.6,1482 1302.9,1485 1303.2,1488.1 1303.4,1491.1 1303.7,1494.1 1304,1497.1 1304.2,1500.1 1304.5,1503.1 1304.8,1506.1 1305.1,1509.1 1305.3,1512.1 1305.6,1515.1 1305.9,1518 1306.2,1521 1306.5,1524 1306.7,1526.9 1307,1529.9 1307.3,1532.9 1307.6,1535.8 1307.8,1538.8 1308.1,1541.7 1308.4,1544.6 1308.7,1547.6 1308.9,1550.5 1309.2,1553.4 1309.4,1556.3 1309.7,1559.2 1310,1562.1 1310.2,1565" fill="none" stroke="#FDB212" stroke-width="5.3" stroke-linejoin="round" stroke-linecap="butt"/>
<polyline points="1761.4,877 1758.6,877.8 1755.8,878.5 1753,879.3 1750.2,880 1747.4,880.6 1744.5,881.2 1741.6,881.8 1738.7,882.4 1735.8,882.9 1732.9,883.5 1730,884 1727,884.4 1724.1,884.9 1721.1,885.3 1718.1,885.7 1715.1,886.1 1712.1,886.4 1709.1,886.8 1706.1,887.1 1703,887.4 1700,887.7 1696.9,888 1693.9,888.3 1690.8,888.5 1687.7,888.8 1684.7,889 1681.6,889.3 1678.5,889.5 1675.4,889.7 1672.3,890 1669.2,890.2 1666.1,890.4 1663,890.6 1659.9,890.8 1656.8,891.1 1653.7,891.3 1650.6,891.5 1647.5,891.7 1644.4,892 1641.3,892.2 1638.2,892.5 1635.1,892.7 1632,893 1628.9,893.3 1625.8,893.6 1622.7,893.9 1619.7,894.2 1616.6,894.6 1613.5,894.9 1610.5,895.3 1607.4,895.7 1604.4,896.1 1601.4,896.5 1598.3,897 1595.3,897.5 1592.3,898 1589.3,898.5 1586.4,899 1583.4,899.6 1580.4,900.2 1577.5,900.9 1574.6,901.6 1571.7,902.3 1568.8,903 1565.9,903.8 1563,904.6 1560.2,905.5 1557.3,906.3 1554.5,907.3 1551.7,908.2 1548.9,909.2 1546.2,910.3 1543.4,911.3 1540.7,912.5 1538,913.6 1535.3,914.8 1532.7,916.1 1530,917.3 1527.4,918.7 1524.8,920 1522.2,921.4 1519.7,922.8 1517.2,924.3 1514.6,925.8 1512.2,927.4 1509.7,929 1507.3,930.6 1504.9,932.3 1502.5,934 1500.1,935.8 1497.8,937.6 1495.5,939.4 1493.2,941.3 1490.9,943.2 1488.6,945.1 1486.4,947 1484.1,949 1481.8,950.9 1479.6,952.8 1477.3,954.8 1475,956.7 1472.8,958.7 1470.5,960.6 1468.2,962.5 1465.9,964.5 1463.7,966.4 1461.4,968.4 1459.1,970.3 1456.8,972.2 1454.5,974.2 1452.2,976.1 1449.9,978.1 1447.6,980 1445.3,981.9 1443,983.9 1440.7,985.8 1438.4,987.8 1436.1,989.7 1433.8,991.7 1431.5,993.6 1429.2,995.6 1426.9,997.5 1424.6,999.5 1422.3,1001.4 1420,1003.4 1417.8,1005.4 1415.5,1007.3 1413.2,1009.3 1410.9,1011.3 1408.6,1013.3 1406.3,1015.2 1404,1017.2 1401.7,1019.2 1399.5,1021.2 1397.2,1023.2 1394.9,1025.2 1392.7,1027.2 1390.4,1029.2 1388.1,1031.3 1385.9,1033.3 1383.6,1035.3 1381.4,1037.3 1379.1,1039.4 1376.9,1041.4 1374.7,1043.5 1372.4,1045.5 1370.2,1047.6 1368,1049.7 1365.8,1051.7 1363.6,1053.8 1361.4,1055.9 1359.2,1058 1357,1060.1 1354.8,1062.2 1352.7,1064.3 1350.5,1066.5 1348.4,1068.6 1346.2,1070.7 1344.1,1072.9 1341.9,1075.1 1339.8,1077.2 1337.7,1079.4 1335.6,1081.6 1333.5,1083.8 1331.4,1086 1329.3,1088.2 1327.3,1090.4 1325.2,1092.6 1323.2,1094.9 1321.1,1097.1 1319.1,1099.4 1317.1,1101.7 1315.1,1103.9 1313.1,1106.2 1311.1,1108.5 1309.2,1110.9 1307.3,1113.2 1305.3,1115.5 1303.4,1117.9 1301.6,1120.2 1299.7,1122.6 1297.9,1125 1296.1,1127.4 1294.3,1129.8 1292.6,1132.2 1290.8,1134.6 1289.1,1137.1 1287.5,1139.5 1285.8,1142 1284.2,1144.5 1282.6,1147 1281.1,1149.5 1279.5,1152 1278.1,1154.5 1276.6,1157.1 1275.2,1159.6 1273.8,1162.2 1272.5,1164.8 1271.2,1167.4 1269.9,1170 1268.7,1172.7 1267.5,1175.3 1266.4,1178 1265.3,1180.7 1264.2,1183.4 1263.2,1186.1 1262.3,1188.8 1261.3,1191.5 1260.5,1194.3 1259.7,1197.1 1258.9,1199.9 1258.2,1202.7 1257.5,1205.5 1256.9,1208.3 1256.3,1211.2 1255.8,1214 1255.4,1216.9 1255,1219.8 1254.7,1222.8 1254.4,1225.7 1254.2,1228.7 1254,1231.6 1253.9,1234.6 1253.9,1237.7 1253.9,1240.7 1254,1243.7 1254.1,1246.8 1254.3,1249.9 1254.5,1252.9 1254.8,1256 1255.1,1259.1 1255.5,1262.3 1255.9,1265.4 1256.3,1268.5 1256.8,1271.6 1257.3,1274.8 1257.8,1277.9 1258.4,1281.1 1259,1284.2 1259.6,1287.4 1260.3,1290.5 1260.9,1293.6 1261.6,1296.8 1262.3,1299.9 1263,1303 1263.8,1306.1 1264.5,1309.3 1265.2,1312.4 1266,1315.5 1266.7,1318.5 1267.5,1321.6 1268.2,1324.7 1269,1327.7 1269.7,1330.7 1270.4,1333.7 1271.1,1336.7 1271.8,1339.7 1272.5,1342.6 1273.2,1345.6 1273.8,1348.5 1274.5,1351.4 1275.1,1354.2 1275.7,1357.1 1276.2,1359.9 1276.7,1362.6 1277.2,1365.4 1277.7,1368.1 1278.1,1370.8 1278.5,1373.5 1278.8,1376.1 1279.3,1379.2 1279.8,1382.3 1280.3,1385.4 1280.7,1388.5 1281.1,1391.6 1281.5,1394.8 1281.9,1397.9 1282.3,1401 1282.7,1404.1 1283,1407.2 1283.4,1410.4 1283.8,1413.5 1284.1,1416.6 1284.5,1419.7 1284.9,1422.8 1285.3,1426 1285.8,1429.1 1286.2,1432.2 1286.7,1435.3 1287.2,1438.4 1287.7,1441.5 1288.3,1444.6 1288.9,1447.6 1289.5,1450.7 1290.2,1453.8 1291,1456.9 1291.8,1459.9 1292.6,1463 1293.5,1466 1298.2,1513.5 1303.5,1565" fill="none" stroke="#8B2D90" stroke-width="5.3" stroke-linejoin="round" stroke-linecap="butt"/>
<polyline points="1739.4,877 1736.5,877.4 1733.7,877.9 1730.8,878.3 1727.9,878.7 1725,879 1722.1,879.4 1719.2,879.8 1716.3,880.1 1713.3,880.5 1710.4,880.8 1707.4,881.2 1704.5,881.5 1701.5,881.8 1698.5,882.1 1695.5,882.4 1692.5,882.8 1689.5,883.1 1686.5,883.4 1683.5,883.7 1680.5,883.9 1677.5,884.2 1674.5,884.5 1671.4,884.8 1668.4,885.1 1665.4,885.4 1662.3,885.7 1659.3,886 1656.2,886.2 1653.2,886.5 1650.1,886.8 1647.1,887.1 1644,887.4 1640.9,887.7 1637.9,888 1634.8,888.3 1631.7,888.6 1628.7,889 1625.6,889.3 1622.6,889.6 1619.5,889.9 1616.4,890.3 1613.4,890.6 1610.3,891 1607.3,891.4 1604.2,891.7 1601.2,892.1 1598.1,892.5 1595.1,892.9 1592,893.3 1589,893.8 1586,894.2 1582.9,894.7 1579.9,895.1 1576.9,895.6 1573.9,896.1 1570.9,896.6 1567.9,897.1 1564.9,897.7 1561.9,898.2 1558.9,898.8 1555.9,899.3 1553,899.9 1550,900.6 1547.1,901.2 1544.1,901.9 1541.2,902.5 1538.3,903.2 1535.4,903.9 1532.5,904.7 1529.6,905.4 1526.7,906.2 1523.8,907 1521,907.8 1518.1,908.6 1515.3,909.5 1512.5,910.4 1509.7,911.3 1506.9,912.2 1504.1,913.2 1501.3,914.2 1498.5,915.2 1495.8,916.2 1493.1,917.3 1490.4,918.4 1487.7,919.5 1485,920.6 1482.3,921.8 1479.7,923 1477,924.3 1474.4,925.5 1471.8,926.8 1469.2,928.1 1466.7,929.5 1464.1,930.9 1461.6,932.3 1459.1,933.8 1456.6,935.3 1454.1,936.8 1451.6,938.3 1449.2,939.9 1446.8,941.5 1444.3,943.1 1441.9,944.8 1439.5,946.5 1437.2,948.2 1434.8,949.9 1432.4,951.6 1430.1,953.4 1427.7,955.2 1425.4,957 1423.1,958.8 1420.7,960.6 1418.4,962.5 1416.1,964.3 1413.8,966.2 1411.5,968.1 1409.2,970 1406.9,971.9 1404.6,973.8 1402.3,975.7 1400,977.7 1397.6,979.6 1395.3,981.5 1393,983.5 1390.7,985.4 1388.4,987.3 1386,989.3 1383.7,991.2 1381.3,993.2 1379,995.1 1376.6,997 1374.3,998.9 1371.9,1000.8 1369.5,1002.8 1367.1,1004.7 1364.6,1006.5 1362.2,1008.4 1359.7,1010.3 1357.3,1012.1 1354.8,1014 1352.3,1015.8 1349.8,1017.6 1347.3,1019.4 1344.8,1021.3 1342.2,1023.1 1339.7,1024.9 1337.2,1026.6 1334.6,1028.4 1332.1,1030.2 1329.5,1032 1327,1033.8 1324.4,1035.5 1321.9,1037.3 1319.3,1039.1 1316.8,1040.9 1314.2,1042.7 1311.7,1044.5 1309.2,1046.2 1306.7,1048 1304.1,1049.8 1301.6,1051.6 1299.1,1053.5 1296.7,1055.3 1294.2,1057.1 1291.7,1059 1289.3,1060.8 1286.9,1062.7 1284.5,1064.6 1282.1,1066.4 1279.7,1068.3 1277.3,1070.3 1275,1072.2 1272.7,1074.1 1270.4,1076.1 1268.1,1078.1 1265.9,1080.1 1263.7,1082.1 1261.5,1084.2 1259.4,1086.2 1257.2,1088.3 1255.1,1090.4 1253.1,1092.6 1251,1094.7 1249,1096.9 1247.1,1099.1 1245.1,1101.4 1243.2,1103.6 1241.4,1105.9 1239.6,1108.2 1237.8,1110.5 1236,1112.8 1234.3,1115.2 1232.6,1117.6 1231,1120 1229.4,1122.4 1227.8,1124.8 1226.3,1127.3 1224.8,1129.8 1223.3,1132.3 1221.9,1134.8 1220.6,1137.3 1219.2,1139.9 1218,1142.5 1216.7,1145 1215.5,1147.6 1214.4,1150.3 1213.3,1152.9 1212.2,1155.5 1211.2,1158.2 1210.2,1160.9 1209.3,1163.6 1208.4,1166.3 1207.6,1169 1206.8,1171.8 1206.1,1174.5 1205.4,1177.3 1204.7,1180 1204.1,1182.8 1203.6,1185.6 1203.1,1188.4 1202.7,1191.3 1202.3,1194.1 1202,1196.9 1201.7,1199.8 1201.5,1202.6 1201.3,1205.5 1201.2,1208.4 1201.1,1211.3 1201.1,1214.2 1201.1,1217.1 1201.2,1220 1201.4,1222.9 1201.6,1225.9 1201.9,1228.8 1202.2,1231.7 1202.6,1234.7 1203.1,1237.7 1203.6,1240.6 1204.1,1243.6 1204.7,1246.5 1205.4,1249.5 1206.1,1252.5 1206.9,1255.5 1207.7,1258.4 1208.5,1261.4 1209.4,1264.4 1210.3,1267.4 1211.3,1270.3 1212.3,1273.3 1213.3,1276.3 1214.4,1279.3 1215.5,1282.2 1216.6,1285.2 1217.8,1288.1 1219,1291.1 1220.2,1294 1221.4,1297 1222.7,1299.9 1223.9,1302.8 1225.2,1305.7 1226.5,1308.6 1227.8,1311.5 1229.2,1314.4 1230.5,1317.2 1231.8,1320.1 1233.2,1322.9 1234.6,1325.8 1235.9,1328.6 1237.3,1331.4 1238.6,1334.2 1240,1336.9 1241.3,1339.7 1242.7,1342.4 1244,1345.1 1245.3,1347.8 1246.7,1350.5 1248,1353.2 1249.3,1355.8 1250.5,1358.4 1251.8,1361 1253,1363.6 1254.2,1366.1 1255.4,1368.7 1256.6,1371.2 1257.7,1373.6 1258.8,1376.1 1259.8,1379.1 1260.8,1382.2 1261.7,1385.3 1262.6,1388.3 1263.4,1391.4 1264.2,1394.5 1264.9,1397.6 1265.6,1400.8 1266.3,1403.9 1267,1407 1267.6,1410.1 1268.3,1413.3 1268.9,1416.4 1269.5,1419.5 1270.1,1422.7 1270.8,1425.8 1271.4,1429 1272.1,1432.1 1272.7,1435.2 1273.4,1438.3 1274.1,1441.5 1274.9,1444.6 1275.7,1447.7 1276.5,1450.7 1277.4,1453.8 1278.4,1456.9 1279.3,1459.9 1280.4,1463 1281.5,1466 1288.8,1513.5 1296.9,1565" fill="none" stroke="#5DAD2A" stroke-width="5.3" stroke-linejoin="round" stroke-linecap="butt"/>
<rect x="1601.5" y="1312.8" width="329.4" height="255" fill="#fff" stroke="#222222" stroke-width="4.2"/>
<line x1="1617.6" y1="1342.8" x2="1768.9" y2="1342.8" stroke="#0072C0" stroke-width="5.3"/>
<text x="1778.2" y="1358.9" font-size="41" font-family="'Liberation Serif','Times New Roman',serif" fill="#000">No eddy</text>
<line x1="1617.6" y1="1391.5" x2="1768.9" y2="1391.5" stroke="#F9551A" stroke-width="5.3"/>
<text x="1778.2" y="1407.6" font-size="41" font-family="'Liberation Serif','Times New Roman',serif" fill="#000">0.1 m</text>
<line x1="1617.6" y1="1440.3" x2="1768.9" y2="1440.3" stroke="#FDB212" stroke-width="5.3"/>
<text x="1778.2" y="1456.4" font-size="41" font-family="'Liberation Serif','Times New Roman',serif" fill="#000">0.2 m</text>
<line x1="1617.6" y1="1489" x2="1768.9" y2="1489" stroke="#8B2D90" stroke-width="5.3"/>
<text x="1778.2" y="1505.1" font-size="41" font-family="'Liberation Serif','Times New Roman',serif" fill="#000">0.3 m</text>
<line x1="1617.6" y1="1537.8" x2="1768.9" y2="1537.8" stroke="#5DAD2A" stroke-width="5.3"/>
<text x="1778.2" y="1553.9" font-size="41" font-family="'Liberation Serif','Times New Roman',serif" fill="#000">0.4 m</text>
<rect x="1123" y="870.7" width="807.9" height="697.1" fill="none" stroke="#222222" stroke-width="5.7"/>
<text x="1142.5" y="928.5" font-size="61" font-family="'Liberation Serif','Times New Roman',serif" fill="#000">(f)</text>
<g><line x1="1325.5" y1="1639.1" x2="1325.5" y2="2336.9" stroke="#dcdcdc" stroke-width="5.2" stroke-dasharray="14.7 15.3" stroke-dashoffset="0.6"/><line x1="1528" y1="1639.1" x2="1528" y2="2336.9" stroke="#dcdcdc" stroke-width="5.2" stroke-dasharray="14.7 15.3" stroke-dashoffset="0.6"/><line x1="1730.4" y1="1639.1" x2="1730.4" y2="2336.9" stroke="#dcdcdc" stroke-width="5.2" stroke-dasharray="14.7 15.3" stroke-dashoffset="0.6"/><line x1="1930.9" y1="1778.2" x2="1123" y2="1778.2" stroke="#dcdcdc" stroke-width="5.2" stroke-dasharray="14.7 15.3" stroke-dashoffset="0"/><line x1="1930.9" y1="1917.9" x2="1123" y2="1917.9" stroke="#dcdcdc" stroke-width="5.2" stroke-dasharray="14.7 15.3" stroke-dashoffset="0"/><line x1="1930.9" y1="2057.7" x2="1123" y2="2057.7" stroke="#dcdcdc" stroke-width="5.2" stroke-dasharray="14.7 15.3" stroke-dashoffset="0"/><line x1="1930.9" y1="2197.4" x2="1123" y2="2197.4" stroke="#dcdcdc" stroke-width="5.2" stroke-dasharray="14.7 15.3" stroke-dashoffset="0"/></g>
<polyline points="1836.3,1647.1 1833.8,1648.5 1831.3,1649.9 1828.8,1651.2 1826.2,1652.6 1823.7,1653.9 1821.1,1655.2 1818.5,1656.5 1815.9,1657.7 1813.3,1659 1810.6,1660.2 1807.9,1661.4 1805.3,1662.6 1802.6,1663.8 1799.9,1664.9 1797.1,1666.1 1794.4,1667.2 1791.7,1668.3 1788.9,1669.4 1786.1,1670.6 1783.4,1671.7 1780.6,1672.7 1777.8,1673.8 1775,1674.9 1772.2,1676 1769.4,1677.1 1766.6,1678.1 1763.7,1679.2 1760.9,1680.2 1758.1,1681.3 1755.2,1682.4 1752.4,1683.4 1749.6,1684.5 1746.7,1685.6 1743.9,1686.7 1741.1,1687.7 1738.2,1688.8 1735.4,1689.9 1732.6,1691 1729.8,1692.1 1727,1693.3 1724.1,1694.4 1721.3,1695.5 1718.5,1696.7 1715.7,1697.8 1713,1699 1710.2,1700.2 1707.4,1701.4 1704.6,1702.6 1701.9,1703.8 1699.1,1705.1 1696.4,1706.3 1693.7,1707.6 1690.9,1708.9 1688.2,1710.2 1685.5,1711.5 1682.8,1712.8 1680.2,1714.2 1677.5,1715.5 1674.8,1716.9 1672.2,1718.3 1669.6,1719.7 1667,1721.2 1664.4,1722.6 1661.8,1724.1 1659.2,1725.6 1656.7,1727.1 1654.1,1728.7 1651.6,1730.2 1649.1,1731.8 1646.6,1733.4 1644.1,1735 1641.7,1736.7 1639.2,1738.4 1636.8,1740.1 1634.4,1741.8 1632,1743.5 1629.6,1745.3 1627.3,1747.1 1625,1748.9 1622.6,1750.7 1620.3,1752.6 1618.1,1754.5 1615.8,1756.4 1613.6,1758.3 1611.3,1760.3 1609.1,1762.2 1606.9,1764.2 1604.7,1766.2 1602.6,1768.3 1600.4,1770.3 1598.3,1772.4 1596.1,1774.4 1594,1776.5 1591.9,1778.7 1589.8,1780.8 1587.8,1782.9 1585.7,1785.1 1583.7,1787.3 1581.6,1789.5 1579.6,1791.7 1577.6,1793.9 1575.6,1796.1 1573.6,1798.4 1571.6,1800.6 1569.6,1802.9 1567.7,1805.2 1565.7,1807.5 1563.8,1809.8 1561.8,1812.1 1559.9,1814.4 1558,1816.8 1556.1,1819.1 1554.2,1821.4 1552.3,1823.8 1550.4,1826.2 1548.5,1828.5 1546.6,1830.9 1544.7,1833.3 1542.9,1835.7 1541,1838.1 1539.1,1840.5 1537.3,1842.9 1535.4,1845.3 1533.6,1847.7 1531.8,1850.1 1529.9,1852.6 1528.1,1855 1526.3,1857.4 1524.4,1859.8 1522.6,1862.3 1520.8,1864.7 1519,1867.1 1517.1,1869.6 1515.3,1872 1513.5,1874.4 1511.7,1876.8 1509.9,1879.3 1508.1,1881.7 1506.2,1884.1 1504.4,1886.5 1502.6,1889 1500.8,1891.4 1499,1893.8 1497.2,1896.2 1495.4,1898.7 1493.6,1901.1 1491.8,1903.5 1490,1905.9 1488.2,1908.4 1486.4,1910.8 1484.6,1913.2 1482.8,1915.6 1481,1918.1 1479.3,1920.5 1477.5,1922.9 1475.7,1925.3 1473.9,1927.8 1472.1,1930.2 1470.4,1932.6 1468.6,1935.1 1466.8,1937.5 1465.1,1939.9 1463.3,1942.4 1461.6,1944.8 1459.8,1947.3 1458.1,1949.7 1456.3,1952.1 1454.6,1954.6 1452.8,1957 1451.1,1959.5 1449.3,1961.9 1447.6,1964.4 1445.9,1966.8 1444.2,1969.3 1442.4,1971.7 1440.7,1974.2 1439,1976.7 1437.3,1979.1 1435.6,1981.6 1433.9,1984 1432.2,1986.5 1430.5,1989 1428.8,1991.5 1427.1,1993.9 1425.5,1996.4 1423.8,1998.9 1422.1,2001.4 1420.5,2003.9 1418.8,2006.3 1417.1,2008.8 1415.5,2011.3 1413.8,2013.8 1412.2,2016.3 1410.6,2018.8 1408.9,2021.3 1407.3,2023.9 1405.7,2026.4 1404.1,2028.9 1402.4,2031.4 1400.8,2033.9 1399.2,2036.5 1397.6,2039 1396,2041.5 1394.5,2044.1 1392.9,2046.6 1391.3,2049.1 1389.7,2051.7 1388.2,2054.2 1386.6,2056.8 1385.1,2059.4 1383.5,2061.9 1382,2064.5 1380.5,2067.1 1378.9,2069.6 1377.4,2072.2 1375.9,2074.8 1374.4,2077.4 1372.9,2080 1371.4,2082.6 1369.9,2085.2 1368.4,2087.8 1366.9,2090.4 1365.5,2093 1364,2095.7 1362.5,2098.3 1361.1,2100.9 1359.7,2103.6 1358.2,2106.2 1356.8,2108.8 1355.4,2111.5 1354,2114.2 1352.6,2116.8 1351.2,2119.5 1349.8,2122.2 1348.4,2124.8 1347,2127.5 1345.6,2130.2 1344.3,2132.9 1342.9,2135.6 1341.6,2138.3 1340.2,2141 1338.9,2143.8 1337.6,2146.5 1331,2183 1322.9,2234.4 1323.6,2278.5 1323.6,2334" fill="none" stroke="#0072C0" stroke-width="5.3" stroke-linejoin="round" stroke-linecap="butt"/>
<polyline points="1821.6,1647.1 1818.9,1648.1 1816.2,1649.1 1813.6,1650 1810.9,1651 1808.2,1651.9 1805.4,1652.9 1802.7,1653.8 1799.9,1654.7 1797.2,1655.6 1794.4,1656.5 1791.6,1657.4 1788.8,1658.2 1786,1659.1 1783.2,1659.9 1780.4,1660.8 1777.6,1661.6 1774.7,1662.4 1771.9,1663.3 1769,1664.1 1766.2,1664.9 1763.3,1665.7 1760.5,1666.5 1757.6,1667.3 1754.7,1668.2 1751.8,1669 1748.9,1669.8 1746,1670.6 1743.1,1671.4 1740.2,1672.2 1737.3,1673 1734.4,1673.8 1731.5,1674.7 1728.6,1675.5 1725.7,1676.3 1722.8,1677.2 1719.9,1678 1717,1678.9 1714.2,1679.7 1711.3,1680.6 1708.4,1681.5 1705.5,1682.4 1702.6,1683.3 1699.7,1684.2 1696.9,1685.1 1694,1686 1691.1,1687 1688.3,1688 1685.4,1688.9 1682.6,1689.9 1679.7,1690.9 1676.9,1692 1674.1,1693 1671.3,1694.1 1668.5,1695.2 1665.7,1696.2 1662.9,1697.4 1660.1,1698.5 1657.4,1699.6 1654.6,1700.8 1651.9,1702 1649.1,1703.2 1646.4,1704.4 1643.7,1705.6 1641,1706.9 1638.3,1708.1 1635.6,1709.4 1632.9,1710.7 1630.3,1712.1 1627.6,1713.4 1625,1714.8 1622.4,1716.2 1619.7,1717.6 1617.1,1719 1614.5,1720.4 1612,1721.9 1609.4,1723.3 1606.8,1724.8 1604.3,1726.3 1601.8,1727.9 1599.2,1729.4 1596.7,1731 1594.2,1732.6 1591.8,1734.2 1589.3,1735.8 1586.8,1737.5 1584.4,1739.2 1582,1740.8 1579.6,1742.6 1577.2,1744.3 1574.8,1746 1572.4,1747.8 1570,1749.6 1567.7,1751.4 1565.4,1753.2 1563,1755.1 1560.7,1756.9 1558.4,1758.8 1556.1,1760.7 1553.9,1762.6 1551.6,1764.6 1549.4,1766.5 1547.1,1768.5 1544.9,1770.5 1542.7,1772.5 1540.5,1774.5 1538.3,1776.5 1536.1,1778.5 1534,1780.6 1531.8,1782.6 1529.7,1784.7 1527.5,1786.8 1525.4,1788.9 1523.3,1791 1521.2,1793.2 1519.1,1795.3 1517,1797.5 1515,1799.6 1512.9,1801.8 1510.8,1804 1508.8,1806.2 1506.7,1808.4 1504.7,1810.6 1502.7,1812.9 1500.7,1815.1 1498.7,1817.3 1496.7,1819.6 1494.7,1821.9 1492.7,1824.1 1490.8,1826.4 1488.8,1828.7 1486.8,1831 1484.9,1833.3 1483,1835.6 1481,1837.9 1479.1,1840.2 1477.2,1842.5 1475.3,1844.9 1473.4,1847.2 1471.5,1849.5 1469.6,1851.9 1467.7,1854.2 1465.8,1856.6 1463.9,1858.9 1462.1,1861.3 1460.2,1863.7 1458.4,1866 1456.5,1868.4 1454.7,1870.8 1452.8,1873.2 1451,1875.6 1449.2,1878 1447.4,1880.4 1445.6,1882.8 1443.8,1885.2 1442,1887.6 1440.3,1890 1438.5,1892.5 1436.7,1894.9 1435,1897.3 1433.2,1899.8 1431.5,1902.2 1429.8,1904.7 1428.1,1907.2 1426.4,1909.6 1424.7,1912.1 1423,1914.6 1421.3,1917 1419.6,1919.5 1418,1922 1416.3,1924.5 1414.7,1927 1413,1929.5 1411.4,1932 1409.8,1934.6 1408.2,1937.1 1406.6,1939.6 1405,1942.2 1403.4,1944.7 1401.8,1947.2 1400.3,1949.8 1398.7,1952.4 1397.2,1954.9 1395.7,1957.5 1394.2,1960.1 1392.6,1962.6 1391.2,1965.2 1389.7,1967.8 1388.2,1970.4 1386.7,1973 1385.3,1975.6 1383.8,1978.2 1382.4,1980.9 1381,1983.5 1379.6,1986.1 1378.2,1988.8 1376.8,1991.4 1375.4,1994.1 1374,1996.7 1372.7,1999.4 1371.3,2002.1 1370,2004.7 1368.7,2007.4 1367.4,2010.1 1366.1,2012.8 1364.8,2015.5 1363.5,2018.2 1362.3,2020.9 1361,2023.6 1359.8,2026.3 1358.6,2029.1 1357.4,2031.8 1356.2,2034.5 1355,2037.3 1353.8,2040 1352.7,2042.8 1351.5,2045.6 1350.4,2048.3 1349.3,2051.1 1348.2,2053.9 1347.1,2056.7 1346,2059.5 1344.9,2062.3 1343.9,2065.1 1342.8,2067.9 1341.8,2070.8 1340.8,2073.6 1339.8,2076.4 1338.8,2079.3 1337.8,2082.1 1336.9,2085 1335.9,2087.8 1335,2090.7 1334.1,2093.6 1333.2,2096.5 1332.3,2099.4 1331.5,2102.3 1330.6,2105.2 1329.8,2108.1 1328.9,2111 1328.1,2113.9 1327.3,2116.8 1326.5,2119.8 1325.8,2122.7 1325,2125.7 1324.3,2128.6 1323.6,2131.6 1322.9,2134.6 1322.2,2137.5 1321.5,2140.5 1320.8,2143.5 1320.2,2146.5 1319.8,2149.6 1319.5,2152.6 1319.1,2155.7 1318.8,2158.7 1318.5,2161.8 1318.2,2164.9 1317.9,2167.9 1317.6,2171 1317.4,2174.1 1317.1,2177.1 1316.9,2180.2 1316.7,2183.3 1316.5,2186.4 1316.3,2189.4 1316.2,2192.5 1316,2195.6 1315.9,2198.6 1315.7,2201.7 1315.6,2204.8 1315.5,2207.9 1315.4,2210.9 1315.3,2214 1315.2,2217.1 1315.2,2220.2 1315.1,2223.2 1315.1,2226.3 1315,2229.4 1315,2232.5 1315,2235.5 1315,2238.6 1315,2241.7 1315,2244.8 1315,2247.9 1315,2250.9 1315.1,2254 1315.1,2257.1 1315.1,2260.2 1315.2,2263.3 1315.3,2266.3 1315.3,2269.4 1315.4,2272.5 1315.5,2275.6 1315.5,2278.6 1315.6,2281.7 1315.7,2284.8 1315.8,2287.9 1315.9,2291 1316,2294 1316.1,2297.1 1316.2,2300.2 1316.4,2303.3 1316.5,2306.3 1316.6,2309.4 1316.7,2312.5 1316.8,2315.6 1317,2318.6 1317.1,2321.7 1317.2,2324.8 1317.3,2327.9 1317.5,2330.9 1317.6,2334" fill="none" stroke="#F9551A" stroke-width="5.3" stroke-linejoin="round" stroke-linecap="butt"/>
<polyline points="1807.5,1647.1 1805.1,1648.3 1802.6,1649.6 1800.1,1650.8 1797.5,1651.9 1794.9,1653 1792.3,1654.1 1789.7,1655.1 1787,1656.1 1784.3,1657 1781.6,1657.9 1778.9,1658.8 1776.1,1659.6 1773.3,1660.4 1770.5,1661.2 1767.6,1662 1764.8,1662.7 1761.9,1663.4 1759,1664.1 1756.1,1664.7 1753.2,1665.4 1750.3,1666 1747.3,1666.6 1744.4,1667.2 1741.4,1667.7 1738.4,1668.3 1735.4,1668.8 1732.4,1669.4 1729.4,1669.9 1726.4,1670.4 1723.4,1670.9 1720.4,1671.4 1717.4,1672 1714.3,1672.5 1711.3,1673 1708.3,1673.5 1705.3,1674 1702.2,1674.5 1699.2,1675 1696.2,1675.5 1693.1,1676.1 1690.1,1676.6 1687.1,1677.1 1684,1677.7 1681,1678.3 1678,1678.8 1675,1679.4 1672,1680 1669,1680.6 1666.1,1681.2 1663.1,1681.9 1660.1,1682.5 1657.2,1683.2 1654.2,1683.9 1651.3,1684.7 1648.4,1685.4 1645.5,1686.2 1642.6,1687 1639.7,1687.8 1636.9,1688.6 1634,1689.5 1631.2,1690.4 1628.4,1691.3 1625.6,1692.3 1622.8,1693.3 1620.1,1694.3 1617.4,1695.3 1614.6,1696.4 1611.9,1697.5 1609.2,1698.6 1606.6,1699.8 1603.9,1701 1601.3,1702.2 1598.6,1703.4 1596,1704.7 1593.4,1706 1590.8,1707.3 1588.3,1708.6 1585.7,1710 1583.1,1711.3 1580.6,1712.7 1578.1,1714.2 1575.5,1715.6 1573,1717.1 1570.5,1718.5 1568,1720 1565.5,1721.6 1563.1,1723.1 1560.6,1724.7 1558.1,1726.2 1555.7,1727.8 1553.2,1729.4 1550.8,1731.1 1548.3,1732.7 1545.9,1734.4 1543.5,1736 1541,1737.7 1538.6,1739.4 1536.2,1741.1 1533.8,1742.9 1531.4,1744.6 1528.9,1746.4 1526.5,1748.1 1524.1,1749.9 1521.7,1751.7 1519.3,1753.5 1516.9,1755.3 1514.5,1757.1 1512.1,1758.9 1509.7,1760.7 1507.2,1762.6 1504.8,1764.4 1502.4,1766.3 1500,1768.1 1497.6,1770 1495.1,1771.9 1492.7,1773.8 1490.3,1775.6 1487.9,1777.5 1485.5,1779.5 1483.1,1781.4 1480.7,1783.3 1478.3,1785.2 1475.9,1787.2 1473.5,1789.1 1471.1,1791.1 1468.7,1793.1 1466.3,1795 1463.9,1797 1461.6,1799 1459.2,1801 1456.9,1803 1454.5,1805.1 1452.2,1807.1 1449.9,1809.2 1447.6,1811.2 1445.3,1813.3 1443,1815.3 1440.7,1817.4 1438.4,1819.5 1436.2,1821.6 1433.9,1823.7 1431.7,1825.9 1429.5,1828 1427.3,1830.2 1425.1,1832.3 1422.9,1834.5 1420.8,1836.7 1418.6,1838.8 1416.5,1841.1 1414.4,1843.3 1412.3,1845.5 1410.2,1847.7 1408.2,1850 1406.1,1852.2 1404.1,1854.5 1402.1,1856.8 1400.1,1859.1 1398.2,1861.4 1396.2,1863.7 1394.3,1866 1392.4,1868.3 1390.6,1870.7 1388.7,1873.1 1386.9,1875.4 1385.1,1877.8 1383.3,1880.2 1381.5,1882.6 1379.8,1885.1 1378.1,1887.5 1376.4,1889.9 1374.7,1892.4 1373.1,1894.9 1371.5,1897.3 1369.9,1899.8 1368.3,1902.3 1366.7,1904.8 1365.2,1907.4 1363.7,1909.9 1362.2,1912.4 1360.7,1915 1359.2,1917.6 1357.8,1920.1 1356.4,1922.7 1355,1925.3 1353.6,1927.9 1352.3,1930.5 1350.9,1933.2 1349.6,1935.8 1348.3,1938.4 1347.1,1941.1 1345.8,1943.7 1344.6,1946.4 1343.4,1949.1 1342.2,1951.8 1341,1954.5 1339.8,1957.2 1338.7,1959.9 1337.6,1962.6 1336.5,1965.4 1335.4,1968.1 1334.4,1970.8 1333.3,1973.6 1332.3,1976.4 1331.3,1979.1 1330.3,1981.9 1329.3,1984.7 1328.4,1987.5 1327.5,1990.3 1326.6,1993.1 1325.7,1995.9 1324.8,1998.7 1323.9,2001.6 1323.1,2004.4 1322.3,2007.2 1321.4,2010.1 1320.7,2012.9 1319.9,2015.8 1319.1,2018.7 1318.4,2021.6 1317.7,2024.4 1317,2027.3 1316.3,2030.2 1315.6,2033.1 1314.9,2036 1314.3,2038.9 1313.7,2041.8 1313.1,2044.8 1312.5,2047.7 1311.9,2050.6 1311.3,2053.6 1310.8,2056.5 1310.3,2059.4 1309.8,2062.4 1309.3,2065.4 1308.8,2068.3 1308.3,2071.3 1307.9,2074.2 1307.4,2077.2 1307,2080.2 1306.6,2083.2 1306.2,2086.2 1305.8,2089.2 1305.4,2092.1 1305.1,2095.1 1304.7,2098.1 1304.4,2101.1 1304.1,2104.2 1303.8,2107.2 1303.5,2110.2 1303.3,2113.2 1303,2116.2 1302.8,2119.2 1302.5,2122.3 1302.3,2125.3 1302.1,2128.3 1301.9,2131.3 1301.7,2134.4 1301.6,2137.4 1301.4,2140.4 1301.3,2143.5 1301.2,2146.5 1301,2149.6 1300.9,2152.6 1300.9,2155.6 1300.8,2158.7 1300.7,2161.7 1300.7,2164.8 1300.6,2167.8 1300.6,2170.9 1300.6,2173.9 1300.5,2177 1300.5,2180 1300.6,2183.1 1300.6,2186.2 1300.6,2189.2 1300.7,2192.3 1300.7,2195.3 1300.8,2198.4 1300.9,2201.4 1300.9,2204.5 1301,2207.5 1301.2,2210.6 1301.3,2213.6 1301.4,2216.7 1301.5,2219.7 1301.7,2222.8 1301.8,2225.8 1302,2228.9 1302.2,2231.9 1302.4,2235 1302.6,2238 1302.8,2241.1 1303,2244.1 1303.2,2247.1 1303.4,2250.2 1303.7,2253.2 1303.9,2256.2 1304.2,2259.3 1304.4,2262.3 1304.7,2265.3 1305,2268.3 1305.3,2271.4 1305.6,2274.4 1305.9,2277.4 1306.2,2280.4 1306.5,2283.4 1306.8,2286.4 1307.1,2289.4 1307.5,2292.4 1307.8,2295.4 1308.2,2298.4 1308.5,2301.4 1308.9,2304.4 1309.3,2307.4 1309.7,2310.3 1310.1,2313.3 1310.5,2316.3 1310.9,2319.2 1311.3,2322.2 1311.7,2325.2 1312.1,2328.1 1312.5,2331.1 1312.9,2334" fill="none" stroke="#FDB212" stroke-width="5.3" stroke-linejoin="round" stroke-linecap="butt"/>
<polyline points="1793.5,1647.1 1790.8,1647.9 1788.1,1648.8 1785.3,1649.6 1782.5,1650.4 1779.7,1651.2 1776.9,1652 1774.1,1652.7 1771.3,1653.5 1768.5,1654.2 1765.7,1654.9 1762.8,1655.6 1760,1656.3 1757.1,1657 1754.3,1657.7 1751.4,1658.4 1748.5,1659 1745.7,1659.6 1742.8,1660.3 1739.9,1660.9 1737,1661.5 1734.1,1662.1 1731.1,1662.7 1728.2,1663.3 1725.3,1663.9 1722.4,1664.5 1719.4,1665 1716.5,1665.6 1713.5,1666.1 1710.6,1666.7 1707.6,1667.3 1704.7,1667.8 1701.7,1668.3 1698.8,1668.9 1695.8,1669.4 1692.8,1670 1689.9,1670.5 1686.9,1671 1683.9,1671.6 1680.9,1672.1 1678,1672.6 1675,1673.2 1672,1673.7 1669,1674.2 1666,1674.8 1663.1,1675.3 1660.1,1675.8 1657.1,1676.4 1654.1,1676.9 1651.1,1677.5 1648.2,1678.1 1645.2,1678.6 1642.2,1679.2 1639.2,1679.8 1636.3,1680.4 1633.3,1681 1630.3,1681.6 1627.4,1682.2 1624.4,1682.8 1621.5,1683.4 1618.5,1684 1615.6,1684.7 1612.6,1685.3 1609.7,1686 1606.8,1686.7 1603.8,1687.4 1600.9,1688.1 1598,1688.8 1595.1,1689.5 1592.2,1690.2 1589.3,1691 1586.4,1691.8 1583.5,1692.5 1580.6,1693.3 1577.8,1694.2 1574.9,1695 1572.1,1695.8 1569.2,1696.7 1566.4,1697.6 1563.5,1698.5 1560.7,1699.4 1557.9,1700.3 1555.1,1701.3 1552.3,1702.2 1549.5,1703.2 1546.7,1704.3 1544,1705.3 1541.2,1706.4 1538.5,1707.4 1535.8,1708.5 1533,1709.7 1530.3,1710.8 1527.6,1712 1525,1713.2 1522.3,1714.4 1519.6,1715.7 1517,1716.9 1514.3,1718.2 1511.7,1719.5 1509.1,1720.9 1506.5,1722.3 1504,1723.7 1501.4,1725.1 1498.8,1726.6 1496.3,1728.1 1493.8,1729.6 1491.3,1731.1 1488.8,1732.7 1486.3,1734.3 1483.8,1735.9 1481.4,1737.6 1478.9,1739.2 1476.5,1740.9 1474.1,1742.6 1471.6,1744.4 1469.2,1746.1 1466.8,1747.9 1464.4,1749.7 1462.1,1751.5 1459.7,1753.3 1457.3,1755.1 1455,1757 1452.6,1758.9 1450.3,1760.7 1447.9,1762.6 1445.6,1764.5 1443.3,1766.5 1441,1768.4 1438.6,1770.3 1436.3,1772.3 1434,1774.2 1431.7,1776.2 1429.4,1778.2 1427.1,1780.2 1424.8,1782.2 1422.5,1784.2 1420.2,1786.2 1417.9,1788.2 1415.6,1790.2 1413.3,1792.2 1411.1,1794.2 1408.8,1796.3 1406.5,1798.3 1404.2,1800.3 1401.9,1802.4 1399.7,1804.5 1397.4,1806.5 1395.2,1808.6 1392.9,1810.6 1390.7,1812.7 1388.4,1814.8 1386.2,1816.9 1383.9,1819 1381.7,1821.1 1379.5,1823.2 1377.3,1825.3 1375.1,1827.4 1372.8,1829.6 1370.7,1831.7 1368.5,1833.8 1366.3,1836 1364.1,1838.1 1361.9,1840.3 1359.8,1842.4 1357.6,1844.6 1355.5,1846.8 1353.4,1849 1351.3,1851.2 1349.2,1853.4 1347.1,1855.6 1345,1857.8 1343,1860 1340.9,1862.2 1338.9,1864.5 1336.9,1866.7 1334.9,1869 1332.9,1871.3 1331,1873.6 1329.1,1875.9 1327.1,1878.2 1325.3,1880.5 1323.4,1882.8 1321.5,1885.1 1319.7,1887.5 1317.9,1889.8 1316.1,1892.2 1314.4,1894.6 1312.6,1897 1310.9,1899.4 1309.3,1901.8 1307.6,1904.3 1306,1906.7 1304.4,1909.2 1302.8,1911.6 1301.3,1914.1 1299.8,1916.6 1298.3,1919.1 1296.9,1921.7 1295.4,1924.2 1294.1,1926.8 1292.7,1929.3 1291.4,1931.9 1290.1,1934.5 1288.9,1937.2 1287.7,1939.8 1286.5,1942.4 1285.4,1945.1 1284.3,1947.8 1283.2,1950.5 1282.2,1953.2 1281.2,1956 1280.3,1958.7 1279.4,1961.5 1278.5,1964.3 1277.7,1967.1 1277,1969.9 1276.2,1972.7 1275.6,1975.6 1274.9,1978.5 1274.3,1981.4 1273.7,1984.3 1273.2,1987.2 1272.7,1990.1 1272.3,1993.1 1271.8,1996 1271.5,1999 1271.1,2002 1270.8,2005 1270.6,2008 1270.3,2011 1270.1,2014 1269.9,2017 1269.8,2020.1 1269.7,2023.1 1269.6,2026.2 1269.6,2029.2 1269.6,2032.3 1269.6,2035.3 1269.7,2038.4 1269.7,2041.5 1269.8,2044.5 1270,2047.6 1270.1,2050.7 1270.3,2053.8 1270.6,2056.9 1270.8,2059.9 1271.1,2063 1271.4,2066.1 1271.7,2069.2 1272,2072.2 1272.4,2075.3 1272.8,2078.4 1273.2,2081.4 1273.6,2084.5 1274.1,2087.5 1274.6,2090.6 1275.1,2093.6 1275.6,2096.7 1276.1,2099.7 1276.7,2102.7 1277.2,2105.7 1277.8,2108.7 1278.4,2111.7 1279,2114.7 1279.7,2117.6 1280.3,2120.6 1281,2123.5 1281.7,2126.4 1282.4,2129.4 1283.1,2132.3 1283.8,2135.1 1284.5,2138 1285.3,2140.9 1286.1,2143.7 1286.8,2146.5 1290.2,2183 1298.2,2234.4 1302.2,2278.5 1307.5,2334" fill="none" stroke="#8B2D90" stroke-width="5.3" stroke-linejoin="round" stroke-linecap="butt"/>
<polyline points="1779.4,1647.1 1776.8,1648.1 1774.2,1649 1771.5,1650 1768.8,1650.9 1766.1,1651.8 1763.4,1652.7 1760.7,1653.6 1758,1654.4 1755.2,1655.2 1752.5,1656 1749.7,1656.7 1746.9,1657.4 1744.1,1658.1 1741.3,1658.8 1738.5,1659.5 1735.6,1660.1 1732.8,1660.8 1729.9,1661.4 1727,1662 1724.1,1662.6 1721.2,1663.1 1718.3,1663.7 1715.4,1664.2 1712.5,1664.7 1709.6,1665.2 1706.6,1665.7 1703.7,1666.1 1700.7,1666.6 1697.7,1667 1694.8,1667.5 1691.8,1667.9 1688.8,1668.3 1685.8,1668.7 1682.8,1669.1 1679.8,1669.5 1676.8,1669.9 1673.7,1670.3 1670.7,1670.6 1667.7,1671 1664.7,1671.3 1661.6,1671.7 1658.6,1672 1655.5,1672.4 1652.5,1672.7 1649.4,1673.1 1646.4,1673.4 1643.3,1673.7 1640.3,1674.1 1637.2,1674.4 1634.2,1674.7 1631.1,1675.1 1628,1675.4 1625,1675.8 1621.9,1676.1 1618.9,1676.5 1615.8,1676.8 1612.8,1677.2 1609.7,1677.5 1606.7,1677.9 1603.6,1678.3 1600.6,1678.7 1597.5,1679.1 1594.5,1679.5 1591.5,1679.9 1588.4,1680.3 1585.4,1680.8 1582.4,1681.2 1579.4,1681.7 1576.3,1682.1 1573.3,1682.6 1570.3,1683.1 1567.3,1683.6 1564.4,1684.2 1561.4,1684.7 1558.4,1685.3 1555.4,1685.8 1552.5,1686.4 1549.5,1687 1546.6,1687.7 1543.7,1688.3 1540.7,1689 1537.8,1689.7 1534.9,1690.4 1532,1691.1 1529.2,1691.9 1526.3,1692.7 1523.4,1693.5 1520.6,1694.3 1517.7,1695.1 1514.9,1696 1512.1,1696.9 1509.3,1697.9 1506.5,1698.8 1503.8,1699.8 1501,1700.8 1498.3,1701.9 1495.5,1702.9 1492.8,1704 1490.1,1705.2 1487.4,1706.3 1484.8,1707.5 1482.1,1708.7 1479.4,1709.9 1476.8,1711.2 1474.2,1712.5 1471.6,1713.8 1469,1715.1 1466.4,1716.5 1463.8,1717.9 1461.2,1719.3 1458.7,1720.7 1456.1,1722.1 1453.6,1723.6 1451,1725.1 1448.5,1726.6 1446,1728.2 1443.5,1729.7 1441,1731.3 1438.5,1732.9 1436,1734.5 1433.6,1736.1 1431.1,1737.8 1428.7,1739.5 1426.2,1741.1 1423.8,1742.8 1421.3,1744.6 1418.9,1746.3 1416.5,1748 1414,1749.8 1411.6,1751.6 1409.2,1753.4 1406.8,1755.2 1404.4,1757 1402,1758.9 1399.6,1760.7 1397.2,1762.6 1394.9,1764.4 1392.5,1766.3 1390.1,1768.2 1387.7,1770.1 1385.4,1772 1383,1774 1380.6,1775.9 1378.3,1777.8 1375.9,1779.8 1373.5,1781.8 1371.2,1783.7 1368.8,1785.7 1366.4,1787.7 1364.1,1789.7 1361.7,1791.7 1359.3,1793.7 1357,1795.7 1354.6,1797.7 1352.2,1799.7 1349.9,1801.7 1347.5,1803.7 1345.1,1805.8 1342.8,1807.8 1340.4,1809.8 1338,1811.8 1335.6,1813.9 1333.3,1815.9 1330.9,1818 1328.5,1820 1326.1,1822 1323.8,1824.1 1321.4,1826.2 1319,1828.2 1316.7,1830.3 1314.3,1832.4 1312,1834.4 1309.7,1836.5 1307.4,1838.6 1305.1,1840.7 1302.8,1842.8 1300.5,1844.9 1298.2,1847 1296,1849.1 1293.7,1851.3 1291.5,1853.4 1289.3,1855.6 1287.1,1857.7 1285,1859.9 1282.8,1862 1280.7,1864.2 1278.6,1866.4 1276.5,1868.6 1274.4,1870.8 1272.4,1873 1270.4,1875.3 1268.4,1877.5 1266.5,1879.8 1264.5,1882 1262.7,1884.3 1260.8,1886.6 1259,1888.9 1257.1,1891.2 1255.4,1893.5 1253.6,1895.9 1251.9,1898.2 1250.3,1900.6 1248.6,1902.9 1247,1905.3 1245.5,1907.7 1244,1910.2 1242.5,1912.6 1241.1,1915 1239.7,1917.5 1238.3,1920 1237,1922.5 1235.7,1925 1234.5,1927.5 1233.3,1930.1 1232.2,1932.6 1231.1,1935.2 1230.1,1937.8 1229.1,1940.4 1228.2,1943.1 1227.3,1945.7 1226.5,1948.4 1225.7,1951.1 1225,1953.8 1224.3,1956.5 1223.7,1959.3 1223.2,1962 1222.7,1964.8 1222.3,1967.6 1221.9,1970.4 1221.6,1973.3 1221.3,1976.1 1221.1,1979 1220.9,1981.9 1220.8,1984.8 1220.8,1987.7 1220.8,1990.7 1220.8,1993.6 1220.9,1996.6 1221.1,1999.6 1221.3,2002.6 1221.5,2005.5 1221.8,2008.5 1222.1,2011.6 1222.5,2014.6 1222.9,2017.6 1223.3,2020.6 1223.8,2023.7 1224.4,2026.7 1225,2029.7 1225.6,2032.8 1226.2,2035.8 1226.9,2038.9 1227.6,2041.9 1228.4,2044.9 1229.1,2048 1230,2051 1230.8,2054 1231.7,2057.1 1232.6,2060.1 1233.5,2063.1 1234.5,2066.1 1235.5,2069.1 1236.5,2072.1 1237.5,2075.1 1238.6,2078 1239.7,2081 1240.8,2084 1241.9,2086.9 1243.1,2089.8 1244.2,2092.7 1245.4,2095.6 1246.6,2098.5 1247.9,2101.3 1249.1,2104.2 1250.3,2107 1251.6,2109.8 1252.9,2112.6 1254.2,2115.3 1255.5,2118.1 1256.8,2120.8 1258.1,2123.5 1259.4,2126.1 1260.7,2128.8 1262.1,2131.4 1263.4,2134 1264.7,2136.6 1266.1,2139.1 1267.4,2141.6 1268.8,2144.1 1270.1,2146.5 1275.2,2183 1288.2,2234.4 1293.5,2278.5 1302.2,2334" fill="none" stroke="#5DAD2A" stroke-width="5.3" stroke-linejoin="round" stroke-linecap="butt"/>
<rect x="1601.5" y="2081.9" width="329.4" height="255" fill="#fff" stroke="#222222" stroke-width="4.2"/>
<line x1="1617.6" y1="2111.9" x2="1768.9" y2="2111.9" stroke="#0072C0" stroke-width="5.3"/>
<text x="1778.2" y="2128" font-size="41" font-family="'Liberation Serif','Times New Roman',serif" fill="#000">No eddy</text>
<line x1="1617.6" y1="2160.7" x2="1768.9" y2="2160.7" stroke="#F9551A" stroke-width="5.3"/>
<text x="1778.2" y="2176.8" font-size="41" font-family="'Liberation Serif','Times New Roman',serif" fill="#000">0.1 m</text>
<line x1="1617.6" y1="2209.4" x2="1768.9" y2="2209.4" stroke="#FDB212" stroke-width="5.3"/>
<text x="1778.2" y="2225.5" font-size="41" font-family="'Liberation Serif','Times New Roman',serif" fill="#000">0.2 m</text>
<line x1="1617.6" y1="2258.2" x2="1768.9" y2="2258.2" stroke="#8B2D90" stroke-width="5.3"/>
<text x="1778.2" y="2274.2" font-size="41" font-family="'Liberation Serif','Times New Roman',serif" fill="#000">0.3 m</text>
<line x1="1617.6" y1="2306.9" x2="1768.9" y2="2306.9" stroke="#5DAD2A" stroke-width="5.3"/>
<text x="1778.2" y="2323" font-size="41" font-family="'Liberation Serif','Times New Roman',serif" fill="#000">0.4 m</text>
<rect x="1123" y="1639.1" width="807.9" height="697.8" fill="none" stroke="#222222" stroke-width="5.7"/>
<text x="1142.5" y="1696.9" font-size="61" font-family="'Liberation Serif','Times New Roman',serif" fill="#000">(g)</text>
<g><line x1="1325.5" y1="2408.2" x2="1325.5" y2="3106.2" stroke="#dcdcdc" stroke-width="5.2" stroke-dasharray="14.7 15.3" stroke-dashoffset="0.6"/><line x1="1528" y1="2408.2" x2="1528" y2="3106.2" stroke="#dcdcdc" stroke-width="5.2" stroke-dasharray="14.7 15.3" stroke-dashoffset="0.6"/><line x1="1730.4" y1="2408.2" x2="1730.4" y2="3106.2" stroke="#dcdcdc" stroke-width="5.2" stroke-dasharray="14.7 15.3" stroke-dashoffset="0.6"/><line x1="1930.9" y1="2547.4" x2="1123" y2="2547.4" stroke="#dcdcdc" stroke-width="5.2" stroke-dasharray="14.7 15.3" stroke-dashoffset="0"/><line x1="1930.9" y1="2687.1" x2="1123" y2="2687.1" stroke="#dcdcdc" stroke-width="5.2" stroke-dasharray="14.7 15.3" stroke-dashoffset="0"/><line x1="1930.9" y1="2826.9" x2="1123" y2="2826.9" stroke="#dcdcdc" stroke-width="5.2" stroke-dasharray="14.7 15.3" stroke-dashoffset="0"/><line x1="1930.9" y1="2966.6" x2="1123" y2="2966.6" stroke="#dcdcdc" stroke-width="5.2" stroke-dasharray="14.7 15.3" stroke-dashoffset="0"/></g>
<polyline points="1655.5,2415 1660.9,2431.7 1664.5,2452 1663.1,2454.5 1661.5,2457.1 1660,2459.6 1658.4,2462 1656.9,2464.5 1655.3,2467 1653.7,2469.5 1652.1,2472 1650.5,2474.5 1648.9,2477 1647.3,2479.4 1645.6,2481.9 1644,2484.4 1642.3,2486.8 1640.7,2489.3 1639,2491.7 1637.3,2494.2 1635.7,2496.6 1634,2499.1 1632.3,2501.5 1630.6,2504 1628.9,2506.4 1627.1,2508.8 1625.4,2511.3 1623.7,2513.7 1622,2516.1 1620.2,2518.6 1618.5,2521 1616.7,2523.4 1614.9,2525.8 1613.2,2528.3 1611.4,2530.7 1609.6,2533.1 1607.9,2535.5 1606.1,2537.9 1604.3,2540.3 1602.5,2542.7 1600.7,2545.1 1598.9,2547.5 1597.1,2550 1595.3,2552.4 1593.5,2554.8 1591.7,2557.2 1589.8,2559.6 1588,2562 1586.2,2564.3 1584.3,2566.7 1582.5,2569.1 1580.7,2571.5 1578.8,2573.9 1577,2576.3 1575.1,2578.7 1573.3,2581.1 1571.4,2583.5 1569.6,2585.8 1567.7,2588.2 1565.8,2590.6 1564,2593 1562.1,2595.4 1560.2,2597.7 1558.4,2600.1 1556.5,2602.5 1554.6,2604.9 1552.7,2607.2 1550.8,2609.6 1548.9,2612 1547.1,2614.3 1545.2,2616.7 1543.3,2619.1 1541.4,2621.4 1539.5,2623.8 1537.6,2626.2 1535.7,2628.5 1533.8,2630.9 1531.9,2633.3 1530,2635.6 1528.1,2638 1526.2,2640.3 1524.3,2642.7 1522.4,2645.1 1520.5,2647.4 1518.6,2649.8 1516.7,2652.1 1514.7,2654.5 1512.8,2656.8 1510.9,2659.2 1509,2661.5 1507.1,2663.9 1505.2,2666.2 1503.3,2668.6 1501.4,2670.9 1499.5,2673.3 1497.6,2675.6 1495.7,2678 1493.7,2680.3 1491.8,2682.7 1489.9,2685.1 1488,2687.4 1486.1,2689.8 1484.2,2692.1 1482.3,2694.5 1480.4,2696.8 1478.5,2699.2 1476.6,2701.5 1474.7,2703.9 1472.9,2706.3 1471,2708.6 1469.1,2711 1467.2,2713.3 1465.3,2715.7 1463.5,2718.1 1461.6,2720.5 1459.7,2722.8 1457.8,2725.2 1456,2727.6 1454.1,2729.9 1452.3,2732.3 1450.4,2734.7 1448.6,2737.1 1446.7,2739.5 1444.9,2741.9 1443.1,2744.3 1441.2,2746.7 1439.4,2749.1 1437.6,2751.5 1435.8,2753.9 1434,2756.3 1432.2,2758.7 1430.4,2761.1 1428.6,2763.5 1426.8,2765.9 1425,2768.4 1423.2,2770.8 1421.5,2773.2 1419.7,2775.7 1417.9,2778.1 1416.2,2780.6 1414.5,2783 1412.7,2785.5 1411,2787.9 1409.3,2790.4 1407.6,2792.9 1405.8,2795.3 1404.1,2797.8 1402.5,2800.3 1400.8,2802.8 1399.1,2805.3 1397.4,2807.8 1395.8,2810.3 1394.1,2812.8 1392.5,2815.3 1390.8,2817.8 1389.2,2820.3 1387.6,2822.9 1386,2825.4 1384.4,2827.9 1382.8,2830.5 1381.2,2833 1379.6,2835.6 1378.1,2838.2 1376.5,2840.7 1375,2843.3 1373.4,2845.9 1371.9,2848.5 1370.4,2851.1 1368.9,2853.7 1367.4,2856.3 1365.9,2858.9 1364.5,2861.6 1363,2864.2 1361.6,2866.9 1360.1,2869.5 1358.7,2872.2 1357.3,2874.8 1355.9,2877.5 1354.5,2880.2 1353.1,2882.9 1351.8,2885.6 1350.4,2888.3 1349.1,2891 1347.7,2893.7 1346.4,2896.4 1345.1,2899.2 1343.8,2901.9 1342.6,2904.7 1341.3,2907.4 1340,2910.2 1338.8,2913 1337.6,2915.8 1328.6,2967.6 1323.6,3003.4 1323.6,3050.2 1323.6,3103" fill="none" stroke="#0072C0" stroke-width="5.3" stroke-linejoin="round" stroke-linecap="butt"/>
<polyline points="1646.8,2415 1650.8,2431.7 1652,2452 1650.3,2454.4 1648.5,2456.7 1646.7,2459 1644.9,2461.3 1643,2463.5 1641.2,2465.8 1639.3,2468 1637.4,2470.2 1635.4,2472.4 1633.5,2474.6 1631.5,2476.8 1629.5,2479 1627.5,2481.2 1625.5,2483.3 1623.5,2485.5 1621.4,2487.6 1619.4,2489.7 1617.3,2491.9 1615.2,2494 1613.2,2496.1 1611,2498.2 1608.9,2500.3 1606.8,2502.4 1604.7,2504.5 1602.5,2506.5 1600.4,2508.6 1598.2,2510.7 1596.1,2512.8 1593.9,2514.8 1591.7,2516.9 1589.6,2519 1587.4,2521 1585.2,2523.1 1583,2525.1 1580.8,2527.2 1578.7,2529.3 1576.5,2531.3 1574.3,2533.4 1572.1,2535.5 1569.9,2537.6 1567.7,2539.6 1565.5,2541.7 1563.4,2543.8 1561.2,2545.9 1559,2548 1556.8,2550 1554.6,2552.1 1552.5,2554.2 1550.3,2556.3 1548.1,2558.4 1545.9,2560.5 1543.8,2562.6 1541.6,2564.7 1539.4,2566.8 1537.3,2569 1535.1,2571.1 1533,2573.2 1530.8,2575.3 1528.7,2577.5 1526.5,2579.6 1524.4,2581.7 1522.2,2583.9 1520.1,2586 1518,2588.2 1515.8,2590.3 1513.7,2592.5 1511.6,2594.6 1509.5,2596.8 1507.4,2599 1505.3,2601.2 1503.2,2603.3 1501.1,2605.5 1499,2607.7 1496.9,2609.9 1494.8,2612.1 1492.7,2614.3 1490.7,2616.5 1488.6,2618.8 1486.5,2621 1484.5,2623.2 1482.4,2625.5 1480.4,2627.7 1478.4,2630 1476.4,2632.2 1474.3,2634.5 1472.3,2636.7 1470.3,2639 1468.3,2641.3 1466.3,2643.6 1464.4,2645.9 1462.4,2648.2 1460.4,2650.5 1458.5,2652.8 1456.5,2655.1 1454.6,2657.4 1452.6,2659.8 1450.7,2662.1 1448.8,2664.5 1446.9,2666.8 1445,2669.2 1443.1,2671.5 1441.2,2673.9 1439.4,2676.3 1437.5,2678.7 1435.7,2681.1 1433.8,2683.5 1432,2685.9 1430.2,2688.3 1428.4,2690.8 1426.6,2693.2 1424.8,2695.6 1423,2698.1 1421.2,2700.5 1419.4,2703 1417.7,2705.5 1415.9,2707.9 1414.2,2710.4 1412.5,2712.9 1410.8,2715.4 1409.1,2717.9 1407.4,2720.4 1405.7,2722.9 1404.1,2725.5 1402.4,2728 1400.8,2730.5 1399.1,2733.1 1397.5,2735.6 1395.9,2738.2 1394.3,2740.7 1392.7,2743.3 1391.1,2745.9 1389.6,2748.5 1388,2751.1 1386.5,2753.7 1384.9,2756.3 1383.4,2758.9 1381.9,2761.5 1380.4,2764.1 1379,2766.8 1377.5,2769.4 1376,2772.1 1374.6,2774.7 1373.2,2777.4 1371.8,2780 1370.4,2782.7 1369,2785.4 1367.6,2788.1 1366.2,2790.8 1364.9,2793.5 1363.5,2796.2 1362.2,2798.9 1360.9,2801.6 1359.6,2804.3 1358.3,2807.1 1357.1,2809.8 1355.8,2812.6 1354.6,2815.3 1353.4,2818.1 1352.2,2820.8 1351,2823.6 1349.8,2826.4 1348.6,2829.2 1347.5,2832 1346.3,2834.8 1345.2,2837.6 1344.1,2840.4 1343,2843.2 1341.9,2846 1340.9,2848.9 1339.8,2851.7 1338.8,2854.5 1337.8,2857.4 1336.8,2860.3 1335.8,2863.1 1334.8,2866 1333.9,2868.9 1332.9,2871.8 1332,2874.7 1331.1,2877.5 1330.2,2880.5 1329.4,2883.4 1328.5,2886.3 1327.7,2889.2 1326.9,2892.1 1326,2895.1 1325.3,2898 1324.5,2901 1323.7,2903.9 1323,2906.9 1322.3,2909.8 1321.6,2912.8 1320.9,2915.8 1320.6,2918.9 1320.2,2921.9 1319.9,2925 1319.6,2928 1319.3,2931.1 1319.1,2934.2 1318.8,2937.2 1318.5,2940.3 1318.3,2943.3 1318.1,2946.4 1317.9,2949.5 1317.7,2952.5 1317.5,2955.6 1317.3,2958.7 1317.1,2961.7 1316.9,2964.8 1316.8,2967.9 1316.7,2970.9 1316.5,2974 1316.4,2977.1 1316.3,2980.1 1316.2,2983.2 1316.1,2986.3 1316,2989.4 1315.9,2992.4 1315.9,2995.5 1315.8,2998.6 1315.8,3001.6 1315.7,3004.7 1315.7,3007.8 1315.7,3010.9 1315.6,3013.9 1315.6,3017 1315.6,3020.1 1315.6,3023.1 1315.6,3026.2 1315.7,3029.3 1315.7,3032.4 1315.7,3035.4 1315.7,3038.5 1315.8,3041.6 1315.8,3044.7 1315.9,3047.7 1315.9,3050.8 1316,3053.9 1316.1,3056.9 1316.1,3060 1316.2,3063.1 1316.3,3066.2 1316.4,3069.2 1316.5,3072.3 1316.6,3075.4 1316.7,3078.4 1316.8,3081.5 1316.9,3084.6 1317,3087.7 1317.1,3090.7 1317.2,3093.8 1317.4,3096.9 1317.5,3099.9 1317.6,3103" fill="none" stroke="#F9551A" stroke-width="5.3" stroke-linejoin="round" stroke-linecap="butt"/>
<polyline points="1638.8,2415 1640.8,2431.7 1640.5,2452 1638.5,2454.3 1636.5,2456.5 1634.4,2458.6 1632.3,2460.7 1630.1,2462.7 1627.9,2464.7 1625.7,2466.7 1623.5,2468.6 1621.2,2470.5 1618.9,2472.4 1616.5,2474.2 1614.2,2476 1611.8,2477.8 1609.4,2479.6 1607,2481.3 1604.6,2483 1602.1,2484.7 1599.7,2486.4 1597.2,2488.1 1594.8,2489.7 1592.3,2491.4 1589.9,2493 1587.4,2494.7 1585,2496.3 1582.5,2497.9 1580.1,2499.6 1577.6,2501.2 1575.2,2502.9 1572.8,2504.5 1570.4,2506.2 1568,2507.9 1565.6,2509.6 1563.2,2511.3 1560.9,2513 1558.6,2514.7 1556.2,2516.4 1553.9,2518.1 1551.6,2519.9 1549.3,2521.6 1547,2523.4 1544.7,2525.2 1542.4,2527 1540.1,2528.8 1537.8,2530.5 1535.5,2532.3 1533.2,2534.2 1530.9,2536 1528.6,2537.8 1526.3,2539.6 1524,2541.5 1521.7,2543.3 1519.4,2545.1 1517.1,2547 1514.7,2548.9 1512.4,2550.7 1510,2552.6 1507.7,2554.5 1505.3,2556.3 1503,2558.2 1500.6,2560.1 1498.3,2562 1495.9,2563.9 1493.5,2565.8 1491.1,2567.7 1488.8,2569.6 1486.4,2571.6 1484,2573.5 1481.6,2575.4 1479.3,2577.4 1476.9,2579.3 1474.5,2581.3 1472.1,2583.3 1469.8,2585.2 1467.4,2587.2 1465,2589.2 1462.7,2591.2 1460.3,2593.2 1458,2595.2 1455.6,2597.3 1453.3,2599.3 1450.9,2601.3 1448.6,2603.4 1446.3,2605.4 1444,2607.5 1441.7,2609.6 1439.4,2611.7 1437.1,2613.8 1434.8,2615.9 1432.6,2618 1430.3,2620.1 1428.1,2622.2 1425.9,2624.4 1423.6,2626.5 1421.4,2628.7 1419.3,2630.8 1417.1,2633 1414.9,2635.2 1412.8,2637.4 1410.6,2639.6 1408.5,2641.9 1406.4,2644.1 1404.4,2646.3 1402.3,2648.6 1400.3,2650.9 1398.2,2653.1 1396.2,2655.4 1394.2,2657.7 1392.3,2660 1390.3,2662.4 1388.4,2664.7 1386.5,2667.1 1384.6,2669.4 1382.8,2671.8 1380.9,2674.2 1379.1,2676.6 1377.3,2679 1375.6,2681.4 1373.8,2683.8 1372.1,2686.3 1370.4,2688.8 1368.8,2691.2 1367.1,2693.7 1365.5,2696.2 1363.9,2698.7 1362.4,2701.3 1360.9,2703.8 1359.3,2706.4 1357.9,2708.9 1356.4,2711.5 1355,2714.1 1353.6,2716.7 1352.2,2719.3 1350.8,2721.9 1349.5,2724.5 1348.2,2727.2 1346.9,2729.8 1345.6,2732.5 1344.3,2735.2 1343.1,2737.9 1341.9,2740.6 1340.7,2743.3 1339.6,2746 1338.4,2748.7 1337.3,2751.4 1336.2,2754.2 1335.2,2756.9 1334.1,2759.7 1333.1,2762.5 1332.1,2765.3 1331.1,2768 1330.2,2770.8 1329.2,2773.6 1328.3,2776.5 1327.4,2779.3 1326.5,2782.1 1325.6,2785 1324.8,2787.8 1324,2790.7 1323.2,2793.5 1322.4,2796.4 1321.6,2799.3 1320.9,2802.2 1320.1,2805.1 1319.4,2808 1318.7,2810.9 1318.1,2813.8 1317.4,2816.7 1316.8,2819.6 1316.2,2822.6 1315.6,2825.5 1315,2828.4 1314.4,2831.4 1313.9,2834.3 1313.3,2837.3 1312.8,2840.3 1312.3,2843.2 1311.8,2846.2 1311.4,2849.2 1310.9,2852.2 1310.5,2855.2 1310.1,2858.2 1309.7,2861.2 1309.3,2864.2 1308.9,2867.2 1308.5,2870.2 1308.2,2873.2 1307.9,2876.2 1307.6,2879.3 1307.3,2882.3 1307,2885.3 1306.7,2888.4 1306.5,2891.4 1306.2,2894.4 1306,2897.5 1305.8,2900.5 1305.6,2903.6 1305.4,2906.6 1305.2,2909.7 1305,2912.7 1304.9,2915.8 1304.7,2918.8 1304.6,2921.9 1304.5,2924.9 1304.4,2928 1304.3,2931.1 1304.2,2934.1 1304.2,2937.2 1304.1,2940.3 1304,2943.3 1304,2946.4 1304,2949.5 1304,2952.5 1304,2955.6 1304,2958.7 1304,2961.7 1304,2964.8 1304,2967.9 1304.1,2970.9 1304.1,2974 1304.2,2977 1304.3,2980.1 1304.4,2983.2 1304.5,2986.2 1304.6,2989.3 1304.7,2992.3 1304.8,2995.4 1304.9,2998.5 1305,3001.5 1305.2,3004.6 1305.3,3007.6 1305.5,3010.6 1305.6,3013.7 1305.8,3016.7 1306,3019.8 1306.1,3022.8 1306.3,3025.8 1306.5,3028.8 1306.7,3031.9 1306.9,3034.9 1307.1,3037.9 1307.4,3040.9 1307.6,3043.9 1307.8,3046.9 1308,3049.9 1308.3,3052.9 1308.5,3055.9 1308.8,3058.9 1309,3061.9 1309.3,3064.8 1309.5,3067.8 1309.8,3070.8 1310.1,3073.7 1310.3,3076.7 1310.6,3079.6 1310.9,3082.6 1311.2,3085.5 1311.5,3088.4 1311.7,3091.4 1312,3094.3 1312.3,3097.2 1312.6,3100.1 1312.9,3103" fill="none" stroke="#FDB212" stroke-width="5.3" stroke-linejoin="round" stroke-linecap="butt"/>
<polyline points="1629.5,2415 1630.8,2431.7 1628,2452 1626,2454.2 1623.9,2456.2 1621.7,2458.2 1619.5,2460.2 1617.3,2462.1 1615,2463.9 1612.7,2465.7 1610.4,2467.5 1608,2469.2 1605.6,2470.8 1603.1,2472.5 1600.7,2474.1 1598.2,2475.6 1595.6,2477.1 1593.1,2478.7 1590.5,2480.1 1588,2481.6 1585.4,2483.1 1582.8,2484.5 1580.2,2485.9 1577.6,2487.3 1574.9,2488.7 1572.3,2490.1 1569.7,2491.6 1567.1,2493 1564.4,2494.4 1561.8,2495.8 1559.2,2497.2 1556.5,2498.6 1553.9,2500 1551.3,2501.4 1548.6,2502.8 1546,2504.2 1543.4,2505.6 1540.8,2507 1538.1,2508.5 1535.5,2509.9 1532.9,2511.3 1530.2,2512.7 1527.6,2514.2 1525,2515.6 1522.3,2517 1519.7,2518.5 1517.1,2519.9 1514.5,2521.4 1511.8,2522.9 1509.2,2524.3 1506.6,2525.8 1504,2527.3 1501.3,2528.8 1498.7,2530.3 1496.1,2531.8 1493.5,2533.3 1490.9,2534.8 1488.3,2536.4 1485.7,2537.9 1483.1,2539.5 1480.5,2541 1477.9,2542.6 1475.3,2544.1 1472.7,2545.7 1470.1,2547.3 1467.5,2548.9 1464.9,2550.5 1462.4,2552.2 1459.8,2553.8 1457.2,2555.4 1454.7,2557.1 1452.1,2558.7 1449.6,2560.4 1447.1,2562.1 1444.5,2563.8 1442,2565.5 1439.5,2567.2 1437,2568.9 1434.5,2570.6 1432,2572.4 1429.5,2574.1 1427,2575.9 1424.6,2577.7 1422.1,2579.4 1419.6,2581.2 1417.2,2583.1 1414.8,2584.9 1412.3,2586.7 1409.9,2588.5 1407.5,2590.4 1405.1,2592.3 1402.8,2594.2 1400.4,2596 1398,2598 1395.7,2599.9 1393.3,2601.8 1391,2603.7 1388.7,2605.7 1386.4,2607.7 1384.1,2609.7 1381.8,2611.6 1379.5,2613.7 1377.3,2615.7 1375.1,2617.7 1372.8,2619.8 1370.6,2621.8 1368.4,2623.9 1366.2,2626 1364.1,2628.1 1361.9,2630.2 1359.8,2632.4 1357.6,2634.5 1355.5,2636.7 1353.4,2638.9 1351.4,2641 1349.3,2643.3 1347.2,2645.5 1345.2,2647.7 1343.2,2650 1341.2,2652.2 1339.2,2654.5 1337.3,2656.8 1335.3,2659.2 1333.4,2661.5 1331.5,2663.8 1329.6,2666.2 1327.7,2668.6 1325.9,2671 1324.1,2673.4 1322.3,2675.8 1320.5,2678.3 1318.8,2680.7 1317,2683.2 1315.4,2685.7 1313.7,2688.2 1312.1,2690.7 1310.4,2693.3 1308.9,2695.8 1307.3,2698.4 1305.8,2701 1304.3,2703.6 1302.9,2706.2 1301.5,2708.8 1300.1,2711.5 1298.8,2714.1 1297.5,2716.8 1296.2,2719.5 1295,2722.2 1293.8,2724.9 1292.6,2727.7 1291.5,2730.4 1290.5,2733.2 1289.4,2736 1288.5,2738.8 1287.5,2741.6 1286.7,2744.5 1285.8,2747.3 1285,2750.2 1284.3,2753.1 1283.6,2756 1283,2758.9 1282.4,2761.8 1281.8,2764.8 1281.4,2767.7 1280.9,2770.7 1280.5,2773.7 1280.2,2776.7 1279.9,2779.7 1279.6,2782.7 1279.4,2785.7 1279.2,2788.8 1279,2791.8 1278.9,2794.9 1278.8,2797.9 1278.8,2801 1278.8,2804.1 1278.8,2807.2 1278.9,2810.2 1279,2813.3 1279.1,2816.4 1279.2,2819.5 1279.4,2822.6 1279.6,2825.7 1279.8,2828.8 1280,2831.9 1280.3,2835 1280.6,2838.1 1280.9,2841.2 1281.2,2844.3 1281.5,2847.4 1281.8,2850.5 1282.2,2853.5 1282.5,2856.6 1282.9,2859.7 1283.3,2862.7 1283.7,2865.8 1284.1,2868.8 1284.5,2871.9 1284.9,2874.9 1285.3,2877.9 1285.7,2880.9 1286.1,2883.9 1286.5,2886.9 1286.9,2889.8 1287.3,2892.8 1287.7,2895.7 1288.1,2898.6 1288.5,2901.5 1288.8,2904.4 1289.2,2907.3 1289.5,2910.1 1289.9,2913 1290.2,2915.8 1293.5,2967.6 1298.9,3003.4 1302.9,3050.2 1308,3103" fill="none" stroke="#8B2D90" stroke-width="5.3" stroke-linejoin="round" stroke-linecap="butt"/>
<polyline points="1620.8,2415 1620.8,2431.7 1615,2452 1613,2454.2 1610.9,2456.4 1608.8,2458.4 1606.6,2460.4 1604.3,2462.3 1601.9,2464.1 1599.5,2465.8 1597.1,2467.5 1594.6,2469.1 1592.1,2470.6 1589.5,2472.1 1586.9,2473.6 1584.2,2475 1581.5,2476.3 1578.8,2477.6 1576.1,2478.9 1573.3,2480.2 1570.6,2481.4 1567.8,2482.7 1565,2483.9 1562.3,2485.1 1559.5,2486.2 1556.7,2487.4 1553.9,2488.6 1551.1,2489.8 1548.4,2491 1545.6,2492.2 1542.9,2493.5 1540.2,2494.7 1537.5,2495.9 1534.8,2497.2 1532.1,2498.4 1529.4,2499.7 1526.7,2500.9 1524,2502.2 1521.3,2503.5 1518.7,2504.8 1516,2506.1 1513.4,2507.3 1510.7,2508.6 1508.1,2509.9 1505.4,2511.3 1502.8,2512.6 1500.2,2513.9 1497.5,2515.2 1494.9,2516.5 1492.3,2517.9 1489.6,2519.2 1487,2520.6 1484.4,2521.9 1481.8,2523.3 1479.2,2524.6 1476.5,2526 1473.9,2527.3 1471.3,2528.7 1468.7,2530.1 1466,2531.5 1463.4,2532.8 1460.8,2534.2 1458.1,2535.6 1455.5,2537 1452.9,2538.4 1450.2,2539.8 1447.6,2541.2 1444.9,2542.6 1442.3,2544 1439.6,2545.4 1436.9,2546.8 1434.2,2548.2 1431.6,2549.6 1428.9,2551 1426.2,2552.4 1423.5,2553.9 1420.8,2555.3 1418.1,2556.7 1415.4,2558.1 1412.6,2559.6 1409.9,2561 1407.2,2562.5 1404.5,2563.9 1401.8,2565.4 1399.1,2566.8 1396.4,2568.3 1393.7,2569.8 1391,2571.3 1388.3,2572.8 1385.6,2574.3 1382.9,2575.8 1380.2,2577.3 1377.5,2578.9 1374.8,2580.4 1372.2,2582 1369.5,2583.5 1366.9,2585.1 1364.2,2586.7 1361.6,2588.3 1359,2589.9 1356.3,2591.5 1353.7,2593.1 1351.1,2594.8 1348.6,2596.5 1346,2598.1 1343.4,2599.8 1340.9,2601.5 1338.4,2603.2 1335.8,2605 1333.3,2606.7 1330.9,2608.5 1328.4,2610.3 1325.9,2612.1 1323.5,2613.9 1321.1,2615.7 1318.7,2617.6 1316.3,2619.4 1314,2621.3 1311.6,2623.2 1309.3,2625.2 1307,2627.1 1304.7,2629.1 1302.5,2631 1300.3,2633 1298.1,2635.1 1295.9,2637.1 1293.7,2639.2 1291.6,2641.3 1289.5,2643.4 1287.4,2645.5 1285.4,2647.7 1283.3,2649.9 1281.4,2652.1 1279.4,2654.3 1277.5,2656.6 1275.5,2658.8 1273.7,2661.1 1271.8,2663.5 1270,2665.8 1268.2,2668.2 1266.5,2670.6 1264.8,2673 1263.1,2675.5 1261.5,2678 1259.9,2680.5 1258.3,2683 1256.8,2685.6 1255.3,2688.1 1253.8,2690.7 1252.4,2693.4 1251.1,2696 1249.7,2698.6 1248.5,2701.3 1247.2,2704 1246.1,2706.7 1244.9,2709.5 1243.8,2712.2 1242.8,2715 1241.8,2717.7 1240.8,2720.5 1240,2723.3 1239.1,2726.2 1238.3,2729 1237.6,2731.8 1236.9,2734.7 1236.3,2737.6 1235.7,2740.5 1235.2,2743.4 1234.8,2746.3 1234.4,2749.2 1234.1,2752.1 1233.8,2755 1233.6,2758 1233.5,2760.9 1233.4,2763.9 1233.4,2766.8 1233.5,2769.8 1233.6,2772.8 1233.8,2775.7 1234,2778.7 1234.4,2781.7 1234.8,2784.7 1235.2,2787.7 1235.7,2790.6 1236.3,2793.6 1236.9,2796.6 1237.6,2799.6 1238.4,2802.6 1239.1,2805.6 1239.9,2808.6 1240.8,2811.6 1241.6,2814.6 1242.6,2817.6 1243.5,2820.5 1244.4,2823.5 1245.4,2826.5 1246.4,2829.5 1247.4,2832.4 1248.4,2835.4 1249.4,2838.4 1250.4,2841.3 1251.4,2844.3 1252.4,2847.2 1253.4,2850.1 1254.4,2853.1 1255.4,2856 1256.4,2858.9 1257.4,2861.8 1258.3,2864.7 1259.2,2867.6 1260.2,2870.5 1261.1,2873.4 1262,2876.3 1262.9,2879.1 1263.8,2882 1264.6,2884.8 1265.4,2887.7 1266.3,2890.5 1267.1,2893.4 1267.9,2896.2 1268.6,2899 1269.4,2901.8 1270.1,2904.6 1270.8,2907.4 1271.5,2910.2 1272.2,2913 1272.8,2915.8 1280.8,2967.6 1290.2,3003.4 1296.2,3050.2 1302.9,3103" fill="none" stroke="#5DAD2A" stroke-width="5.3" stroke-linejoin="round" stroke-linecap="butt"/>
<rect x="1601.5" y="2851.2" width="329.4" height="255" fill="#fff" stroke="#222222" stroke-width="4.2"/>
<line x1="1617.6" y1="2881.2" x2="1768.9" y2="2881.2" stroke="#0072C0" stroke-width="5.3"/>
<text x="1778.2" y="2897.3" font-size="41" font-family="'Liberation Serif','Times New Roman',serif" fill="#000">No eddy</text>
<line x1="1617.6" y1="2929.9" x2="1768.9" y2="2929.9" stroke="#F9551A" stroke-width="5.3"/>
<text x="1778.2" y="2946" font-size="41" font-family="'Liberation Serif','Times New Roman',serif" fill="#000">0.1 m</text>
<line x1="1617.6" y1="2978.7" x2="1768.9" y2="2978.7" stroke="#FDB212" stroke-width="5.3"/>
<text x="1778.2" y="2994.8" font-size="41" font-family="'Liberation Serif','Times New Roman',serif" fill="#000">0.2 m</text>
<line x1="1617.6" y1="3027.4" x2="1768.9" y2="3027.4" stroke="#8B2D90" stroke-width="5.3"/>
<text x="1778.2" y="3043.5" font-size="41" font-family="'Liberation Serif','Times New Roman',serif" fill="#000">0.3 m</text>
<line x1="1617.6" y1="3076.2" x2="1768.9" y2="3076.2" stroke="#5DAD2A" stroke-width="5.3"/>
<text x="1778.2" y="3092.3" font-size="41" font-family="'Liberation Serif','Times New Roman',serif" fill="#000">0.4 m</text>
<rect x="1123" y="2408.2" width="807.9" height="698" fill="none" stroke="#222222" stroke-width="5.7"/>
<text x="1142.5" y="2466" font-size="61" font-family="'Liberation Serif','Times New Roman',serif" fill="#000">(h)</text>
<text x="1527" y="83.9" font-size="67" font-family="'Liberation Serif','Times New Roman',serif" text-anchor="middle" fill="#000">CE</text>
<text x="1325.5" y="3162.5" font-size="45" font-family="'Liberation Serif','Times New Roman',serif" text-anchor="middle" fill="#000">1480</text>
<text x="1528" y="3162.5" font-size="45" font-family="'Liberation Serif','Times New Roman',serif" text-anchor="middle" fill="#000">1500</text>
<text x="1730.4" y="3162.5" font-size="45" font-family="'Liberation Serif','Times New Roman',serif" text-anchor="middle" fill="#000">1520</text>
<text transform="translate(77.6 450.7) rotate(-90)" x="0" y="0" font-size="60" font-family="'Liberation Serif','Times New Roman',serif" text-anchor="middle" fill="#000">Spring</text>
<text transform="translate(77.6 1219.2) rotate(-90)" x="0" y="0" font-size="60" font-family="'Liberation Serif','Times New Roman',serif" text-anchor="middle" fill="#000">Summer</text>
<text transform="translate(77.6 1988) rotate(-90)" x="0" y="0" font-size="60" font-family="'Liberation Serif','Times New Roman',serif" text-anchor="middle" fill="#000">Autumn</text>
<text transform="translate(77.6 2757.2) rotate(-90)" x="0" y="0" font-size="60" font-family="'Liberation Serif','Times New Roman',serif" text-anchor="middle" fill="#000">Winter</text>
<text x="1071.7" y="3232.8" font-size="60.3" font-family="'Liberation Serif','Times New Roman',serif" text-anchor="middle" fill="#000">Sound speed (m/s)</text>
</svg>
</body></html>
